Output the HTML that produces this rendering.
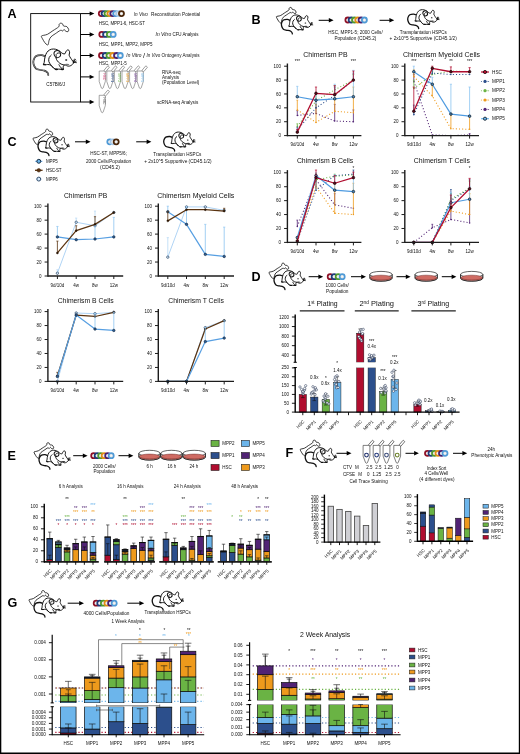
<!DOCTYPE html>
<html><head><meta charset="utf-8"><title>Figure</title>
<style>
html,body{margin:0;padding:0;background:#fff;}
body{width:520px;height:754px;overflow:hidden;}
svg{display:block;font-family:"Liberation Sans",sans-serif;}
</style></head><body>
<svg width="520" height="754" viewBox="0 0 520 754">
<rect x="0" y="0" width="520" height="754" fill="#fff"/>
<rect x="0" y="0" width="520" height="1.3" fill="#000"/>
<rect x="0" y="0" width="1.3" height="754" fill="#000"/>
<rect x="518.8" y="0" width="1.2" height="754" fill="#000"/>
<rect x="0" y="752.5" width="520" height="1.5" fill="#000"/>
<text x="7.6" y="17.9" font-size="12.6" fill="#000" font-weight="bold">A</text>
<rect x="30.7" y="13.6" width="49.8" height="88.4" fill="none" stroke="#000" stroke-width="0.9"/>
<line x1="80.5" y1="13.6" x2="90.1" y2="13.6" stroke="#000" stroke-width="1"/>
<polygon points="94.4,13.6 89.6,11.4 89.6,15.8" fill="#000"/>
<line x1="80.5" y1="34.5" x2="90.1" y2="34.5" stroke="#000" stroke-width="1"/>
<polygon points="94.4,34.5 89.6,32.3 89.6,36.7" fill="#000"/>
<line x1="80.5" y1="55.5" x2="90.1" y2="55.5" stroke="#000" stroke-width="1"/>
<polygon points="94.4,55.5 89.6,53.3 89.6,57.7" fill="#000"/>
<line x1="80.5" y1="76.9" x2="90.1" y2="76.9" stroke="#000" stroke-width="1"/>
<polygon points="94.4,76.9 89.6,74.7 89.6,79.1" fill="#000"/>
<line x1="80.5" y1="102" x2="90.1" y2="102" stroke="#000" stroke-width="1"/>
<polygon points="94.4,102 89.6,99.8 89.6,104.2" fill="#000"/>
<g transform="translate(36 18) scale(1)">
<path d="M5.4,18.1C5.6,17.52 6.68,17.6 7.7,17.3C8.72,17 9.97,17.07 11.5,16.3C13.03,15.53 15.03,13.95 16.9,12.7C18.77,11.45 21.67,9.83 22.7,8.8C23.73,7.77 22.8,7.1 23.1,6.5C23.4,5.9 23.93,5.32 24.5,5.2C25.07,5.08 26.03,5.38 26.5,5.8C26.97,6.22 26.92,7.28 27.3,7.7C27.68,8.12 28.22,8.15 28.8,8.3C29.38,8.45 30.15,8.07 30.8,8.6C31.45,9.13 32.52,10.65 32.7,11.5C32.88,12.35 32.42,13.43 31.9,13.7C31.38,13.97 30.23,13.47 29.6,13.1C28.97,12.73 28.62,11.5 28.1,11.5C27.58,11.5 27.08,12.97 26.5,13.1C25.92,13.23 25.82,11.85 24.6,12.3C23.38,12.75 20.8,14.72 19.2,15.8C17.6,16.88 16.02,17.72 15,18.8C13.98,19.88 13.55,21.07 13.1,22.3C12.65,23.53 12.62,25.43 12.3,26.2C11.98,26.97 11.78,27.17 11.2,26.9C10.62,26.63 9.58,25.62 8.8,24.6C8.02,23.58 7.07,21.88 6.5,20.8C5.93,19.72 5.2,18.68 5.4,18.1Z" fill="#fff" stroke="#111" stroke-width="0.8" stroke-linejoin="round"/>
</g>
<g transform="translate(30 44) scale(1)">
<path d="M15,12.3C14.42,12.1 12.97,11.15 11.5,11.1C10.03,11.05 7.52,11.2 6.2,12C4.88,12.8 4.03,14.53 3.6,15.9C3.17,17.27 3.2,18.75 3.6,20.2C4,21.65 4.83,23.63 6,24.6C7.17,25.57 9.2,25.67 10.6,26C12,26.33 13.23,26.13 14.4,26.6C15.57,27.07 16.95,28.07 17.6,28.8C18.25,29.53 18.18,30.63 18.3,31" fill="none" stroke="#111" stroke-width="1.7" stroke-linecap="round"/>
<path d="M15,12.3C14.42,12.1 12.97,11.15 11.5,11.1C10.03,11.05 7.52,11.2 6.2,12C4.88,12.8 4.03,14.53 3.6,15.9C3.17,17.27 3.2,18.75 3.6,20.2C4,21.65 4.83,23.63 6,24.6C7.17,25.57 9.2,25.67 10.6,26C12,26.33 13.23,26.13 14.4,26.6C15.57,27.07 16.95,28.07 17.6,28.8C18.25,29.53 18.18,30.63 18.3,31" fill="none" stroke="#fff" stroke-width="0.5" stroke-linecap="round"/>
<path d="M13.5,20.1C13.3,19.72 14.02,19.33 14.2,18.5C14.38,17.67 14.33,16.43 14.6,15.1C14.87,13.77 15.22,11.85 15.8,10.5C16.38,9.15 17.15,7.88 18.1,7C19.05,6.12 20.28,5.5 21.5,5.2C22.72,4.9 24.18,4.97 25.4,5.2C26.62,5.43 27.83,6.05 28.8,6.6C29.77,7.15 30.48,7.98 31.2,8.5C31.92,9.02 32.47,9.5 33.1,9.7C33.73,9.9 34.55,10.02 35,9.7C35.45,9.38 35.42,8.42 35.8,7.8C36.18,7.18 36.75,6.22 37.3,6C37.85,5.78 38.72,6.02 39.1,6.5C39.48,6.98 39.6,8.12 39.6,8.9C39.6,9.68 38.9,10.3 39.1,11.2C39.3,12.1 40.2,13.33 40.8,14.3C41.4,15.27 42.2,16.3 42.7,17C43.2,17.7 43.8,17.98 43.8,18.5C43.8,19.02 43.2,19.58 42.7,20.1C42.2,20.62 41.5,21.25 40.8,21.6C40.1,21.95 39.22,22.2 38.5,22.2C37.78,22.2 37.15,21.83 36.5,21.6C35.85,21.37 35.05,20.8 34.6,20.8C34.15,20.8 34.05,21.2 33.8,21.6C33.55,22 33.15,22.68 33.1,23.2C33.05,23.72 33.77,24.37 33.5,24.7C33.23,25.03 32.33,25.13 31.5,25.2C30.67,25.27 29.33,25.1 28.5,25.1C27.67,25.1 27.28,25.33 26.5,25.2C25.72,25.07 24.75,24.97 23.8,24.3C22.85,23.63 21.82,21.83 20.8,21.2C19.78,20.57 18.6,20.57 17.7,20.5C16.8,20.43 16.1,20.87 15.4,20.8C14.7,20.73 13.7,20.48 13.5,20.1Z" fill="#fff" stroke="#111" stroke-width="1" stroke-linejoin="round"/>
<path d="M21.5,10.8C21.12,11.25 19.65,12.4 19.2,13.5C18.75,14.6 18.53,16.18 18.8,17.4C19.07,18.62 19.97,19.65 20.8,20.8C21.63,21.95 23.3,23.72 23.8,24.3" fill="none" stroke="#111" stroke-width="1"/>
<path d="M28.8,20.4C29.03,20.8 29.68,22.1 30.2,22.8C30.72,23.5 31.62,24.3 31.9,24.6" fill="none" stroke="#111" stroke-width="1"/>
<path d="M25.8,12.8C25.92,13.25 26.05,14.6 26.5,15.5C26.95,16.4 27.72,17.43 28.5,18.2C29.28,18.97 30.18,19.62 31.2,20.1C32.22,20.58 34.03,20.93 34.6,21.1" fill="none" stroke="#111" stroke-width="1"/>
<ellipse cx="27.3" cy="10.1" rx="3.2" ry="3.5" transform="rotate(-20 27.3 10.1)" fill="#fff" stroke="#111" stroke-width="1"/>
<path d="M26.5,12.6C26.45,12.23 25.93,11.02 26.2,10.4C26.47,9.78 27.53,9.02 28.1,8.9C28.67,8.78 29.35,9.57 29.6,9.7" fill="none" stroke="#111" stroke-width="0.9"/>
<ellipse cx="36.2" cy="16" rx="1.1" ry="0.72" fill="#000"/>
<ellipse cx="36.9" cy="20.6" rx="2.4" ry="0.85" fill="#777"/>
<line x1="43.3" y1="17.9" x2="45.8" y2="15.1" stroke="#111" stroke-width="0.85"/>
<line x1="43.5" y1="18" x2="46.5" y2="17" stroke="#111" stroke-width="0.85"/>
<line x1="43.5" y1="18.3" x2="46.8" y2="18.7" stroke="#111" stroke-width="0.85"/>
<line x1="43.2" y1="17.8" x2="44.6" y2="14.7" stroke="#111" stroke-width="0.85"/>
<ellipse cx="43.5" cy="18.2" rx="0.8" ry="0.7" fill="#000"/>
<ellipse cx="26.4" cy="25.3" rx="1.8" ry="0.85" fill="#111"/>
<ellipse cx="32.3" cy="25.3" rx="1.8" ry="0.85" fill="#111"/>
<ellipse cx="14.4" cy="20.5" rx="1.6" ry="0.85" fill="#111"/>
</g>
<text x="46.3" y="85.88" font-size="4.66" fill="#111">C57Bl6/J</text>
<circle cx="101.3" cy="13.6" r="2.5" fill="#fff" stroke="#8e1026" stroke-width="1.8"/>
<circle cx="101.3" cy="13.6" r="1.15" fill="none" stroke="#c4c4c4" stroke-width="0.4"/>
<circle cx="104.18" cy="13.6" r="2.5" fill="#fff" stroke="#1f3c7c" stroke-width="1.8"/>
<circle cx="104.18" cy="13.6" r="1.15" fill="none" stroke="#c4c4c4" stroke-width="0.4"/>
<circle cx="107.06" cy="13.6" r="2.5" fill="#fff" stroke="#4f9a2e" stroke-width="1.8"/>
<circle cx="107.06" cy="13.6" r="1.15" fill="none" stroke="#c4c4c4" stroke-width="0.4"/>
<circle cx="109.94" cy="13.6" r="2.5" fill="#fff" stroke="#e28e16" stroke-width="1.8"/>
<circle cx="109.94" cy="13.6" r="1.15" fill="none" stroke="#c4c4c4" stroke-width="0.4"/>
<circle cx="112.82" cy="13.6" r="2.5" fill="#fff" stroke="#4a1f6e" stroke-width="1.8"/>
<circle cx="112.82" cy="13.6" r="1.15" fill="none" stroke="#c4c4c4" stroke-width="0.4"/>
<circle cx="115.7" cy="13.6" r="2.5" fill="#fff" stroke="#4f9ad6" stroke-width="1.8"/>
<circle cx="115.7" cy="13.6" r="1.15" fill="none" stroke="#c4c4c4" stroke-width="0.4"/>
<circle cx="118.58" cy="13.6" r="2.5" fill="#fff" stroke="#a9c9e8" stroke-width="1.8"/>
<circle cx="118.58" cy="13.6" r="1.15" fill="none" stroke="#c4c4c4" stroke-width="0.4"/>
<circle cx="121.46" cy="13.6" r="2.5" fill="#fff" stroke="#4a2609" stroke-width="1.8"/>
<circle cx="121.46" cy="13.6" r="1.15" fill="none" stroke="#c4c4c4" stroke-width="0.4"/>
<circle cx="101.8" cy="34.4" r="2.5" fill="#fff" stroke="#8e1026" stroke-width="1.8"/>
<circle cx="101.8" cy="34.4" r="1.15" fill="none" stroke="#c4c4c4" stroke-width="0.4"/>
<circle cx="105.6" cy="34.4" r="2.5" fill="#fff" stroke="#1f3c7c" stroke-width="1.8"/>
<circle cx="105.6" cy="34.4" r="1.15" fill="none" stroke="#c4c4c4" stroke-width="0.4"/>
<circle cx="109.4" cy="34.4" r="2.5" fill="#fff" stroke="#4f9a2e" stroke-width="1.8"/>
<circle cx="109.4" cy="34.4" r="1.15" fill="none" stroke="#c4c4c4" stroke-width="0.4"/>
<circle cx="113.2" cy="34.4" r="2.5" fill="#fff" stroke="#4f9ad6" stroke-width="1.8"/>
<circle cx="113.2" cy="34.4" r="1.15" fill="none" stroke="#c4c4c4" stroke-width="0.4"/>
<circle cx="101.5" cy="55.5" r="2.5" fill="#fff" stroke="#8e1026" stroke-width="1.8"/>
<circle cx="101.5" cy="55.5" r="1.15" fill="none" stroke="#c4c4c4" stroke-width="0.4"/>
<circle cx="105.26" cy="55.5" r="2.5" fill="#fff" stroke="#1f3c7c" stroke-width="1.8"/>
<circle cx="105.26" cy="55.5" r="1.15" fill="none" stroke="#c4c4c4" stroke-width="0.4"/>
<circle cx="109.02" cy="55.5" r="2.5" fill="#fff" stroke="#4f9a2e" stroke-width="1.8"/>
<circle cx="109.02" cy="55.5" r="1.15" fill="none" stroke="#c4c4c4" stroke-width="0.4"/>
<circle cx="112.78" cy="55.5" r="2.5" fill="#fff" stroke="#e28e16" stroke-width="1.8"/>
<circle cx="112.78" cy="55.5" r="1.15" fill="none" stroke="#c4c4c4" stroke-width="0.4"/>
<circle cx="116.54" cy="55.5" r="2.5" fill="#fff" stroke="#4a1f6e" stroke-width="1.8"/>
<circle cx="116.54" cy="55.5" r="1.15" fill="none" stroke="#c4c4c4" stroke-width="0.4"/>
<circle cx="120.3" cy="55.5" r="2.5" fill="#fff" stroke="#4f9ad6" stroke-width="1.8"/>
<circle cx="120.3" cy="55.5" r="1.15" fill="none" stroke="#c4c4c4" stroke-width="0.4"/>
<text x="98.8" y="24.52" font-size="4.5" fill="#111" textLength="46.2" lengthAdjust="spacing">HSC, MPP1-6, HSC-ST</text>
<text x="98.8" y="45.52" font-size="4.5" fill="#111" textLength="53.7" lengthAdjust="spacing">HSC, MPP1, MPP2, MPP5</text>
<text x="98.8" y="64.72" font-size="4.5" fill="#111" textLength="28" lengthAdjust="spacing">HSC, MPP1-5</text>
<text x="133.8" y="15.88" font-size="4.67" fill="#111" font-style="italic">In Vivo</text>
<text x="151" y="15.89" font-size="4.69" fill="#111">Reconstitution Potential</text>
<text x="155.5" y="36.19" font-size="4.98" fill="#111" font-style="italic">In Vitro</text>
<text x="172.6" y="36.02" font-size="4.5" fill="#111" textLength="25.8" lengthAdjust="spacing">CFU Analysis</text>
<text x="126.3" y="57.34" font-size="4.83" fill="#111" font-style="italic">In Vitro</text>
<text x="143" y="58.19" font-size="7.2" fill="#111">/</text>
<text x="146.6" y="57.22" font-size="4.5" fill="#111" font-style="italic" textLength="13.6" lengthAdjust="spacing">In Vivo</text>
<text x="161.6" y="57.25" font-size="4.58" fill="#111">Ontogeny Analysis</text>
<text x="162" y="73.64" font-size="4.56" fill="#111">RNA-seq</text>
<text x="162" y="79.04" font-size="4.57" fill="#111">Analysis</text>
<text x="162" y="84.47" font-size="4.63" fill="#111">(Population Level)</text>
<text x="157" y="103.95" font-size="4.59" fill="#111">scRNA-seq Analysis</text>
<path d="M99.2,71 L99.2,81.56 L101.4,88.07 Q102.25,89.13 103.1,88.07 L105.3,81.56 L105.3,71 Z" fill="#fff" stroke="#6a6a6a" stroke-width="0.6" stroke-linejoin="round"/>
<g transform="translate(104.7 71.2) rotate(-50)"><rect x="0" y="-1.1" width="6.2" height="2.2" rx="0.5" fill="#fff" stroke="#6a6a6a" stroke-width="0.6"/></g>
<text x="103.25" y="73.2" font-size="3.3" fill="#d6336c" transform="rotate(90 103.25 73.2)">HSC</text>
<path d="M106.8,71 L106.8,81.56 L109,88.07 Q109.85,89.13 110.7,88.07 L112.9,81.56 L112.9,71 Z" fill="#fff" stroke="#6a6a6a" stroke-width="0.6" stroke-linejoin="round"/>
<g transform="translate(112.3 71.2) rotate(-50)"><rect x="0" y="-1.1" width="6.2" height="2.2" rx="0.5" fill="#fff" stroke="#6a6a6a" stroke-width="0.6"/></g>
<text x="110.85" y="73.2" font-size="3.3" fill="#2c4f8c" transform="rotate(90 110.85 73.2)">MPP1</text>
<path d="M114.4,71 L114.4,81.56 L116.6,88.07 Q117.45,89.13 118.3,88.07 L120.5,81.56 L120.5,71 Z" fill="#fff" stroke="#6a6a6a" stroke-width="0.6" stroke-linejoin="round"/>
<g transform="translate(119.9 71.2) rotate(-50)"><rect x="0" y="-1.1" width="6.2" height="2.2" rx="0.5" fill="#fff" stroke="#6a6a6a" stroke-width="0.6"/></g>
<text x="118.45" y="73.2" font-size="3.3" fill="#6ab344" transform="rotate(90 118.45 73.2)">MPP2</text>
<path d="M122,71 L122,81.56 L124.2,88.07 Q125.05,89.13 125.9,88.07 L128.1,81.56 L128.1,71 Z" fill="#fff" stroke="#6a6a6a" stroke-width="0.6" stroke-linejoin="round"/>
<g transform="translate(127.5 71.2) rotate(-50)"><rect x="0" y="-1.1" width="6.2" height="2.2" rx="0.5" fill="#fff" stroke="#6a6a6a" stroke-width="0.6"/></g>
<text x="126.05" y="73.2" font-size="3.3" fill="#ee9a1c" transform="rotate(90 126.05 73.2)">MPP3</text>
<path d="M129.6,71 L129.6,81.56 L131.8,88.07 Q132.65,89.13 133.5,88.07 L135.7,81.56 L135.7,71 Z" fill="#fff" stroke="#6a6a6a" stroke-width="0.6" stroke-linejoin="round"/>
<g transform="translate(135.1 71.2) rotate(-50)"><rect x="0" y="-1.1" width="6.2" height="2.2" rx="0.5" fill="#fff" stroke="#6a6a6a" stroke-width="0.6"/></g>
<text x="133.65" y="73.2" font-size="3.3" fill="#7a3fa0" transform="rotate(90 133.65 73.2)">MPP4</text>
<path d="M137.2,71 L137.2,81.56 L139.4,88.07 Q140.25,89.13 141.1,88.07 L143.3,81.56 L143.3,71 Z" fill="#fff" stroke="#6a6a6a" stroke-width="0.6" stroke-linejoin="round"/>
<g transform="translate(142.7 71.2) rotate(-50)"><rect x="0" y="-1.1" width="6.2" height="2.2" rx="0.5" fill="#fff" stroke="#6a6a6a" stroke-width="0.6"/></g>
<text x="141.25" y="73.2" font-size="3.3" fill="#6cb5eb" transform="rotate(90 141.25 73.2)">MPP5</text>
<path d="M99.2,95.3 L99.2,105.74 L101.4,112.18 Q102.25,113.22 103.1,112.18 L105.3,105.74 L105.3,95.3 Z" fill="#fff" stroke="#6a6a6a" stroke-width="0.6" stroke-linejoin="round"/>
<g transform="translate(104.7 95.5) rotate(-50)"><rect x="0" y="-1.1" width="6.2" height="2.2" rx="0.5" fill="#fff" stroke="#6a6a6a" stroke-width="0.6"/></g>
<text x="103.25" y="97.5" font-size="3.3" fill="#444" transform="rotate(90 103.25 97.5)">HSC</text>
<text x="251.6" y="23.9" font-size="12.6" fill="#000" font-weight="bold">B</text>
<g transform="translate(272.5 3.7) scale(0.72)">
<path d="M5.4,18.1C5.6,17.52 6.68,17.6 7.7,17.3C8.72,17 9.97,17.07 11.5,16.3C13.03,15.53 15.03,13.95 16.9,12.7C18.77,11.45 21.67,9.83 22.7,8.8C23.73,7.77 22.8,7.1 23.1,6.5C23.4,5.9 23.93,5.32 24.5,5.2C25.07,5.08 26.03,5.38 26.5,5.8C26.97,6.22 26.92,7.28 27.3,7.7C27.68,8.12 28.22,8.15 28.8,8.3C29.38,8.45 30.15,8.07 30.8,8.6C31.45,9.13 32.52,10.65 32.7,11.5C32.88,12.35 32.42,13.43 31.9,13.7C31.38,13.97 30.23,13.47 29.6,13.1C28.97,12.73 28.62,11.5 28.1,11.5C27.58,11.5 27.08,12.97 26.5,13.1C25.92,13.23 25.82,11.85 24.6,12.3C23.38,12.75 20.8,14.72 19.2,15.8C17.6,16.88 16.02,17.72 15,18.8C13.98,19.88 13.55,21.07 13.1,22.3C12.65,23.53 12.62,25.43 12.3,26.2C11.98,26.97 11.78,27.17 11.2,26.9C10.62,26.63 9.58,25.62 8.8,24.6C8.02,23.58 7.07,21.88 6.5,20.8C5.93,19.72 5.2,18.68 5.4,18.1Z" fill="#fff" stroke="#111" stroke-width="1.18" stroke-linejoin="round"/>
</g>
<g transform="translate(279 11.3) scale(0.73)">
<path d="M15,12.3C14.42,12.1 12.97,11.15 11.5,11.1C10.03,11.05 7.52,11.2 6.2,12C4.88,12.8 4.03,14.53 3.6,15.9C3.17,17.27 3.2,18.75 3.6,20.2C4,21.65 4.83,23.63 6,24.6C7.17,25.57 9.2,25.67 10.6,26C12,26.33 13.23,26.13 14.4,26.6C15.57,27.07 16.95,28.07 17.6,28.8C18.25,29.53 18.18,30.63 18.3,31" fill="none" stroke="#111" stroke-width="1.78" stroke-linecap="round"/>
<path d="M13.5,20.1C13.3,19.72 14.02,19.33 14.2,18.5C14.38,17.67 14.33,16.43 14.6,15.1C14.87,13.77 15.22,11.85 15.8,10.5C16.38,9.15 17.15,7.88 18.1,7C19.05,6.12 20.28,5.5 21.5,5.2C22.72,4.9 24.18,4.97 25.4,5.2C26.62,5.43 27.83,6.05 28.8,6.6C29.77,7.15 30.48,7.98 31.2,8.5C31.92,9.02 32.47,9.5 33.1,9.7C33.73,9.9 34.55,10.02 35,9.7C35.45,9.38 35.42,8.42 35.8,7.8C36.18,7.18 36.75,6.22 37.3,6C37.85,5.78 38.72,6.02 39.1,6.5C39.48,6.98 39.6,8.12 39.6,8.9C39.6,9.68 38.9,10.3 39.1,11.2C39.3,12.1 40.2,13.33 40.8,14.3C41.4,15.27 42.2,16.3 42.7,17C43.2,17.7 43.8,17.98 43.8,18.5C43.8,19.02 43.2,19.58 42.7,20.1C42.2,20.62 41.5,21.25 40.8,21.6C40.1,21.95 39.22,22.2 38.5,22.2C37.78,22.2 37.15,21.83 36.5,21.6C35.85,21.37 35.05,20.8 34.6,20.8C34.15,20.8 34.05,21.2 33.8,21.6C33.55,22 33.15,22.68 33.1,23.2C33.05,23.72 33.77,24.37 33.5,24.7C33.23,25.03 32.33,25.13 31.5,25.2C30.67,25.27 29.33,25.1 28.5,25.1C27.67,25.1 27.28,25.33 26.5,25.2C25.72,25.07 24.75,24.97 23.8,24.3C22.85,23.63 21.82,21.83 20.8,21.2C19.78,20.57 18.6,20.57 17.7,20.5C16.8,20.43 16.1,20.87 15.4,20.8C14.7,20.73 13.7,20.48 13.5,20.1Z" fill="#fff" stroke="#111" stroke-width="1.3" stroke-linejoin="round"/>
<path d="M21.5,10.8C21.12,11.25 19.65,12.4 19.2,13.5C18.75,14.6 18.53,16.18 18.8,17.4C19.07,18.62 19.97,19.65 20.8,20.8C21.63,21.95 23.3,23.72 23.8,24.3" fill="none" stroke="#111" stroke-width="1.3"/>
<path d="M28.8,20.4C29.03,20.8 29.68,22.1 30.2,22.8C30.72,23.5 31.62,24.3 31.9,24.6" fill="none" stroke="#111" stroke-width="1.3"/>
<path d="M25.8,12.8C25.92,13.25 26.05,14.6 26.5,15.5C26.95,16.4 27.72,17.43 28.5,18.2C29.28,18.97 30.18,19.62 31.2,20.1C32.22,20.58 34.03,20.93 34.6,21.1" fill="none" stroke="#111" stroke-width="1.3"/>
<ellipse cx="27.3" cy="10.1" rx="3.2" ry="3.5" transform="rotate(-20 27.3 10.1)" fill="#fff" stroke="#111" stroke-width="1.3"/>
<path d="M26.5,12.6C26.45,12.23 25.93,11.02 26.2,10.4C26.47,9.78 27.53,9.02 28.1,8.9C28.67,8.78 29.35,9.57 29.6,9.7" fill="none" stroke="#111" stroke-width="1.17"/>
<ellipse cx="36.2" cy="16" rx="1.1" ry="0.72" fill="#000"/>
<ellipse cx="36.9" cy="20.6" rx="2.4" ry="0.85" fill="#333"/>
<line x1="43.3" y1="17.9" x2="45.8" y2="15.1" stroke="#111" stroke-width="1.11"/>
<line x1="43.5" y1="18" x2="46.5" y2="17" stroke="#111" stroke-width="1.11"/>
<line x1="43.5" y1="18.3" x2="46.8" y2="18.7" stroke="#111" stroke-width="1.11"/>
<line x1="43.2" y1="17.8" x2="44.6" y2="14.7" stroke="#111" stroke-width="1.11"/>
<ellipse cx="43.5" cy="18.2" rx="0.8" ry="0.7" fill="#000"/>
<ellipse cx="26.4" cy="25.3" rx="1.8" ry="0.85" fill="#111"/>
<ellipse cx="32.3" cy="25.3" rx="1.8" ry="0.85" fill="#111"/>
<ellipse cx="14.4" cy="20.5" rx="1.6" ry="0.85" fill="#111"/>
</g>
<line x1="318.7" y1="20.3" x2="329.3" y2="20.3" stroke="#000" stroke-width="1"/>
<polygon points="333.6,20.3 328.8,18.1 328.8,22.5" fill="#000"/>
<circle cx="347.9" cy="20" r="2.5" fill="#fff" stroke="#8e1026" stroke-width="1.8"/>
<circle cx="347.9" cy="20" r="1.15" fill="none" stroke="#c4c4c4" stroke-width="0.4"/>
<circle cx="351.2" cy="20" r="2.5" fill="#fff" stroke="#1f3c7c" stroke-width="1.8"/>
<circle cx="351.2" cy="20" r="1.15" fill="none" stroke="#c4c4c4" stroke-width="0.4"/>
<circle cx="354.5" cy="20" r="2.5" fill="#fff" stroke="#4f9a2e" stroke-width="1.8"/>
<circle cx="354.5" cy="20" r="1.15" fill="none" stroke="#c4c4c4" stroke-width="0.4"/>
<circle cx="357.8" cy="20" r="2.5" fill="#fff" stroke="#e28e16" stroke-width="1.8"/>
<circle cx="357.8" cy="20" r="1.15" fill="none" stroke="#c4c4c4" stroke-width="0.4"/>
<circle cx="361.1" cy="20" r="2.5" fill="#fff" stroke="#4a1f6e" stroke-width="1.8"/>
<circle cx="361.1" cy="20" r="1.15" fill="none" stroke="#c4c4c4" stroke-width="0.4"/>
<circle cx="364.4" cy="20" r="2.5" fill="#fff" stroke="#4f9ad6" stroke-width="1.8"/>
<circle cx="364.4" cy="20" r="1.15" fill="none" stroke="#c4c4c4" stroke-width="0.4"/>
<line x1="379.6" y1="20.3" x2="389.9" y2="20.3" stroke="#000" stroke-width="1"/>
<polygon points="394.2,20.3 389.4,18.1 389.4,22.5" fill="#000"/>
<g transform="translate(405.3 6) scale(0.73)">
<path d="M15,12.3C14.42,12.1 12.97,11.15 11.5,11.1C10.03,11.05 7.52,11.2 6.2,12C4.88,12.8 4.03,14.53 3.6,15.9C3.17,17.27 3.2,18.75 3.6,20.2C4,21.65 4.83,23.63 6,24.6C7.17,25.57 9.2,25.67 10.6,26C12,26.33 13.23,26.13 14.4,26.6C15.57,27.07 16.95,28.07 17.6,28.8C18.25,29.53 18.18,30.63 18.3,31" fill="none" stroke="#111" stroke-width="1.78" stroke-linecap="round"/>
<path d="M13.5,20.1C13.3,19.72 14.02,19.33 14.2,18.5C14.38,17.67 14.33,16.43 14.6,15.1C14.87,13.77 15.22,11.85 15.8,10.5C16.38,9.15 17.15,7.88 18.1,7C19.05,6.12 20.28,5.5 21.5,5.2C22.72,4.9 24.18,4.97 25.4,5.2C26.62,5.43 27.83,6.05 28.8,6.6C29.77,7.15 30.48,7.98 31.2,8.5C31.92,9.02 32.47,9.5 33.1,9.7C33.73,9.9 34.55,10.02 35,9.7C35.45,9.38 35.42,8.42 35.8,7.8C36.18,7.18 36.75,6.22 37.3,6C37.85,5.78 38.72,6.02 39.1,6.5C39.48,6.98 39.6,8.12 39.6,8.9C39.6,9.68 38.9,10.3 39.1,11.2C39.3,12.1 40.2,13.33 40.8,14.3C41.4,15.27 42.2,16.3 42.7,17C43.2,17.7 43.8,17.98 43.8,18.5C43.8,19.02 43.2,19.58 42.7,20.1C42.2,20.62 41.5,21.25 40.8,21.6C40.1,21.95 39.22,22.2 38.5,22.2C37.78,22.2 37.15,21.83 36.5,21.6C35.85,21.37 35.05,20.8 34.6,20.8C34.15,20.8 34.05,21.2 33.8,21.6C33.55,22 33.15,22.68 33.1,23.2C33.05,23.72 33.77,24.37 33.5,24.7C33.23,25.03 32.33,25.13 31.5,25.2C30.67,25.27 29.33,25.1 28.5,25.1C27.67,25.1 27.28,25.33 26.5,25.2C25.72,25.07 24.75,24.97 23.8,24.3C22.85,23.63 21.82,21.83 20.8,21.2C19.78,20.57 18.6,20.57 17.7,20.5C16.8,20.43 16.1,20.87 15.4,20.8C14.7,20.73 13.7,20.48 13.5,20.1Z" fill="#fff" stroke="#111" stroke-width="1.3" stroke-linejoin="round"/>
<path d="M21.5,10.8C21.12,11.25 19.65,12.4 19.2,13.5C18.75,14.6 18.53,16.18 18.8,17.4C19.07,18.62 19.97,19.65 20.8,20.8C21.63,21.95 23.3,23.72 23.8,24.3" fill="none" stroke="#111" stroke-width="1.3"/>
<path d="M28.8,20.4C29.03,20.8 29.68,22.1 30.2,22.8C30.72,23.5 31.62,24.3 31.9,24.6" fill="none" stroke="#111" stroke-width="1.3"/>
<path d="M25.8,12.8C25.92,13.25 26.05,14.6 26.5,15.5C26.95,16.4 27.72,17.43 28.5,18.2C29.28,18.97 30.18,19.62 31.2,20.1C32.22,20.58 34.03,20.93 34.6,21.1" fill="none" stroke="#111" stroke-width="1.3"/>
<ellipse cx="27.3" cy="10.1" rx="3.2" ry="3.5" transform="rotate(-20 27.3 10.1)" fill="#fff" stroke="#111" stroke-width="1.3"/>
<path d="M26.5,12.6C26.45,12.23 25.93,11.02 26.2,10.4C26.47,9.78 27.53,9.02 28.1,8.9C28.67,8.78 29.35,9.57 29.6,9.7" fill="none" stroke="#111" stroke-width="1.17"/>
<ellipse cx="36.2" cy="16" rx="1.1" ry="0.72" fill="#000"/>
<ellipse cx="36.9" cy="20.6" rx="2.4" ry="0.85" fill="#333"/>
<line x1="43.3" y1="17.9" x2="45.8" y2="15.1" stroke="#111" stroke-width="1.11"/>
<line x1="43.5" y1="18" x2="46.5" y2="17" stroke="#111" stroke-width="1.11"/>
<line x1="43.5" y1="18.3" x2="46.8" y2="18.7" stroke="#111" stroke-width="1.11"/>
<line x1="43.2" y1="17.8" x2="44.6" y2="14.7" stroke="#111" stroke-width="1.11"/>
<ellipse cx="43.5" cy="18.2" rx="0.8" ry="0.7" fill="#000"/>
<ellipse cx="26.4" cy="25.3" rx="1.8" ry="0.85" fill="#111"/>
<ellipse cx="32.3" cy="25.3" rx="1.8" ry="0.85" fill="#111"/>
<ellipse cx="14.4" cy="20.5" rx="1.6" ry="0.85" fill="#111"/>
</g>
<text x="328.3" y="34.16" font-size="4.6" fill="#111">HSC, MPP1-5; 2000 Cells/</text>
<text x="334.4" y="39.77" font-size="4.64" fill="#111">Population (CD45.2)</text>
<text x="399.8" y="34.13" font-size="4.53" fill="#111">Transplantation HSPCs</text>
<text x="389.6" y="39.8" font-size="4.72" fill="#111">+ 2x10^5 Supportive (CD45.1/2)</text>
<line x1="297.3" y1="115.47" x2="297.3" y2="110.62" stroke="#512374" stroke-width="0.8"/>
<line x1="296.4" y1="110.62" x2="298.2" y2="110.62" stroke="#512374" stroke-width="0.7"/>
<line x1="316" y1="113.39" x2="316" y2="107.84" stroke="#512374" stroke-width="0.8"/>
<line x1="315.1" y1="107.84" x2="316.9" y2="107.84" stroke="#512374" stroke-width="0.7"/>
<line x1="334.7" y1="121.03" x2="334.7" y2="104.37" stroke="#512374" stroke-width="0.8"/>
<line x1="333.8" y1="104.37" x2="335.6" y2="104.37" stroke="#512374" stroke-width="0.7"/>
<line x1="353.4" y1="121.72" x2="353.4" y2="109.92" stroke="#512374" stroke-width="0.8"/>
<line x1="352.5" y1="109.92" x2="354.3" y2="109.92" stroke="#512374" stroke-width="0.7"/>
<polyline points="297.3,115.47 316,113.39 334.7,121.03 353.4,121.72" fill="none" stroke="#512374" stroke-width="1.05" stroke-linejoin="round" stroke-dasharray="1.05 2.1"/>
<circle cx="297.3" cy="115.47" r="0.75" fill="#512374"/>
<circle cx="316" cy="113.39" r="0.75" fill="#512374"/>
<circle cx="334.7" cy="121.03" r="0.75" fill="#512374"/>
<circle cx="353.4" cy="121.72" r="0.75" fill="#512374"/>
<line x1="297.3" y1="109.92" x2="297.3" y2="100.21" stroke="#ee9a1c" stroke-width="0.8"/>
<line x1="296.4" y1="100.21" x2="298.2" y2="100.21" stroke="#ee9a1c" stroke-width="0.7"/>
<line x1="316" y1="122.41" x2="316" y2="104.37" stroke="#ee9a1c" stroke-width="0.8"/>
<line x1="315.1" y1="104.37" x2="316.9" y2="104.37" stroke="#ee9a1c" stroke-width="0.7"/>
<line x1="334.7" y1="111.31" x2="334.7" y2="92.57" stroke="#ee9a1c" stroke-width="0.8"/>
<line x1="333.8" y1="92.57" x2="335.6" y2="92.57" stroke="#ee9a1c" stroke-width="0.7"/>
<line x1="353.4" y1="112.7" x2="353.4" y2="87.02" stroke="#ee9a1c" stroke-width="0.8"/>
<line x1="352.5" y1="87.02" x2="354.3" y2="87.02" stroke="#ee9a1c" stroke-width="0.7"/>
<polyline points="297.3,109.92 316,122.41 334.7,111.31 353.4,112.7" fill="none" stroke="#ee9a1c" stroke-width="1.05" stroke-linejoin="round" stroke-dasharray="1.05 2.1"/>
<circle cx="297.3" cy="109.92" r="0.75" fill="#ee9a1c"/>
<circle cx="316" cy="122.41" r="0.75" fill="#ee9a1c"/>
<circle cx="334.7" cy="111.31" r="0.75" fill="#ee9a1c"/>
<circle cx="353.4" cy="112.7" r="0.75" fill="#ee9a1c"/>
<line x1="297.3" y1="126.58" x2="297.3" y2="123.8" stroke="#6ab344" stroke-width="0.8"/>
<line x1="296.4" y1="123.8" x2="298.2" y2="123.8" stroke="#6ab344" stroke-width="0.7"/>
<line x1="316" y1="100.9" x2="316" y2="92.57" stroke="#6ab344" stroke-width="0.8"/>
<line x1="315.1" y1="92.57" x2="316.9" y2="92.57" stroke="#6ab344" stroke-width="0.7"/>
<line x1="334.7" y1="89.8" x2="334.7" y2="85.63" stroke="#6ab344" stroke-width="0.8"/>
<line x1="333.8" y1="85.63" x2="335.6" y2="85.63" stroke="#6ab344" stroke-width="0.7"/>
<line x1="353.4" y1="80.08" x2="353.4" y2="74.53" stroke="#6ab344" stroke-width="0.8"/>
<line x1="352.5" y1="74.53" x2="354.3" y2="74.53" stroke="#6ab344" stroke-width="0.7"/>
<polyline points="297.3,126.58 316,100.9 334.7,89.8 353.4,80.08" fill="none" stroke="#6ab344" stroke-width="1.05" stroke-linejoin="round" stroke-dasharray="1.05 2.1"/>
<circle cx="297.3" cy="126.58" r="0.75" fill="#6ab344"/>
<circle cx="316" cy="100.9" r="0.75" fill="#6ab344"/>
<circle cx="334.7" cy="89.8" r="0.75" fill="#6ab344"/>
<circle cx="353.4" cy="80.08" r="0.75" fill="#6ab344"/>
<line x1="297.3" y1="130.05" x2="297.3" y2="127.27" stroke="#2c4f8c" stroke-width="0.8"/>
<line x1="296.4" y1="127.27" x2="298.2" y2="127.27" stroke="#2c4f8c" stroke-width="0.7"/>
<line x1="316" y1="107.84" x2="316" y2="99.51" stroke="#2c4f8c" stroke-width="0.8"/>
<line x1="315.1" y1="99.51" x2="316.9" y2="99.51" stroke="#2c4f8c" stroke-width="0.7"/>
<line x1="334.7" y1="95.35" x2="334.7" y2="87.02" stroke="#2c4f8c" stroke-width="0.8"/>
<line x1="333.8" y1="87.02" x2="335.6" y2="87.02" stroke="#2c4f8c" stroke-width="0.7"/>
<line x1="353.4" y1="80.08" x2="353.4" y2="73.14" stroke="#2c4f8c" stroke-width="0.8"/>
<line x1="352.5" y1="73.14" x2="354.3" y2="73.14" stroke="#2c4f8c" stroke-width="0.7"/>
<polyline points="297.3,130.05 316,107.84 334.7,95.35 353.4,80.08" fill="none" stroke="#2c4f8c" stroke-width="1.05" stroke-linejoin="round" stroke-dasharray="1.05 2.1"/>
<circle cx="297.3" cy="130.05" r="0.75" fill="#2c4f8c"/>
<circle cx="316" cy="107.84" r="0.75" fill="#2c4f8c"/>
<circle cx="334.7" cy="95.35" r="0.75" fill="#2c4f8c"/>
<circle cx="353.4" cy="80.08" r="0.75" fill="#2c4f8c"/>
<line x1="297.3" y1="96.74" x2="297.3" y2="86.33" stroke="#8cc4f0" stroke-width="0.8"/>
<line x1="296.2" y1="86.33" x2="298.4" y2="86.33" stroke="#8cc4f0" stroke-width="0.7"/>
<line x1="316" y1="100.21" x2="316" y2="93.96" stroke="#8cc4f0" stroke-width="0.8"/>
<line x1="314.9" y1="93.96" x2="317.1" y2="93.96" stroke="#8cc4f0" stroke-width="0.7"/>
<line x1="334.7" y1="98.82" x2="334.7" y2="84.24" stroke="#8cc4f0" stroke-width="0.8"/>
<line x1="333.6" y1="84.24" x2="335.8" y2="84.24" stroke="#8cc4f0" stroke-width="0.7"/>
<line x1="353.4" y1="96.74" x2="353.4" y2="70.36" stroke="#8cc4f0" stroke-width="0.8"/>
<line x1="352.3" y1="70.36" x2="354.5" y2="70.36" stroke="#8cc4f0" stroke-width="0.7"/>
<polyline points="297.3,96.74 316,100.21 334.7,98.82 353.4,96.74" fill="none" stroke="#4f9be0" stroke-width="1.2" stroke-linejoin="round"/>
<circle cx="297.3" cy="96.74" r="1.3" fill="#4d86b8" stroke="#10202e" stroke-width="0.75"/>
<circle cx="316" cy="100.21" r="1.3" fill="#4d86b8" stroke="#10202e" stroke-width="0.75"/>
<circle cx="334.7" cy="98.82" r="1.3" fill="#4d86b8" stroke="#10202e" stroke-width="0.75"/>
<circle cx="353.4" cy="96.74" r="1.3" fill="#4d86b8" stroke="#10202e" stroke-width="0.75"/>
<line x1="297.3" y1="132.13" x2="297.3" y2="129.35" stroke="#b00d2f" stroke-width="0.8"/>
<line x1="296.2" y1="129.35" x2="298.4" y2="129.35" stroke="#b00d2f" stroke-width="0.7"/>
<line x1="316" y1="93.27" x2="316" y2="87.02" stroke="#b00d2f" stroke-width="0.8"/>
<line x1="314.9" y1="87.02" x2="317.1" y2="87.02" stroke="#b00d2f" stroke-width="0.7"/>
<line x1="334.7" y1="94.65" x2="334.7" y2="85.63" stroke="#b00d2f" stroke-width="0.8"/>
<line x1="333.6" y1="85.63" x2="335.8" y2="85.63" stroke="#b00d2f" stroke-width="0.7"/>
<line x1="353.4" y1="80.08" x2="353.4" y2="71.06" stroke="#b00d2f" stroke-width="0.8"/>
<line x1="352.3" y1="71.06" x2="354.5" y2="71.06" stroke="#b00d2f" stroke-width="0.7"/>
<polyline points="297.3,132.13 316,93.27 334.7,94.65 353.4,80.08" fill="none" stroke="#b00d2f" stroke-width="1.28" stroke-linejoin="round"/>
<circle cx="297.3" cy="132.13" r="1.3" fill="#5a0c1a" stroke="#1a0508" stroke-width="0.7"/>
<circle cx="316" cy="93.27" r="1.3" fill="#5a0c1a" stroke="#1a0508" stroke-width="0.7"/>
<circle cx="334.7" cy="94.65" r="1.3" fill="#5a0c1a" stroke="#1a0508" stroke-width="0.7"/>
<circle cx="353.4" cy="80.08" r="1.3" fill="#5a0c1a" stroke="#1a0508" stroke-width="0.7"/>
<line x1="287.4" y1="63.5" x2="287.4" y2="136.3" stroke="#1c1c1c" stroke-width="1.4"/>
<line x1="287.4" y1="135.6" x2="361.4" y2="135.6" stroke="#1c1c1c" stroke-width="1.4"/>
<line x1="284.1" y1="135.6" x2="287.4" y2="135.6" stroke="#1c1c1c" stroke-width="1"/>
<text x="281.1" y="137.2" font-size="4.5" fill="#111" text-anchor="end">0</text>
<line x1="284.1" y1="121.72" x2="287.4" y2="121.72" stroke="#1c1c1c" stroke-width="1"/>
<text x="281.1" y="123.32" font-size="4.5" fill="#111" text-anchor="end">20</text>
<line x1="284.1" y1="107.84" x2="287.4" y2="107.84" stroke="#1c1c1c" stroke-width="1"/>
<text x="281.1" y="109.44" font-size="4.5" fill="#111" text-anchor="end">40</text>
<line x1="284.1" y1="93.96" x2="287.4" y2="93.96" stroke="#1c1c1c" stroke-width="1"/>
<text x="281.1" y="95.56" font-size="4.5" fill="#111" text-anchor="end">60</text>
<line x1="284.1" y1="80.08" x2="287.4" y2="80.08" stroke="#1c1c1c" stroke-width="1"/>
<text x="281.1" y="81.68" font-size="4.5" fill="#111" text-anchor="end">80</text>
<line x1="284.1" y1="66.2" x2="287.4" y2="66.2" stroke="#1c1c1c" stroke-width="1"/>
<text x="281.1" y="67.8" font-size="4.5" fill="#111" text-anchor="end">100</text>
<line x1="297.3" y1="135.6" x2="297.3" y2="138.6" stroke="#1c1c1c" stroke-width="1"/>
<text x="297.3" y="146.2" font-size="4.5" fill="#111" text-anchor="middle">9d/10d</text>
<line x1="316" y1="135.6" x2="316" y2="138.6" stroke="#1c1c1c" stroke-width="1"/>
<text x="316" y="146.2" font-size="4.5" fill="#111" text-anchor="middle">4w</text>
<line x1="334.7" y1="135.6" x2="334.7" y2="138.6" stroke="#1c1c1c" stroke-width="1"/>
<text x="334.7" y="146.2" font-size="4.5" fill="#111" text-anchor="middle">8w</text>
<line x1="353.4" y1="135.6" x2="353.4" y2="138.6" stroke="#1c1c1c" stroke-width="1"/>
<text x="353.4" y="146.2" font-size="4.5" fill="#111" text-anchor="middle">12w</text>
<text x="303.3" y="56.6" font-size="6.95" fill="#111">Chimerism PB</text>
<text x="297.3" y="63.3" font-size="4.5" fill="#111" text-anchor="middle">***</text>
<text x="353.4" y="63.3" font-size="4.5" fill="#111" text-anchor="middle">***</text>
<line x1="413.8" y1="81.47" x2="413.8" y2="74.53" stroke="#512374" stroke-width="0.8"/>
<line x1="412.9" y1="74.53" x2="414.7" y2="74.53" stroke="#512374" stroke-width="0.7"/>
<line x1="469.6" y1="134.91" x2="469.6" y2="133.52" stroke="#512374" stroke-width="0.8"/>
<line x1="468.7" y1="133.52" x2="470.5" y2="133.52" stroke="#512374" stroke-width="0.7"/>
<polyline points="413.8,81.47 432.3,134.91 450.9,135.6 469.6,134.91" fill="none" stroke="#512374" stroke-width="1.05" stroke-linejoin="round" stroke-dasharray="1.05 2.1"/>
<circle cx="413.8" cy="81.47" r="0.75" fill="#512374"/>
<circle cx="432.3" cy="134.91" r="0.75" fill="#512374"/>
<circle cx="450.9" cy="135.6" r="0.75" fill="#512374"/>
<circle cx="469.6" cy="134.91" r="0.75" fill="#512374"/>
<line x1="413.8" y1="76.61" x2="413.8" y2="69.67" stroke="#ee9a1c" stroke-width="0.8"/>
<line x1="412.9" y1="69.67" x2="414.7" y2="69.67" stroke="#ee9a1c" stroke-width="0.7"/>
<line x1="432.3" y1="96.04" x2="432.3" y2="85.63" stroke="#ee9a1c" stroke-width="0.8"/>
<line x1="431.4" y1="85.63" x2="433.2" y2="85.63" stroke="#ee9a1c" stroke-width="0.7"/>
<line x1="450.9" y1="128.66" x2="450.9" y2="114.78" stroke="#ee9a1c" stroke-width="0.8"/>
<line x1="450" y1="114.78" x2="451.8" y2="114.78" stroke="#ee9a1c" stroke-width="0.7"/>
<line x1="469.6" y1="129.35" x2="469.6" y2="116.17" stroke="#ee9a1c" stroke-width="0.8"/>
<line x1="468.7" y1="116.17" x2="470.5" y2="116.17" stroke="#ee9a1c" stroke-width="0.7"/>
<polyline points="413.8,76.61 432.3,96.04 450.9,128.66 469.6,129.35" fill="none" stroke="#ee9a1c" stroke-width="1.05" stroke-linejoin="round" stroke-dasharray="1.05 2.1"/>
<circle cx="413.8" cy="76.61" r="0.75" fill="#ee9a1c"/>
<circle cx="432.3" cy="96.04" r="0.75" fill="#ee9a1c"/>
<circle cx="450.9" cy="128.66" r="0.75" fill="#ee9a1c"/>
<circle cx="469.6" cy="129.35" r="0.75" fill="#ee9a1c"/>
<line x1="413.8" y1="88.41" x2="413.8" y2="80.08" stroke="#6ab344" stroke-width="0.8"/>
<line x1="412.9" y1="80.08" x2="414.7" y2="80.08" stroke="#6ab344" stroke-width="0.7"/>
<line x1="432.3" y1="74.53" x2="432.3" y2="71.06" stroke="#6ab344" stroke-width="0.8"/>
<line x1="431.4" y1="71.06" x2="433.2" y2="71.06" stroke="#6ab344" stroke-width="0.7"/>
<polyline points="413.8,88.41 432.3,74.53 450.9,71.06 469.6,71.75" fill="none" stroke="#6ab344" stroke-width="1.05" stroke-linejoin="round" stroke-dasharray="1.05 2.1"/>
<circle cx="413.8" cy="88.41" r="0.75" fill="#6ab344"/>
<circle cx="432.3" cy="74.53" r="0.75" fill="#6ab344"/>
<circle cx="450.9" cy="71.06" r="0.75" fill="#6ab344"/>
<circle cx="469.6" cy="71.75" r="0.75" fill="#6ab344"/>
<line x1="413.8" y1="114.78" x2="413.8" y2="105.06" stroke="#2c4f8c" stroke-width="0.8"/>
<line x1="412.9" y1="105.06" x2="414.7" y2="105.06" stroke="#2c4f8c" stroke-width="0.7"/>
<line x1="432.3" y1="73.14" x2="432.3" y2="69.67" stroke="#2c4f8c" stroke-width="0.8"/>
<line x1="431.4" y1="69.67" x2="433.2" y2="69.67" stroke="#2c4f8c" stroke-width="0.7"/>
<polyline points="413.8,114.78 432.3,73.14 450.9,74.53 469.6,74.53" fill="none" stroke="#2c4f8c" stroke-width="1.05" stroke-linejoin="round" stroke-dasharray="1.05 2.1"/>
<circle cx="413.8" cy="114.78" r="0.75" fill="#2c4f8c"/>
<circle cx="432.3" cy="73.14" r="0.75" fill="#2c4f8c"/>
<circle cx="450.9" cy="74.53" r="0.75" fill="#2c4f8c"/>
<circle cx="469.6" cy="74.53" r="0.75" fill="#2c4f8c"/>
<line x1="413.8" y1="71.75" x2="413.8" y2="66.2" stroke="#8cc4f0" stroke-width="0.8"/>
<line x1="412.7" y1="66.2" x2="414.9" y2="66.2" stroke="#8cc4f0" stroke-width="0.7"/>
<line x1="432.3" y1="84.24" x2="432.3" y2="77.3" stroke="#8cc4f0" stroke-width="0.8"/>
<line x1="431.2" y1="77.3" x2="433.4" y2="77.3" stroke="#8cc4f0" stroke-width="0.7"/>
<line x1="450.9" y1="114.09" x2="450.9" y2="84.24" stroke="#8cc4f0" stroke-width="0.8"/>
<line x1="449.8" y1="84.24" x2="452" y2="84.24" stroke="#8cc4f0" stroke-width="0.7"/>
<line x1="469.6" y1="116.17" x2="469.6" y2="87.02" stroke="#8cc4f0" stroke-width="0.8"/>
<line x1="468.5" y1="87.02" x2="470.7" y2="87.02" stroke="#8cc4f0" stroke-width="0.7"/>
<polyline points="413.8,71.75 432.3,84.24 450.9,114.09 469.6,116.17" fill="none" stroke="#4f9be0" stroke-width="1.2" stroke-linejoin="round"/>
<circle cx="413.8" cy="71.75" r="1.3" fill="#4d86b8" stroke="#10202e" stroke-width="0.75"/>
<circle cx="432.3" cy="84.24" r="1.3" fill="#4d86b8" stroke="#10202e" stroke-width="0.75"/>
<circle cx="450.9" cy="114.09" r="1.3" fill="#4d86b8" stroke="#10202e" stroke-width="0.75"/>
<circle cx="469.6" cy="116.17" r="1.3" fill="#4d86b8" stroke="#10202e" stroke-width="0.75"/>
<line x1="413.8" y1="111.31" x2="413.8" y2="87.02" stroke="#b00d2f" stroke-width="0.8"/>
<line x1="412.7" y1="87.02" x2="414.9" y2="87.02" stroke="#b00d2f" stroke-width="0.7"/>
<line x1="432.3" y1="68.28" x2="432.3" y2="66.2" stroke="#b00d2f" stroke-width="0.8"/>
<line x1="431.2" y1="66.2" x2="433.4" y2="66.2" stroke="#b00d2f" stroke-width="0.7"/>
<line x1="450.9" y1="71.75" x2="450.9" y2="66.89" stroke="#b00d2f" stroke-width="0.8"/>
<line x1="449.8" y1="66.89" x2="452" y2="66.89" stroke="#b00d2f" stroke-width="0.7"/>
<line x1="469.6" y1="71.75" x2="469.6" y2="67.59" stroke="#b00d2f" stroke-width="0.8"/>
<line x1="468.5" y1="67.59" x2="470.7" y2="67.59" stroke="#b00d2f" stroke-width="0.7"/>
<polyline points="413.8,111.31 432.3,68.28 450.9,71.75 469.6,71.75" fill="none" stroke="#b00d2f" stroke-width="1.28" stroke-linejoin="round"/>
<circle cx="413.8" cy="111.31" r="1.3" fill="#5a0c1a" stroke="#1a0508" stroke-width="0.7"/>
<circle cx="432.3" cy="68.28" r="1.3" fill="#5a0c1a" stroke="#1a0508" stroke-width="0.7"/>
<circle cx="450.9" cy="71.75" r="1.3" fill="#5a0c1a" stroke="#1a0508" stroke-width="0.7"/>
<circle cx="469.6" cy="71.75" r="1.3" fill="#5a0c1a" stroke="#1a0508" stroke-width="0.7"/>
<line x1="404.8" y1="63.5" x2="404.8" y2="136.3" stroke="#1c1c1c" stroke-width="1.4"/>
<line x1="404.8" y1="135.6" x2="479" y2="135.6" stroke="#1c1c1c" stroke-width="1.4"/>
<line x1="401.5" y1="135.6" x2="404.8" y2="135.6" stroke="#1c1c1c" stroke-width="1"/>
<text x="398.5" y="137.2" font-size="4.5" fill="#111" text-anchor="end">0</text>
<line x1="401.5" y1="121.72" x2="404.8" y2="121.72" stroke="#1c1c1c" stroke-width="1"/>
<text x="398.5" y="123.32" font-size="4.5" fill="#111" text-anchor="end">20</text>
<line x1="401.5" y1="107.84" x2="404.8" y2="107.84" stroke="#1c1c1c" stroke-width="1"/>
<text x="398.5" y="109.44" font-size="4.5" fill="#111" text-anchor="end">40</text>
<line x1="401.5" y1="93.96" x2="404.8" y2="93.96" stroke="#1c1c1c" stroke-width="1"/>
<text x="398.5" y="95.56" font-size="4.5" fill="#111" text-anchor="end">60</text>
<line x1="401.5" y1="80.08" x2="404.8" y2="80.08" stroke="#1c1c1c" stroke-width="1"/>
<text x="398.5" y="81.68" font-size="4.5" fill="#111" text-anchor="end">80</text>
<line x1="401.5" y1="66.2" x2="404.8" y2="66.2" stroke="#1c1c1c" stroke-width="1"/>
<text x="398.5" y="67.8" font-size="4.5" fill="#111" text-anchor="end">100</text>
<line x1="413.8" y1="135.6" x2="413.8" y2="138.6" stroke="#1c1c1c" stroke-width="1"/>
<text x="413.8" y="146.2" font-size="4.5" fill="#111" text-anchor="middle">9d/10d</text>
<line x1="432.3" y1="135.6" x2="432.3" y2="138.6" stroke="#1c1c1c" stroke-width="1"/>
<text x="432.3" y="146.2" font-size="4.5" fill="#111" text-anchor="middle">4w</text>
<line x1="450.9" y1="135.6" x2="450.9" y2="138.6" stroke="#1c1c1c" stroke-width="1"/>
<text x="450.9" y="146.2" font-size="4.5" fill="#111" text-anchor="middle">8w</text>
<line x1="469.6" y1="135.6" x2="469.6" y2="138.6" stroke="#1c1c1c" stroke-width="1"/>
<text x="469.6" y="146.2" font-size="4.5" fill="#111" text-anchor="middle">12w</text>
<text x="402.9" y="56.63" font-size="7.03" fill="#111">Chimerism Myeloid Cells</text>
<text x="413.8" y="63.3" font-size="4.5" fill="#111" text-anchor="middle">***</text>
<text x="432.3" y="63.3" font-size="4.5" fill="#111" text-anchor="middle">*</text>
<text x="450.9" y="63.3" font-size="4.5" fill="#111" text-anchor="middle">**</text>
<text x="469.6" y="63.3" font-size="4.5" fill="#111" text-anchor="middle">***</text>
<line x1="481.1" y1="72" x2="488.9" y2="72" stroke="#b00d2f" stroke-width="1.3"/>
<circle cx="485" cy="72" r="1.6" fill="#c20f31" stroke="#140406" stroke-width="0.8"/>
<text x="492.1" y="73.69" font-size="4.7" fill="#111">HSC</text>
<circle cx="481.4" cy="81.4" r="0.5" fill="#2c4f8c"/>
<circle cx="488.6" cy="81.4" r="0.5" fill="#2c4f8c"/>
<line x1="486.5" y1="81.4" x2="487.6" y2="81.4" stroke="#2c4f8c" stroke-width="0.7"/>
<circle cx="485" cy="81.4" r="1.6" fill="#2c4f8c"/>
<text x="492.1" y="83.09" font-size="4.7" fill="#111">MPP1</text>
<circle cx="481.4" cy="90.7" r="0.5" fill="#6ab344"/>
<circle cx="488.6" cy="90.7" r="0.5" fill="#6ab344"/>
<line x1="486.5" y1="90.7" x2="487.6" y2="90.7" stroke="#6ab344" stroke-width="0.7"/>
<circle cx="485" cy="90.7" r="1.6" fill="#6ab344"/>
<text x="492.1" y="92.39" font-size="4.7" fill="#111">MPP2</text>
<circle cx="481.4" cy="100" r="0.5" fill="#ee9a1c"/>
<circle cx="488.6" cy="100" r="0.5" fill="#ee9a1c"/>
<line x1="486.5" y1="100" x2="487.6" y2="100" stroke="#ee9a1c" stroke-width="0.7"/>
<circle cx="485" cy="100" r="1.6" fill="#ee9a1c"/>
<text x="492.1" y="101.69" font-size="4.7" fill="#111">MPP3</text>
<circle cx="481.4" cy="109.4" r="0.5" fill="#512374"/>
<circle cx="488.6" cy="109.4" r="0.5" fill="#512374"/>
<line x1="486.5" y1="109.4" x2="487.6" y2="109.4" stroke="#512374" stroke-width="0.7"/>
<circle cx="485" cy="109.4" r="1.6" fill="#512374"/>
<text x="492.1" y="111.09" font-size="4.7" fill="#111">MPP4</text>
<line x1="481.1" y1="118.7" x2="488.9" y2="118.7" stroke="#6cb5eb" stroke-width="1.2"/>
<circle cx="485" cy="118.7" r="1.6" fill="#6cb5eb" stroke="#0c1620" stroke-width="0.8"/>
<text x="492.1" y="120.39" font-size="4.7" fill="#111">MPP5</text>
<line x1="297.3" y1="226.39" x2="297.3" y2="220.13" stroke="#512374" stroke-width="0.8"/>
<line x1="296.4" y1="220.13" x2="298.2" y2="220.13" stroke="#512374" stroke-width="0.7"/>
<line x1="316" y1="179.76" x2="316" y2="174.19" stroke="#512374" stroke-width="0.8"/>
<line x1="315.1" y1="174.19" x2="316.9" y2="174.19" stroke="#512374" stroke-width="0.7"/>
<line x1="334.7" y1="204.82" x2="334.7" y2="193.68" stroke="#512374" stroke-width="0.8"/>
<line x1="333.8" y1="193.68" x2="335.6" y2="193.68" stroke="#512374" stroke-width="0.7"/>
<polyline points="297.3,226.39 316,179.76 334.7,204.82 353.4,208.3" fill="none" stroke="#512374" stroke-width="1.05" stroke-linejoin="round" stroke-dasharray="1.05 2.1"/>
<circle cx="297.3" cy="226.39" r="0.75" fill="#512374"/>
<circle cx="316" cy="179.76" r="0.75" fill="#512374"/>
<circle cx="334.7" cy="204.82" r="0.75" fill="#512374"/>
<circle cx="353.4" cy="208.3" r="0.75" fill="#512374"/>
<line x1="316" y1="186.72" x2="316" y2="179.76" stroke="#ee9a1c" stroke-width="0.8"/>
<line x1="315.1" y1="179.76" x2="316.9" y2="179.76" stroke="#ee9a1c" stroke-width="0.7"/>
<line x1="334.7" y1="213.17" x2="334.7" y2="183.24" stroke="#ee9a1c" stroke-width="0.8"/>
<line x1="333.8" y1="183.24" x2="335.6" y2="183.24" stroke="#ee9a1c" stroke-width="0.7"/>
<line x1="353.4" y1="214.56" x2="353.4" y2="183.24" stroke="#ee9a1c" stroke-width="0.8"/>
<line x1="352.5" y1="183.24" x2="354.3" y2="183.24" stroke="#ee9a1c" stroke-width="0.7"/>
<polyline points="297.3,238.92 316,186.72 334.7,213.17 353.4,214.56" fill="none" stroke="#ee9a1c" stroke-width="1.05" stroke-linejoin="round" stroke-dasharray="1.05 2.1"/>
<circle cx="297.3" cy="238.92" r="0.75" fill="#ee9a1c"/>
<circle cx="316" cy="186.72" r="0.75" fill="#ee9a1c"/>
<circle cx="334.7" cy="213.17" r="0.75" fill="#ee9a1c"/>
<circle cx="353.4" cy="214.56" r="0.75" fill="#ee9a1c"/>
<line x1="316" y1="179.76" x2="316" y2="173.5" stroke="#6ab344" stroke-width="0.8"/>
<line x1="315.1" y1="173.5" x2="316.9" y2="173.5" stroke="#6ab344" stroke-width="0.7"/>
<line x1="334.7" y1="176.28" x2="334.7" y2="174.19" stroke="#6ab344" stroke-width="0.8"/>
<line x1="333.8" y1="174.19" x2="335.6" y2="174.19" stroke="#6ab344" stroke-width="0.7"/>
<polyline points="297.3,238.92 316,179.76 334.7,176.28 353.4,174.89" fill="none" stroke="#6ab344" stroke-width="1.05" stroke-linejoin="round" stroke-dasharray="1.05 2.1"/>
<circle cx="297.3" cy="238.92" r="0.75" fill="#6ab344"/>
<circle cx="316" cy="179.76" r="0.75" fill="#6ab344"/>
<circle cx="334.7" cy="176.28" r="0.75" fill="#6ab344"/>
<circle cx="353.4" cy="174.89" r="0.75" fill="#6ab344"/>
<line x1="316" y1="190.2" x2="316" y2="181.15" stroke="#2c4f8c" stroke-width="0.8"/>
<line x1="315.1" y1="181.15" x2="316.9" y2="181.15" stroke="#2c4f8c" stroke-width="0.7"/>
<line x1="353.4" y1="174.19" x2="353.4" y2="170.02" stroke="#2c4f8c" stroke-width="0.8"/>
<line x1="352.5" y1="170.02" x2="354.3" y2="170.02" stroke="#2c4f8c" stroke-width="0.7"/>
<polyline points="297.3,241.01 316,190.2 334.7,175.58 353.4,174.19" fill="none" stroke="#2c4f8c" stroke-width="1.05" stroke-linejoin="round" stroke-dasharray="1.05 2.1"/>
<circle cx="297.3" cy="241.01" r="0.75" fill="#2c4f8c"/>
<circle cx="316" cy="190.2" r="0.75" fill="#2c4f8c"/>
<circle cx="334.7" cy="175.58" r="0.75" fill="#2c4f8c"/>
<circle cx="353.4" cy="174.19" r="0.75" fill="#2c4f8c"/>
<line x1="316" y1="175.58" x2="316" y2="172.8" stroke="#8cc4f0" stroke-width="0.8"/>
<line x1="314.9" y1="172.8" x2="317.1" y2="172.8" stroke="#8cc4f0" stroke-width="0.7"/>
<line x1="334.7" y1="190.2" x2="334.7" y2="174.89" stroke="#8cc4f0" stroke-width="0.8"/>
<line x1="333.6" y1="174.89" x2="335.8" y2="174.89" stroke="#8cc4f0" stroke-width="0.7"/>
<line x1="353.4" y1="191.59" x2="353.4" y2="176.28" stroke="#8cc4f0" stroke-width="0.8"/>
<line x1="352.3" y1="176.28" x2="354.5" y2="176.28" stroke="#8cc4f0" stroke-width="0.7"/>
<polyline points="297.3,237.53 316,175.58 334.7,190.2 353.4,191.59" fill="none" stroke="#4f9be0" stroke-width="1.2" stroke-linejoin="round"/>
<circle cx="297.3" cy="237.53" r="1.3" fill="#4d86b8" stroke="#10202e" stroke-width="0.75"/>
<circle cx="316" cy="175.58" r="1.3" fill="#4d86b8" stroke="#10202e" stroke-width="0.75"/>
<circle cx="334.7" cy="190.2" r="1.3" fill="#4d86b8" stroke="#10202e" stroke-width="0.75"/>
<circle cx="353.4" cy="191.59" r="1.3" fill="#4d86b8" stroke="#10202e" stroke-width="0.75"/>
<line x1="316" y1="177.67" x2="316" y2="170.02" stroke="#b00d2f" stroke-width="0.8"/>
<line x1="314.9" y1="170.02" x2="317.1" y2="170.02" stroke="#b00d2f" stroke-width="0.7"/>
<line x1="334.7" y1="183.24" x2="334.7" y2="175.58" stroke="#b00d2f" stroke-width="0.8"/>
<line x1="333.6" y1="175.58" x2="335.8" y2="175.58" stroke="#b00d2f" stroke-width="0.7"/>
<line x1="353.4" y1="177.67" x2="353.4" y2="172.1" stroke="#b00d2f" stroke-width="0.8"/>
<line x1="352.3" y1="172.1" x2="354.5" y2="172.1" stroke="#b00d2f" stroke-width="0.7"/>
<polyline points="297.3,241.01 316,177.67 334.7,183.24 353.4,177.67" fill="none" stroke="#b00d2f" stroke-width="1.28" stroke-linejoin="round"/>
<circle cx="297.3" cy="241.01" r="1.3" fill="#5a0c1a" stroke="#1a0508" stroke-width="0.7"/>
<circle cx="316" cy="177.67" r="1.3" fill="#5a0c1a" stroke="#1a0508" stroke-width="0.7"/>
<circle cx="334.7" cy="183.24" r="1.3" fill="#5a0c1a" stroke="#1a0508" stroke-width="0.7"/>
<circle cx="353.4" cy="177.67" r="1.3" fill="#5a0c1a" stroke="#1a0508" stroke-width="0.7"/>
<line x1="287.4" y1="170.1" x2="287.4" y2="243.1" stroke="#1c1c1c" stroke-width="1.4"/>
<line x1="287.4" y1="242.4" x2="361.4" y2="242.4" stroke="#1c1c1c" stroke-width="1.4"/>
<line x1="284.1" y1="242.4" x2="287.4" y2="242.4" stroke="#1c1c1c" stroke-width="1"/>
<text x="281.1" y="244" font-size="4.5" fill="#111" text-anchor="end">0</text>
<line x1="284.1" y1="228.48" x2="287.4" y2="228.48" stroke="#1c1c1c" stroke-width="1"/>
<text x="281.1" y="230.08" font-size="4.5" fill="#111" text-anchor="end">20</text>
<line x1="284.1" y1="214.56" x2="287.4" y2="214.56" stroke="#1c1c1c" stroke-width="1"/>
<text x="281.1" y="216.16" font-size="4.5" fill="#111" text-anchor="end">40</text>
<line x1="284.1" y1="200.64" x2="287.4" y2="200.64" stroke="#1c1c1c" stroke-width="1"/>
<text x="281.1" y="202.24" font-size="4.5" fill="#111" text-anchor="end">60</text>
<line x1="284.1" y1="186.72" x2="287.4" y2="186.72" stroke="#1c1c1c" stroke-width="1"/>
<text x="281.1" y="188.32" font-size="4.5" fill="#111" text-anchor="end">80</text>
<line x1="284.1" y1="172.8" x2="287.4" y2="172.8" stroke="#1c1c1c" stroke-width="1"/>
<text x="281.1" y="174.4" font-size="4.5" fill="#111" text-anchor="end">100</text>
<line x1="297.3" y1="242.4" x2="297.3" y2="245.4" stroke="#1c1c1c" stroke-width="1"/>
<text x="297.3" y="253" font-size="4.5" fill="#111" text-anchor="middle">9d/10d</text>
<line x1="316" y1="242.4" x2="316" y2="245.4" stroke="#1c1c1c" stroke-width="1"/>
<text x="316" y="253" font-size="4.5" fill="#111" text-anchor="middle">4w</text>
<line x1="334.7" y1="242.4" x2="334.7" y2="245.4" stroke="#1c1c1c" stroke-width="1"/>
<text x="334.7" y="253" font-size="4.5" fill="#111" text-anchor="middle">8w</text>
<line x1="353.4" y1="242.4" x2="353.4" y2="245.4" stroke="#1c1c1c" stroke-width="1"/>
<text x="353.4" y="253" font-size="4.5" fill="#111" text-anchor="middle">12w</text>
<text x="296.9" y="163.17" font-size="6.87" fill="#111">Chimerism B Cells</text>
<text x="353.4" y="169.8" font-size="4.5" fill="#111" text-anchor="middle">*</text>
<line x1="432.3" y1="227.78" x2="432.3" y2="224.3" stroke="#512374" stroke-width="0.8"/>
<line x1="431.4" y1="224.3" x2="433.2" y2="224.3" stroke="#512374" stroke-width="0.7"/>
<line x1="450.9" y1="219.43" x2="450.9" y2="200.64" stroke="#512374" stroke-width="0.8"/>
<line x1="450" y1="200.64" x2="451.8" y2="200.64" stroke="#512374" stroke-width="0.7"/>
<line x1="469.6" y1="222.91" x2="469.6" y2="199.25" stroke="#512374" stroke-width="0.8"/>
<line x1="468.7" y1="199.25" x2="470.5" y2="199.25" stroke="#512374" stroke-width="0.7"/>
<polyline points="413.8,242.4 432.3,227.78 450.9,219.43 469.6,222.91" fill="none" stroke="#512374" stroke-width="1.05" stroke-linejoin="round" stroke-dasharray="1.05 2.1"/>
<circle cx="413.8" cy="242.4" r="0.75" fill="#512374"/>
<circle cx="432.3" cy="227.78" r="0.75" fill="#512374"/>
<circle cx="450.9" cy="219.43" r="0.75" fill="#512374"/>
<circle cx="469.6" cy="222.91" r="0.75" fill="#512374"/>
<line x1="450.9" y1="211.08" x2="450.9" y2="197.86" stroke="#ee9a1c" stroke-width="0.8"/>
<line x1="450" y1="197.86" x2="451.8" y2="197.86" stroke="#ee9a1c" stroke-width="0.7"/>
<line x1="469.6" y1="214.56" x2="469.6" y2="193.68" stroke="#ee9a1c" stroke-width="0.8"/>
<line x1="468.7" y1="193.68" x2="470.5" y2="193.68" stroke="#ee9a1c" stroke-width="0.7"/>
<polyline points="413.8,242.4 432.3,242.4 450.9,211.08 469.6,214.56" fill="none" stroke="#ee9a1c" stroke-width="1.05" stroke-linejoin="round" stroke-dasharray="1.05 2.1"/>
<circle cx="413.8" cy="242.4" r="0.75" fill="#ee9a1c"/>
<circle cx="432.3" cy="242.4" r="0.75" fill="#ee9a1c"/>
<circle cx="450.9" cy="211.08" r="0.75" fill="#ee9a1c"/>
<circle cx="469.6" cy="214.56" r="0.75" fill="#ee9a1c"/>
<line x1="450.9" y1="199.25" x2="450.9" y2="193.68" stroke="#6ab344" stroke-width="0.8"/>
<line x1="450" y1="193.68" x2="451.8" y2="193.68" stroke="#6ab344" stroke-width="0.7"/>
<line x1="469.6" y1="188.11" x2="469.6" y2="181.15" stroke="#6ab344" stroke-width="0.8"/>
<line x1="468.7" y1="181.15" x2="470.5" y2="181.15" stroke="#6ab344" stroke-width="0.7"/>
<polyline points="413.8,242.4 432.3,242.4 450.9,199.25 469.6,188.11" fill="none" stroke="#6ab344" stroke-width="1.05" stroke-linejoin="round" stroke-dasharray="1.05 2.1"/>
<circle cx="413.8" cy="242.4" r="0.75" fill="#6ab344"/>
<circle cx="432.3" cy="242.4" r="0.75" fill="#6ab344"/>
<circle cx="450.9" cy="199.25" r="0.75" fill="#6ab344"/>
<circle cx="469.6" cy="188.11" r="0.75" fill="#6ab344"/>
<line x1="450.9" y1="200.64" x2="450.9" y2="189.5" stroke="#2c4f8c" stroke-width="0.8"/>
<line x1="450" y1="189.5" x2="451.8" y2="189.5" stroke="#2c4f8c" stroke-width="0.7"/>
<line x1="469.6" y1="188.81" x2="469.6" y2="179.76" stroke="#2c4f8c" stroke-width="0.8"/>
<line x1="468.7" y1="179.76" x2="470.5" y2="179.76" stroke="#2c4f8c" stroke-width="0.7"/>
<polyline points="413.8,242.4 432.3,242.4 450.9,200.64 469.6,188.81" fill="none" stroke="#2c4f8c" stroke-width="1.05" stroke-linejoin="round" stroke-dasharray="1.05 2.1"/>
<circle cx="413.8" cy="242.4" r="0.75" fill="#2c4f8c"/>
<circle cx="432.3" cy="242.4" r="0.75" fill="#2c4f8c"/>
<circle cx="450.9" cy="200.64" r="0.75" fill="#2c4f8c"/>
<circle cx="469.6" cy="188.81" r="0.75" fill="#2c4f8c"/>
<line x1="450.9" y1="202.73" x2="450.9" y2="192.29" stroke="#8cc4f0" stroke-width="0.8"/>
<line x1="449.8" y1="192.29" x2="452" y2="192.29" stroke="#8cc4f0" stroke-width="0.7"/>
<line x1="469.6" y1="199.25" x2="469.6" y2="186.72" stroke="#8cc4f0" stroke-width="0.8"/>
<line x1="468.5" y1="186.72" x2="470.7" y2="186.72" stroke="#8cc4f0" stroke-width="0.7"/>
<polyline points="413.8,242.4 432.3,242.4 450.9,202.73 469.6,199.25" fill="none" stroke="#4f9be0" stroke-width="1.2" stroke-linejoin="round"/>
<circle cx="413.8" cy="242.4" r="1.3" fill="#4d86b8" stroke="#10202e" stroke-width="0.75"/>
<circle cx="432.3" cy="242.4" r="1.3" fill="#4d86b8" stroke="#10202e" stroke-width="0.75"/>
<circle cx="450.9" cy="202.73" r="1.3" fill="#4d86b8" stroke="#10202e" stroke-width="0.75"/>
<circle cx="469.6" cy="199.25" r="1.3" fill="#4d86b8" stroke="#10202e" stroke-width="0.75"/>
<line x1="450.9" y1="207.6" x2="450.9" y2="195.07" stroke="#b00d2f" stroke-width="0.8"/>
<line x1="449.8" y1="195.07" x2="452" y2="195.07" stroke="#b00d2f" stroke-width="0.7"/>
<line x1="469.6" y1="188.81" x2="469.6" y2="178.37" stroke="#b00d2f" stroke-width="0.8"/>
<line x1="468.5" y1="178.37" x2="470.7" y2="178.37" stroke="#b00d2f" stroke-width="0.7"/>
<polyline points="413.8,242.4 432.3,242.4 450.9,207.6 469.6,188.81" fill="none" stroke="#b00d2f" stroke-width="1.28" stroke-linejoin="round"/>
<circle cx="413.8" cy="242.4" r="1.3" fill="#5a0c1a" stroke="#1a0508" stroke-width="0.7"/>
<circle cx="432.3" cy="242.4" r="1.3" fill="#5a0c1a" stroke="#1a0508" stroke-width="0.7"/>
<circle cx="450.9" cy="207.6" r="1.3" fill="#5a0c1a" stroke="#1a0508" stroke-width="0.7"/>
<circle cx="469.6" cy="188.81" r="1.3" fill="#5a0c1a" stroke="#1a0508" stroke-width="0.7"/>
<line x1="404.8" y1="170.1" x2="404.8" y2="243.1" stroke="#1c1c1c" stroke-width="1.4"/>
<line x1="404.8" y1="242.4" x2="479" y2="242.4" stroke="#1c1c1c" stroke-width="1.4"/>
<line x1="401.5" y1="242.4" x2="404.8" y2="242.4" stroke="#1c1c1c" stroke-width="1"/>
<text x="398.5" y="244" font-size="4.5" fill="#111" text-anchor="end">0</text>
<line x1="401.5" y1="228.48" x2="404.8" y2="228.48" stroke="#1c1c1c" stroke-width="1"/>
<text x="398.5" y="230.08" font-size="4.5" fill="#111" text-anchor="end">20</text>
<line x1="401.5" y1="214.56" x2="404.8" y2="214.56" stroke="#1c1c1c" stroke-width="1"/>
<text x="398.5" y="216.16" font-size="4.5" fill="#111" text-anchor="end">40</text>
<line x1="401.5" y1="200.64" x2="404.8" y2="200.64" stroke="#1c1c1c" stroke-width="1"/>
<text x="398.5" y="202.24" font-size="4.5" fill="#111" text-anchor="end">60</text>
<line x1="401.5" y1="186.72" x2="404.8" y2="186.72" stroke="#1c1c1c" stroke-width="1"/>
<text x="398.5" y="188.32" font-size="4.5" fill="#111" text-anchor="end">80</text>
<line x1="401.5" y1="172.8" x2="404.8" y2="172.8" stroke="#1c1c1c" stroke-width="1"/>
<text x="398.5" y="174.4" font-size="4.5" fill="#111" text-anchor="end">100</text>
<line x1="413.8" y1="242.4" x2="413.8" y2="245.4" stroke="#1c1c1c" stroke-width="1"/>
<text x="413.8" y="253" font-size="4.5" fill="#111" text-anchor="middle">9d/10d</text>
<line x1="432.3" y1="242.4" x2="432.3" y2="245.4" stroke="#1c1c1c" stroke-width="1"/>
<text x="432.3" y="253" font-size="4.5" fill="#111" text-anchor="middle">4w</text>
<line x1="450.9" y1="242.4" x2="450.9" y2="245.4" stroke="#1c1c1c" stroke-width="1"/>
<text x="450.9" y="253" font-size="4.5" fill="#111" text-anchor="middle">8w</text>
<line x1="469.6" y1="242.4" x2="469.6" y2="245.4" stroke="#1c1c1c" stroke-width="1"/>
<text x="469.6" y="253" font-size="4.5" fill="#111" text-anchor="middle">12w</text>
<text x="413.8" y="163.18" font-size="6.9" fill="#111">Chimerism T Cells</text>
<text x="469.6" y="169.8" font-size="4.5" fill="#111" text-anchor="middle">*</text>
<text x="7.6" y="146.2" font-size="12.6" fill="#000" font-weight="bold">C</text>
<g transform="translate(29.1 125.4) scale(0.72)">
<path d="M5.4,18.1C5.6,17.52 6.68,17.6 7.7,17.3C8.72,17 9.97,17.07 11.5,16.3C13.03,15.53 15.03,13.95 16.9,12.7C18.77,11.45 21.67,9.83 22.7,8.8C23.73,7.77 22.8,7.1 23.1,6.5C23.4,5.9 23.93,5.32 24.5,5.2C25.07,5.08 26.03,5.38 26.5,5.8C26.97,6.22 26.92,7.28 27.3,7.7C27.68,8.12 28.22,8.15 28.8,8.3C29.38,8.45 30.15,8.07 30.8,8.6C31.45,9.13 32.52,10.65 32.7,11.5C32.88,12.35 32.42,13.43 31.9,13.7C31.38,13.97 30.23,13.47 29.6,13.1C28.97,12.73 28.62,11.5 28.1,11.5C27.58,11.5 27.08,12.97 26.5,13.1C25.92,13.23 25.82,11.85 24.6,12.3C23.38,12.75 20.8,14.72 19.2,15.8C17.6,16.88 16.02,17.72 15,18.8C13.98,19.88 13.55,21.07 13.1,22.3C12.65,23.53 12.62,25.43 12.3,26.2C11.98,26.97 11.78,27.17 11.2,26.9C10.62,26.63 9.58,25.62 8.8,24.6C8.02,23.58 7.07,21.88 6.5,20.8C5.93,19.72 5.2,18.68 5.4,18.1Z" fill="#fff" stroke="#111" stroke-width="1.18" stroke-linejoin="round"/>
</g>
<g transform="translate(35.6 133) scale(0.73)">
<path d="M15,12.3C14.42,12.1 12.97,11.15 11.5,11.1C10.03,11.05 7.52,11.2 6.2,12C4.88,12.8 4.03,14.53 3.6,15.9C3.17,17.27 3.2,18.75 3.6,20.2C4,21.65 4.83,23.63 6,24.6C7.17,25.57 9.2,25.67 10.6,26C12,26.33 13.23,26.13 14.4,26.6C15.57,27.07 16.95,28.07 17.6,28.8C18.25,29.53 18.18,30.63 18.3,31" fill="none" stroke="#111" stroke-width="1.78" stroke-linecap="round"/>
<path d="M13.5,20.1C13.3,19.72 14.02,19.33 14.2,18.5C14.38,17.67 14.33,16.43 14.6,15.1C14.87,13.77 15.22,11.85 15.8,10.5C16.38,9.15 17.15,7.88 18.1,7C19.05,6.12 20.28,5.5 21.5,5.2C22.72,4.9 24.18,4.97 25.4,5.2C26.62,5.43 27.83,6.05 28.8,6.6C29.77,7.15 30.48,7.98 31.2,8.5C31.92,9.02 32.47,9.5 33.1,9.7C33.73,9.9 34.55,10.02 35,9.7C35.45,9.38 35.42,8.42 35.8,7.8C36.18,7.18 36.75,6.22 37.3,6C37.85,5.78 38.72,6.02 39.1,6.5C39.48,6.98 39.6,8.12 39.6,8.9C39.6,9.68 38.9,10.3 39.1,11.2C39.3,12.1 40.2,13.33 40.8,14.3C41.4,15.27 42.2,16.3 42.7,17C43.2,17.7 43.8,17.98 43.8,18.5C43.8,19.02 43.2,19.58 42.7,20.1C42.2,20.62 41.5,21.25 40.8,21.6C40.1,21.95 39.22,22.2 38.5,22.2C37.78,22.2 37.15,21.83 36.5,21.6C35.85,21.37 35.05,20.8 34.6,20.8C34.15,20.8 34.05,21.2 33.8,21.6C33.55,22 33.15,22.68 33.1,23.2C33.05,23.72 33.77,24.37 33.5,24.7C33.23,25.03 32.33,25.13 31.5,25.2C30.67,25.27 29.33,25.1 28.5,25.1C27.67,25.1 27.28,25.33 26.5,25.2C25.72,25.07 24.75,24.97 23.8,24.3C22.85,23.63 21.82,21.83 20.8,21.2C19.78,20.57 18.6,20.57 17.7,20.5C16.8,20.43 16.1,20.87 15.4,20.8C14.7,20.73 13.7,20.48 13.5,20.1Z" fill="#fff" stroke="#111" stroke-width="1.3" stroke-linejoin="round"/>
<path d="M21.5,10.8C21.12,11.25 19.65,12.4 19.2,13.5C18.75,14.6 18.53,16.18 18.8,17.4C19.07,18.62 19.97,19.65 20.8,20.8C21.63,21.95 23.3,23.72 23.8,24.3" fill="none" stroke="#111" stroke-width="1.3"/>
<path d="M28.8,20.4C29.03,20.8 29.68,22.1 30.2,22.8C30.72,23.5 31.62,24.3 31.9,24.6" fill="none" stroke="#111" stroke-width="1.3"/>
<path d="M25.8,12.8C25.92,13.25 26.05,14.6 26.5,15.5C26.95,16.4 27.72,17.43 28.5,18.2C29.28,18.97 30.18,19.62 31.2,20.1C32.22,20.58 34.03,20.93 34.6,21.1" fill="none" stroke="#111" stroke-width="1.3"/>
<ellipse cx="27.3" cy="10.1" rx="3.2" ry="3.5" transform="rotate(-20 27.3 10.1)" fill="#fff" stroke="#111" stroke-width="1.3"/>
<path d="M26.5,12.6C26.45,12.23 25.93,11.02 26.2,10.4C26.47,9.78 27.53,9.02 28.1,8.9C28.67,8.78 29.35,9.57 29.6,9.7" fill="none" stroke="#111" stroke-width="1.17"/>
<ellipse cx="36.2" cy="16" rx="1.1" ry="0.72" fill="#000"/>
<ellipse cx="36.9" cy="20.6" rx="2.4" ry="0.85" fill="#333"/>
<line x1="43.3" y1="17.9" x2="45.8" y2="15.1" stroke="#111" stroke-width="1.11"/>
<line x1="43.5" y1="18" x2="46.5" y2="17" stroke="#111" stroke-width="1.11"/>
<line x1="43.5" y1="18.3" x2="46.8" y2="18.7" stroke="#111" stroke-width="1.11"/>
<line x1="43.2" y1="17.8" x2="44.6" y2="14.7" stroke="#111" stroke-width="1.11"/>
<ellipse cx="43.5" cy="18.2" rx="0.8" ry="0.7" fill="#000"/>
<ellipse cx="26.4" cy="25.3" rx="1.8" ry="0.85" fill="#111"/>
<ellipse cx="32.3" cy="25.3" rx="1.8" ry="0.85" fill="#111"/>
<ellipse cx="14.4" cy="20.5" rx="1.6" ry="0.85" fill="#111"/>
</g>
<line x1="75" y1="141.8" x2="86.3" y2="141.8" stroke="#000" stroke-width="1"/>
<polygon points="90.6,141.8 85.8,139.6 85.8,144" fill="#000"/>
<circle cx="109.8" cy="141.8" r="2.5" fill="#fff" stroke="#4f9ad6" stroke-width="1.8"/>
<circle cx="109.8" cy="141.8" r="1.15" fill="none" stroke="#c4c4c4" stroke-width="0.4"/>
<circle cx="113" cy="141.8" r="2.5" fill="#fff" stroke="#a9c9e8" stroke-width="1.8"/>
<circle cx="113" cy="141.8" r="1.15" fill="none" stroke="#c4c4c4" stroke-width="0.4"/>
<circle cx="116.2" cy="141.8" r="2.5" fill="#fff" stroke="#4a2609" stroke-width="1.8"/>
<circle cx="116.2" cy="141.8" r="1.15" fill="none" stroke="#c4c4c4" stroke-width="0.4"/>
<line x1="136.2" y1="141.8" x2="147.1" y2="141.8" stroke="#000" stroke-width="1"/>
<polygon points="151.4,141.8 146.6,139.6 146.6,144" fill="#000"/>
<g transform="translate(161.3 128.4) scale(0.73)">
<path d="M15,12.3C14.42,12.1 12.97,11.15 11.5,11.1C10.03,11.05 7.52,11.2 6.2,12C4.88,12.8 4.03,14.53 3.6,15.9C3.17,17.27 3.2,18.75 3.6,20.2C4,21.65 4.83,23.63 6,24.6C7.17,25.57 9.2,25.67 10.6,26C12,26.33 13.23,26.13 14.4,26.6C15.57,27.07 16.95,28.07 17.6,28.8C18.25,29.53 18.18,30.63 18.3,31" fill="none" stroke="#111" stroke-width="1.78" stroke-linecap="round"/>
<path d="M13.5,20.1C13.3,19.72 14.02,19.33 14.2,18.5C14.38,17.67 14.33,16.43 14.6,15.1C14.87,13.77 15.22,11.85 15.8,10.5C16.38,9.15 17.15,7.88 18.1,7C19.05,6.12 20.28,5.5 21.5,5.2C22.72,4.9 24.18,4.97 25.4,5.2C26.62,5.43 27.83,6.05 28.8,6.6C29.77,7.15 30.48,7.98 31.2,8.5C31.92,9.02 32.47,9.5 33.1,9.7C33.73,9.9 34.55,10.02 35,9.7C35.45,9.38 35.42,8.42 35.8,7.8C36.18,7.18 36.75,6.22 37.3,6C37.85,5.78 38.72,6.02 39.1,6.5C39.48,6.98 39.6,8.12 39.6,8.9C39.6,9.68 38.9,10.3 39.1,11.2C39.3,12.1 40.2,13.33 40.8,14.3C41.4,15.27 42.2,16.3 42.7,17C43.2,17.7 43.8,17.98 43.8,18.5C43.8,19.02 43.2,19.58 42.7,20.1C42.2,20.62 41.5,21.25 40.8,21.6C40.1,21.95 39.22,22.2 38.5,22.2C37.78,22.2 37.15,21.83 36.5,21.6C35.85,21.37 35.05,20.8 34.6,20.8C34.15,20.8 34.05,21.2 33.8,21.6C33.55,22 33.15,22.68 33.1,23.2C33.05,23.72 33.77,24.37 33.5,24.7C33.23,25.03 32.33,25.13 31.5,25.2C30.67,25.27 29.33,25.1 28.5,25.1C27.67,25.1 27.28,25.33 26.5,25.2C25.72,25.07 24.75,24.97 23.8,24.3C22.85,23.63 21.82,21.83 20.8,21.2C19.78,20.57 18.6,20.57 17.7,20.5C16.8,20.43 16.1,20.87 15.4,20.8C14.7,20.73 13.7,20.48 13.5,20.1Z" fill="#fff" stroke="#111" stroke-width="1.3" stroke-linejoin="round"/>
<path d="M21.5,10.8C21.12,11.25 19.65,12.4 19.2,13.5C18.75,14.6 18.53,16.18 18.8,17.4C19.07,18.62 19.97,19.65 20.8,20.8C21.63,21.95 23.3,23.72 23.8,24.3" fill="none" stroke="#111" stroke-width="1.3"/>
<path d="M28.8,20.4C29.03,20.8 29.68,22.1 30.2,22.8C30.72,23.5 31.62,24.3 31.9,24.6" fill="none" stroke="#111" stroke-width="1.3"/>
<path d="M25.8,12.8C25.92,13.25 26.05,14.6 26.5,15.5C26.95,16.4 27.72,17.43 28.5,18.2C29.28,18.97 30.18,19.62 31.2,20.1C32.22,20.58 34.03,20.93 34.6,21.1" fill="none" stroke="#111" stroke-width="1.3"/>
<ellipse cx="27.3" cy="10.1" rx="3.2" ry="3.5" transform="rotate(-20 27.3 10.1)" fill="#fff" stroke="#111" stroke-width="1.3"/>
<path d="M26.5,12.6C26.45,12.23 25.93,11.02 26.2,10.4C26.47,9.78 27.53,9.02 28.1,8.9C28.67,8.78 29.35,9.57 29.6,9.7" fill="none" stroke="#111" stroke-width="1.17"/>
<ellipse cx="36.2" cy="16" rx="1.1" ry="0.72" fill="#000"/>
<ellipse cx="36.9" cy="20.6" rx="2.4" ry="0.85" fill="#333"/>
<line x1="43.3" y1="17.9" x2="45.8" y2="15.1" stroke="#111" stroke-width="1.11"/>
<line x1="43.5" y1="18" x2="46.5" y2="17" stroke="#111" stroke-width="1.11"/>
<line x1="43.5" y1="18.3" x2="46.8" y2="18.7" stroke="#111" stroke-width="1.11"/>
<line x1="43.2" y1="17.8" x2="44.6" y2="14.7" stroke="#111" stroke-width="1.11"/>
<ellipse cx="43.5" cy="18.2" rx="0.8" ry="0.7" fill="#000"/>
<ellipse cx="26.4" cy="25.3" rx="1.8" ry="0.85" fill="#111"/>
<ellipse cx="32.3" cy="25.3" rx="1.8" ry="0.85" fill="#111"/>
<ellipse cx="14.4" cy="20.5" rx="1.6" ry="0.85" fill="#111"/>
</g>
<text x="90.2" y="155.46" font-size="4.6" fill="#111">HSC-ST, MPP5/6;</text>
<text x="86" y="162.57" font-size="4.65" fill="#111">2000 Cells/Population</text>
<text x="100" y="168.97" font-size="4.93" fill="#111">(CD45.2)</text>
<text x="153.3" y="155.96" font-size="4.61" fill="#111">Transplantation HSPCs</text>
<text x="144.3" y="162.91" font-size="4.74" fill="#111">+ 2x10^5 Supportive (CD45.1/2)</text>
<line x1="35.3" y1="161.3" x2="42.3" y2="161.3" stroke="#4a94dc" stroke-width="1"/>
<circle cx="38.8" cy="161.3" r="1.95" fill="#6cb5eb" stroke="#10263c" stroke-width="0.95"/>
<text x="46.1" y="162.92" font-size="4.5" fill="#111" textLength="11.6" lengthAdjust="spacing">MPP5</text>
<line x1="35" y1="170.3" x2="42.6" y2="170.3" stroke="#5a3310" stroke-width="1.3"/>
<circle cx="38.8" cy="170.3" r="1.8" fill="#5a3310" stroke="#3a1f08" stroke-width="0.5"/>
<text x="46.1" y="171.92" font-size="4.5" fill="#111" textLength="15.4" lengthAdjust="spacing">HSC-ST</text>
<line x1="36.2" y1="179.1" x2="41.4" y2="179.1" stroke="#a6cff2" stroke-width="0.9"/>
<circle cx="38.8" cy="179.1" r="1.95" fill="#d6eafb" stroke="#1d3a5c" stroke-width="0.9"/>
<text x="46.1" y="180.72" font-size="4.5" fill="#111" textLength="11.6" lengthAdjust="spacing">MPP6</text>
<line x1="57.4" y1="273.21" x2="57.4" y2="269.72" stroke="#b7d9f5" stroke-width="0.8"/>
<line x1="56.3" y1="269.72" x2="58.5" y2="269.72" stroke="#b7d9f5" stroke-width="0.7"/>
<line x1="76.2" y1="222.25" x2="76.2" y2="218.07" stroke="#b7d9f5" stroke-width="0.8"/>
<line x1="75.1" y1="218.07" x2="77.3" y2="218.07" stroke="#b7d9f5" stroke-width="0.7"/>
<line x1="95" y1="225.74" x2="95" y2="211.09" stroke="#b7d9f5" stroke-width="0.8"/>
<line x1="93.9" y1="211.09" x2="96.1" y2="211.09" stroke="#b7d9f5" stroke-width="0.7"/>
<polyline points="57.4,273.21 76.2,222.25 95,225.74 113.8,212.48" fill="none" stroke="#b0d4f5" stroke-width="1" stroke-linejoin="round"/>
<circle cx="57.4" cy="273.21" r="1.2" fill="#dcecf9" stroke="#1d3a5c" stroke-width="0.65"/>
<circle cx="76.2" cy="222.25" r="1.2" fill="#dcecf9" stroke="#1d3a5c" stroke-width="0.65"/>
<circle cx="95" cy="225.74" r="1.2" fill="#dcecf9" stroke="#1d3a5c" stroke-width="0.65"/>
<circle cx="113.8" cy="212.48" r="1.2" fill="#dcecf9" stroke="#1d3a5c" stroke-width="0.65"/>
<line x1="57.4" y1="236.91" x2="57.4" y2="226.44" stroke="#8cc4f0" stroke-width="0.8"/>
<line x1="56.3" y1="226.44" x2="58.5" y2="226.44" stroke="#8cc4f0" stroke-width="0.7"/>
<line x1="95" y1="239.01" x2="95" y2="225.74" stroke="#8cc4f0" stroke-width="0.8"/>
<line x1="93.9" y1="225.74" x2="96.1" y2="225.74" stroke="#8cc4f0" stroke-width="0.7"/>
<line x1="113.8" y1="236.91" x2="113.8" y2="217.37" stroke="#8cc4f0" stroke-width="0.8"/>
<line x1="112.7" y1="217.37" x2="114.9" y2="217.37" stroke="#8cc4f0" stroke-width="0.7"/>
<polyline points="57.4,236.91 76.2,239.7 95,239.01 113.8,236.91" fill="none" stroke="#579fe2" stroke-width="1.2" stroke-linejoin="round"/>
<circle cx="57.4" cy="236.91" r="1.25" fill="#2f5d94" stroke="#12283f" stroke-width="0.6"/>
<circle cx="76.2" cy="239.7" r="1.25" fill="#2f5d94" stroke="#12283f" stroke-width="0.6"/>
<circle cx="95" cy="239.01" r="1.25" fill="#2f5d94" stroke="#12283f" stroke-width="0.6"/>
<circle cx="113.8" cy="236.91" r="1.25" fill="#2f5d94" stroke="#12283f" stroke-width="0.6"/>
<line x1="57.4" y1="252.97" x2="57.4" y2="241.1" stroke="#5a3310" stroke-width="0.8"/>
<line x1="56.3" y1="241.1" x2="58.5" y2="241.1" stroke="#5a3310" stroke-width="0.7"/>
<line x1="76.2" y1="230.63" x2="76.2" y2="225.74" stroke="#5a3310" stroke-width="0.8"/>
<line x1="75.1" y1="225.74" x2="77.3" y2="225.74" stroke="#5a3310" stroke-width="0.7"/>
<line x1="95" y1="224.35" x2="95" y2="216.67" stroke="#5a3310" stroke-width="0.8"/>
<line x1="93.9" y1="216.67" x2="96.1" y2="216.67" stroke="#5a3310" stroke-width="0.7"/>
<polyline points="57.4,252.97 76.2,230.63 95,224.35 113.8,212.48" fill="none" stroke="#5a3310" stroke-width="1.25" stroke-linejoin="round"/>
<circle cx="57.4" cy="252.97" r="1" fill="#2a1606" stroke="#2a1606" stroke-width="0.4"/>
<circle cx="76.2" cy="230.63" r="1" fill="#2a1606" stroke="#2a1606" stroke-width="0.4"/>
<circle cx="95" cy="224.35" r="1" fill="#2a1606" stroke="#2a1606" stroke-width="0.4"/>
<circle cx="113.8" cy="212.48" r="1" fill="#2a1606" stroke="#2a1606" stroke-width="0.4"/>
<line x1="47.9" y1="203.5" x2="47.9" y2="276.7" stroke="#1c1c1c" stroke-width="1.4"/>
<line x1="47.9" y1="276" x2="123.2" y2="276" stroke="#1c1c1c" stroke-width="1.4"/>
<line x1="44.6" y1="276" x2="47.9" y2="276" stroke="#1c1c1c" stroke-width="1"/>
<text x="41.6" y="277.6" font-size="4.5" fill="#111" text-anchor="end">0</text>
<line x1="44.6" y1="262.04" x2="47.9" y2="262.04" stroke="#1c1c1c" stroke-width="1"/>
<text x="41.6" y="263.64" font-size="4.5" fill="#111" text-anchor="end">20</text>
<line x1="44.6" y1="248.08" x2="47.9" y2="248.08" stroke="#1c1c1c" stroke-width="1"/>
<text x="41.6" y="249.68" font-size="4.5" fill="#111" text-anchor="end">40</text>
<line x1="44.6" y1="234.12" x2="47.9" y2="234.12" stroke="#1c1c1c" stroke-width="1"/>
<text x="41.6" y="235.72" font-size="4.5" fill="#111" text-anchor="end">60</text>
<line x1="44.6" y1="220.16" x2="47.9" y2="220.16" stroke="#1c1c1c" stroke-width="1"/>
<text x="41.6" y="221.76" font-size="4.5" fill="#111" text-anchor="end">80</text>
<line x1="44.6" y1="206.2" x2="47.9" y2="206.2" stroke="#1c1c1c" stroke-width="1"/>
<text x="41.6" y="207.8" font-size="4.5" fill="#111" text-anchor="end">100</text>
<line x1="57.4" y1="276" x2="57.4" y2="279" stroke="#1c1c1c" stroke-width="1"/>
<text x="57.4" y="286.6" font-size="4.5" fill="#111" text-anchor="middle">9d/10d</text>
<line x1="76.2" y1="276" x2="76.2" y2="279" stroke="#1c1c1c" stroke-width="1"/>
<text x="76.2" y="286.6" font-size="4.5" fill="#111" text-anchor="middle">4w</text>
<line x1="95" y1="276" x2="95" y2="279" stroke="#1c1c1c" stroke-width="1"/>
<text x="95" y="286.6" font-size="4.5" fill="#111" text-anchor="middle">8w</text>
<line x1="113.8" y1="276" x2="113.8" y2="279" stroke="#1c1c1c" stroke-width="1"/>
<text x="113.8" y="286.6" font-size="4.5" fill="#111" text-anchor="middle">12w</text>
<text x="64" y="197.73" font-size="6.76" fill="#111">Chimerism PB</text>
<line x1="167.8" y1="257.15" x2="167.8" y2="237.61" stroke="#b7d9f5" stroke-width="0.8"/>
<line x1="166.7" y1="237.61" x2="168.9" y2="237.61" stroke="#b7d9f5" stroke-width="0.7"/>
<polyline points="167.8,257.15 186.5,206.9 205.3,206.9 224.2,210.39" fill="none" stroke="#b0d4f5" stroke-width="1" stroke-linejoin="round"/>
<circle cx="167.8" cy="257.15" r="1.2" fill="#dcecf9" stroke="#1d3a5c" stroke-width="0.65"/>
<circle cx="186.5" cy="206.9" r="1.2" fill="#dcecf9" stroke="#1d3a5c" stroke-width="0.65"/>
<circle cx="205.3" cy="206.9" r="1.2" fill="#dcecf9" stroke="#1d3a5c" stroke-width="0.65"/>
<circle cx="224.2" cy="210.39" r="1.2" fill="#dcecf9" stroke="#1d3a5c" stroke-width="0.65"/>
<line x1="167.8" y1="211.78" x2="167.8" y2="206.2" stroke="#8cc4f0" stroke-width="0.8"/>
<line x1="166.7" y1="206.2" x2="168.9" y2="206.2" stroke="#8cc4f0" stroke-width="0.7"/>
<line x1="186.5" y1="224.35" x2="186.5" y2="206.9" stroke="#8cc4f0" stroke-width="0.8"/>
<line x1="185.4" y1="206.9" x2="187.6" y2="206.9" stroke="#8cc4f0" stroke-width="0.7"/>
<line x1="205.3" y1="254.36" x2="205.3" y2="224.35" stroke="#8cc4f0" stroke-width="0.8"/>
<line x1="204.2" y1="224.35" x2="206.4" y2="224.35" stroke="#8cc4f0" stroke-width="0.7"/>
<line x1="224.2" y1="256.46" x2="224.2" y2="227.14" stroke="#8cc4f0" stroke-width="0.8"/>
<line x1="223.1" y1="227.14" x2="225.3" y2="227.14" stroke="#8cc4f0" stroke-width="0.7"/>
<polyline points="167.8,211.78 186.5,224.35 205.3,254.36 224.2,256.46" fill="none" stroke="#579fe2" stroke-width="1.2" stroke-linejoin="round"/>
<circle cx="167.8" cy="211.78" r="1.25" fill="#2f5d94" stroke="#12283f" stroke-width="0.6"/>
<circle cx="186.5" cy="224.35" r="1.25" fill="#2f5d94" stroke="#12283f" stroke-width="0.6"/>
<circle cx="205.3" cy="254.36" r="1.25" fill="#2f5d94" stroke="#12283f" stroke-width="0.6"/>
<circle cx="224.2" cy="256.46" r="1.25" fill="#2f5d94" stroke="#12283f" stroke-width="0.6"/>
<line x1="167.8" y1="220.86" x2="167.8" y2="211.78" stroke="#5a3310" stroke-width="0.8"/>
<line x1="166.7" y1="211.78" x2="168.9" y2="211.78" stroke="#5a3310" stroke-width="0.7"/>
<line x1="224.2" y1="211.09" x2="224.2" y2="208.29" stroke="#5a3310" stroke-width="0.8"/>
<line x1="223.1" y1="208.29" x2="225.3" y2="208.29" stroke="#5a3310" stroke-width="0.7"/>
<polyline points="167.8,220.86 186.5,209.69 205.3,209.69 224.2,211.09" fill="none" stroke="#5a3310" stroke-width="1.25" stroke-linejoin="round"/>
<circle cx="167.8" cy="220.86" r="1" fill="#2a1606" stroke="#2a1606" stroke-width="0.4"/>
<circle cx="186.5" cy="209.69" r="1" fill="#2a1606" stroke="#2a1606" stroke-width="0.4"/>
<circle cx="205.3" cy="209.69" r="1" fill="#2a1606" stroke="#2a1606" stroke-width="0.4"/>
<circle cx="224.2" cy="211.09" r="1" fill="#2a1606" stroke="#2a1606" stroke-width="0.4"/>
<line x1="158.3" y1="203.5" x2="158.3" y2="276.7" stroke="#1c1c1c" stroke-width="1.4"/>
<line x1="158.3" y1="276" x2="234" y2="276" stroke="#1c1c1c" stroke-width="1.4"/>
<line x1="155" y1="276" x2="158.3" y2="276" stroke="#1c1c1c" stroke-width="1"/>
<text x="152" y="277.6" font-size="4.5" fill="#111" text-anchor="end">0</text>
<line x1="155" y1="262.04" x2="158.3" y2="262.04" stroke="#1c1c1c" stroke-width="1"/>
<text x="152" y="263.64" font-size="4.5" fill="#111" text-anchor="end">20</text>
<line x1="155" y1="248.08" x2="158.3" y2="248.08" stroke="#1c1c1c" stroke-width="1"/>
<text x="152" y="249.68" font-size="4.5" fill="#111" text-anchor="end">40</text>
<line x1="155" y1="234.12" x2="158.3" y2="234.12" stroke="#1c1c1c" stroke-width="1"/>
<text x="152" y="235.72" font-size="4.5" fill="#111" text-anchor="end">60</text>
<line x1="155" y1="220.16" x2="158.3" y2="220.16" stroke="#1c1c1c" stroke-width="1"/>
<text x="152" y="221.76" font-size="4.5" fill="#111" text-anchor="end">80</text>
<line x1="155" y1="206.2" x2="158.3" y2="206.2" stroke="#1c1c1c" stroke-width="1"/>
<text x="152" y="207.8" font-size="4.5" fill="#111" text-anchor="end">100</text>
<line x1="167.8" y1="276" x2="167.8" y2="279" stroke="#1c1c1c" stroke-width="1"/>
<text x="167.8" y="286.6" font-size="4.5" fill="#111" text-anchor="middle">9d/10d</text>
<line x1="186.5" y1="276" x2="186.5" y2="279" stroke="#1c1c1c" stroke-width="1"/>
<text x="186.5" y="286.6" font-size="4.5" fill="#111" text-anchor="middle">4w</text>
<line x1="205.3" y1="276" x2="205.3" y2="279" stroke="#1c1c1c" stroke-width="1"/>
<text x="205.3" y="286.6" font-size="4.5" fill="#111" text-anchor="middle">8w</text>
<line x1="224.2" y1="276" x2="224.2" y2="279" stroke="#1c1c1c" stroke-width="1"/>
<text x="224.2" y="286.6" font-size="4.5" fill="#111" text-anchor="middle">12w</text>
<text x="157.2" y="197.83" font-size="7.02" fill="#111">Chimerism Myeloid Cells</text>
<polyline points="57.4,381.4 76.2,313 95,313.69 113.8,312.3" fill="none" stroke="#b0d4f5" stroke-width="1" stroke-linejoin="round"/>
<circle cx="57.4" cy="381.4" r="1.2" fill="#dcecf9" stroke="#1d3a5c" stroke-width="0.65"/>
<circle cx="76.2" cy="313" r="1.2" fill="#dcecf9" stroke="#1d3a5c" stroke-width="0.65"/>
<circle cx="95" cy="313.69" r="1.2" fill="#dcecf9" stroke="#1d3a5c" stroke-width="0.65"/>
<circle cx="113.8" cy="312.3" r="1.2" fill="#dcecf9" stroke="#1d3a5c" stroke-width="0.65"/>
<line x1="57.4" y1="375.82" x2="57.4" y2="372.33" stroke="#5a3310" stroke-width="0.8"/>
<line x1="56.3" y1="372.33" x2="58.5" y2="372.33" stroke="#5a3310" stroke-width="0.7"/>
<polyline points="57.4,375.82 76.2,315.09 95,316.49 113.8,312.3" fill="none" stroke="#5a3310" stroke-width="1.25" stroke-linejoin="round"/>
<circle cx="57.4" cy="375.82" r="1" fill="#2a1606" stroke="#2a1606" stroke-width="0.4"/>
<circle cx="76.2" cy="315.09" r="1" fill="#2a1606" stroke="#2a1606" stroke-width="0.4"/>
<circle cx="95" cy="316.49" r="1" fill="#2a1606" stroke="#2a1606" stroke-width="0.4"/>
<circle cx="113.8" cy="312.3" r="1" fill="#2a1606" stroke="#2a1606" stroke-width="0.4"/>
<line x1="95" y1="329.05" x2="95" y2="313.69" stroke="#8cc4f0" stroke-width="0.8"/>
<line x1="93.9" y1="313.69" x2="96.1" y2="313.69" stroke="#8cc4f0" stroke-width="0.7"/>
<line x1="113.8" y1="330.45" x2="113.8" y2="312.3" stroke="#8cc4f0" stroke-width="0.8"/>
<line x1="112.7" y1="312.3" x2="114.9" y2="312.3" stroke="#8cc4f0" stroke-width="0.7"/>
<polyline points="57.4,376.51 76.2,315.09 95,329.05 113.8,330.45" fill="none" stroke="#579fe2" stroke-width="1.2" stroke-linejoin="round"/>
<circle cx="57.4" cy="376.51" r="1.25" fill="#2f5d94" stroke="#12283f" stroke-width="0.6"/>
<circle cx="76.2" cy="315.09" r="1.25" fill="#2f5d94" stroke="#12283f" stroke-width="0.6"/>
<circle cx="95" cy="329.05" r="1.25" fill="#2f5d94" stroke="#12283f" stroke-width="0.6"/>
<circle cx="113.8" cy="330.45" r="1.25" fill="#2f5d94" stroke="#12283f" stroke-width="0.6"/>
<line x1="47.9" y1="308.9" x2="47.9" y2="382.1" stroke="#1c1c1c" stroke-width="1.4"/>
<line x1="47.9" y1="381.4" x2="123.2" y2="381.4" stroke="#1c1c1c" stroke-width="1.4"/>
<line x1="44.6" y1="381.4" x2="47.9" y2="381.4" stroke="#1c1c1c" stroke-width="1"/>
<text x="41.6" y="383" font-size="4.5" fill="#111" text-anchor="end">0</text>
<line x1="44.6" y1="367.44" x2="47.9" y2="367.44" stroke="#1c1c1c" stroke-width="1"/>
<text x="41.6" y="369.04" font-size="4.5" fill="#111" text-anchor="end">20</text>
<line x1="44.6" y1="353.48" x2="47.9" y2="353.48" stroke="#1c1c1c" stroke-width="1"/>
<text x="41.6" y="355.08" font-size="4.5" fill="#111" text-anchor="end">40</text>
<line x1="44.6" y1="339.52" x2="47.9" y2="339.52" stroke="#1c1c1c" stroke-width="1"/>
<text x="41.6" y="341.12" font-size="4.5" fill="#111" text-anchor="end">60</text>
<line x1="44.6" y1="325.56" x2="47.9" y2="325.56" stroke="#1c1c1c" stroke-width="1"/>
<text x="41.6" y="327.16" font-size="4.5" fill="#111" text-anchor="end">80</text>
<line x1="44.6" y1="311.6" x2="47.9" y2="311.6" stroke="#1c1c1c" stroke-width="1"/>
<text x="41.6" y="313.2" font-size="4.5" fill="#111" text-anchor="end">100</text>
<line x1="57.4" y1="381.4" x2="57.4" y2="384.4" stroke="#1c1c1c" stroke-width="1"/>
<text x="57.4" y="392" font-size="4.5" fill="#111" text-anchor="middle">9d/10d</text>
<line x1="76.2" y1="381.4" x2="76.2" y2="384.4" stroke="#1c1c1c" stroke-width="1"/>
<text x="76.2" y="392" font-size="4.5" fill="#111" text-anchor="middle">4w</text>
<line x1="95" y1="381.4" x2="95" y2="384.4" stroke="#1c1c1c" stroke-width="1"/>
<text x="95" y="392" font-size="4.5" fill="#111" text-anchor="middle">8w</text>
<line x1="113.8" y1="381.4" x2="113.8" y2="384.4" stroke="#1c1c1c" stroke-width="1"/>
<text x="113.8" y="392" font-size="4.5" fill="#111" text-anchor="middle">12w</text>
<text x="57.7" y="303.15" font-size="6.81" fill="#111">Chimerism B Cells</text>
<polyline points="167.8,381.4 186.5,381.4 205.3,327.65 224.2,320.67" fill="none" stroke="#b0d4f5" stroke-width="1" stroke-linejoin="round"/>
<circle cx="167.8" cy="381.4" r="1.2" fill="#dcecf9" stroke="#1d3a5c" stroke-width="0.65"/>
<circle cx="186.5" cy="381.4" r="1.2" fill="#dcecf9" stroke="#1d3a5c" stroke-width="0.65"/>
<circle cx="205.3" cy="327.65" r="1.2" fill="#dcecf9" stroke="#1d3a5c" stroke-width="0.65"/>
<circle cx="224.2" cy="320.67" r="1.2" fill="#dcecf9" stroke="#1d3a5c" stroke-width="0.65"/>
<polyline points="167.8,381.4 186.5,381.4 205.3,329.05 224.2,320.67" fill="none" stroke="#5a3310" stroke-width="1.25" stroke-linejoin="round"/>
<circle cx="167.8" cy="381.4" r="1" fill="#2a1606" stroke="#2a1606" stroke-width="0.4"/>
<circle cx="186.5" cy="381.4" r="1" fill="#2a1606" stroke="#2a1606" stroke-width="0.4"/>
<circle cx="205.3" cy="329.05" r="1" fill="#2a1606" stroke="#2a1606" stroke-width="0.4"/>
<circle cx="224.2" cy="320.67" r="1" fill="#2a1606" stroke="#2a1606" stroke-width="0.4"/>
<line x1="205.3" y1="341.61" x2="205.3" y2="327.65" stroke="#8cc4f0" stroke-width="0.8"/>
<line x1="204.2" y1="327.65" x2="206.4" y2="327.65" stroke="#8cc4f0" stroke-width="0.7"/>
<line x1="224.2" y1="338.12" x2="224.2" y2="320.67" stroke="#8cc4f0" stroke-width="0.8"/>
<line x1="223.1" y1="320.67" x2="225.3" y2="320.67" stroke="#8cc4f0" stroke-width="0.7"/>
<polyline points="167.8,381.4 186.5,381.4 205.3,341.61 224.2,338.12" fill="none" stroke="#579fe2" stroke-width="1.2" stroke-linejoin="round"/>
<circle cx="167.8" cy="381.4" r="1.25" fill="#2f5d94" stroke="#12283f" stroke-width="0.6"/>
<circle cx="186.5" cy="381.4" r="1.25" fill="#2f5d94" stroke="#12283f" stroke-width="0.6"/>
<circle cx="205.3" cy="341.61" r="1.25" fill="#2f5d94" stroke="#12283f" stroke-width="0.6"/>
<circle cx="224.2" cy="338.12" r="1.25" fill="#2f5d94" stroke="#12283f" stroke-width="0.6"/>
<line x1="158.3" y1="308.9" x2="158.3" y2="382.1" stroke="#1c1c1c" stroke-width="1.4"/>
<line x1="158.3" y1="381.4" x2="234" y2="381.4" stroke="#1c1c1c" stroke-width="1.4"/>
<line x1="155" y1="381.4" x2="158.3" y2="381.4" stroke="#1c1c1c" stroke-width="1"/>
<text x="152" y="383" font-size="4.5" fill="#111" text-anchor="end">0</text>
<line x1="155" y1="367.44" x2="158.3" y2="367.44" stroke="#1c1c1c" stroke-width="1"/>
<text x="152" y="369.04" font-size="4.5" fill="#111" text-anchor="end">20</text>
<line x1="155" y1="353.48" x2="158.3" y2="353.48" stroke="#1c1c1c" stroke-width="1"/>
<text x="152" y="355.08" font-size="4.5" fill="#111" text-anchor="end">40</text>
<line x1="155" y1="339.52" x2="158.3" y2="339.52" stroke="#1c1c1c" stroke-width="1"/>
<text x="152" y="341.12" font-size="4.5" fill="#111" text-anchor="end">60</text>
<line x1="155" y1="325.56" x2="158.3" y2="325.56" stroke="#1c1c1c" stroke-width="1"/>
<text x="152" y="327.16" font-size="4.5" fill="#111" text-anchor="end">80</text>
<line x1="155" y1="311.6" x2="158.3" y2="311.6" stroke="#1c1c1c" stroke-width="1"/>
<text x="152" y="313.2" font-size="4.5" fill="#111" text-anchor="end">100</text>
<line x1="167.8" y1="381.4" x2="167.8" y2="384.4" stroke="#1c1c1c" stroke-width="1"/>
<text x="167.8" y="392" font-size="4.5" fill="#111" text-anchor="middle">9d/10d</text>
<line x1="186.5" y1="381.4" x2="186.5" y2="384.4" stroke="#1c1c1c" stroke-width="1"/>
<text x="186.5" y="392" font-size="4.5" fill="#111" text-anchor="middle">4w</text>
<line x1="205.3" y1="381.4" x2="205.3" y2="384.4" stroke="#1c1c1c" stroke-width="1"/>
<text x="205.3" y="392" font-size="4.5" fill="#111" text-anchor="middle">8w</text>
<line x1="224.2" y1="381.4" x2="224.2" y2="384.4" stroke="#1c1c1c" stroke-width="1"/>
<text x="224.2" y="392" font-size="4.5" fill="#111" text-anchor="middle">12w</text>
<text x="168.2" y="303.17" font-size="6.85" fill="#111">Chimerism T Cells</text>
<text x="251.6" y="281" font-size="12.6" fill="#000" font-weight="bold">D</text>
<g transform="translate(265.1 259.4) scale(0.72)">
<path d="M5.4,18.1C5.6,17.52 6.68,17.6 7.7,17.3C8.72,17 9.97,17.07 11.5,16.3C13.03,15.53 15.03,13.95 16.9,12.7C18.77,11.45 21.67,9.83 22.7,8.8C23.73,7.77 22.8,7.1 23.1,6.5C23.4,5.9 23.93,5.32 24.5,5.2C25.07,5.08 26.03,5.38 26.5,5.8C26.97,6.22 26.92,7.28 27.3,7.7C27.68,8.12 28.22,8.15 28.8,8.3C29.38,8.45 30.15,8.07 30.8,8.6C31.45,9.13 32.52,10.65 32.7,11.5C32.88,12.35 32.42,13.43 31.9,13.7C31.38,13.97 30.23,13.47 29.6,13.1C28.97,12.73 28.62,11.5 28.1,11.5C27.58,11.5 27.08,12.97 26.5,13.1C25.92,13.23 25.82,11.85 24.6,12.3C23.38,12.75 20.8,14.72 19.2,15.8C17.6,16.88 16.02,17.72 15,18.8C13.98,19.88 13.55,21.07 13.1,22.3C12.65,23.53 12.62,25.43 12.3,26.2C11.98,26.97 11.78,27.17 11.2,26.9C10.62,26.63 9.58,25.62 8.8,24.6C8.02,23.58 7.07,21.88 6.5,20.8C5.93,19.72 5.2,18.68 5.4,18.1Z" fill="#fff" stroke="#111" stroke-width="1.18" stroke-linejoin="round"/>
</g>
<g transform="translate(271.6 267) scale(0.73)">
<path d="M15,12.3C14.42,12.1 12.97,11.15 11.5,11.1C10.03,11.05 7.52,11.2 6.2,12C4.88,12.8 4.03,14.53 3.6,15.9C3.17,17.27 3.2,18.75 3.6,20.2C4,21.65 4.83,23.63 6,24.6C7.17,25.57 9.2,25.67 10.6,26C12,26.33 13.23,26.13 14.4,26.6C15.57,27.07 16.95,28.07 17.6,28.8C18.25,29.53 18.18,30.63 18.3,31" fill="none" stroke="#111" stroke-width="1.78" stroke-linecap="round"/>
<path d="M13.5,20.1C13.3,19.72 14.02,19.33 14.2,18.5C14.38,17.67 14.33,16.43 14.6,15.1C14.87,13.77 15.22,11.85 15.8,10.5C16.38,9.15 17.15,7.88 18.1,7C19.05,6.12 20.28,5.5 21.5,5.2C22.72,4.9 24.18,4.97 25.4,5.2C26.62,5.43 27.83,6.05 28.8,6.6C29.77,7.15 30.48,7.98 31.2,8.5C31.92,9.02 32.47,9.5 33.1,9.7C33.73,9.9 34.55,10.02 35,9.7C35.45,9.38 35.42,8.42 35.8,7.8C36.18,7.18 36.75,6.22 37.3,6C37.85,5.78 38.72,6.02 39.1,6.5C39.48,6.98 39.6,8.12 39.6,8.9C39.6,9.68 38.9,10.3 39.1,11.2C39.3,12.1 40.2,13.33 40.8,14.3C41.4,15.27 42.2,16.3 42.7,17C43.2,17.7 43.8,17.98 43.8,18.5C43.8,19.02 43.2,19.58 42.7,20.1C42.2,20.62 41.5,21.25 40.8,21.6C40.1,21.95 39.22,22.2 38.5,22.2C37.78,22.2 37.15,21.83 36.5,21.6C35.85,21.37 35.05,20.8 34.6,20.8C34.15,20.8 34.05,21.2 33.8,21.6C33.55,22 33.15,22.68 33.1,23.2C33.05,23.72 33.77,24.37 33.5,24.7C33.23,25.03 32.33,25.13 31.5,25.2C30.67,25.27 29.33,25.1 28.5,25.1C27.67,25.1 27.28,25.33 26.5,25.2C25.72,25.07 24.75,24.97 23.8,24.3C22.85,23.63 21.82,21.83 20.8,21.2C19.78,20.57 18.6,20.57 17.7,20.5C16.8,20.43 16.1,20.87 15.4,20.8C14.7,20.73 13.7,20.48 13.5,20.1Z" fill="#fff" stroke="#111" stroke-width="1.3" stroke-linejoin="round"/>
<path d="M21.5,10.8C21.12,11.25 19.65,12.4 19.2,13.5C18.75,14.6 18.53,16.18 18.8,17.4C19.07,18.62 19.97,19.65 20.8,20.8C21.63,21.95 23.3,23.72 23.8,24.3" fill="none" stroke="#111" stroke-width="1.3"/>
<path d="M28.8,20.4C29.03,20.8 29.68,22.1 30.2,22.8C30.72,23.5 31.62,24.3 31.9,24.6" fill="none" stroke="#111" stroke-width="1.3"/>
<path d="M25.8,12.8C25.92,13.25 26.05,14.6 26.5,15.5C26.95,16.4 27.72,17.43 28.5,18.2C29.28,18.97 30.18,19.62 31.2,20.1C32.22,20.58 34.03,20.93 34.6,21.1" fill="none" stroke="#111" stroke-width="1.3"/>
<ellipse cx="27.3" cy="10.1" rx="3.2" ry="3.5" transform="rotate(-20 27.3 10.1)" fill="#fff" stroke="#111" stroke-width="1.3"/>
<path d="M26.5,12.6C26.45,12.23 25.93,11.02 26.2,10.4C26.47,9.78 27.53,9.02 28.1,8.9C28.67,8.78 29.35,9.57 29.6,9.7" fill="none" stroke="#111" stroke-width="1.17"/>
<ellipse cx="36.2" cy="16" rx="1.1" ry="0.72" fill="#000"/>
<ellipse cx="36.9" cy="20.6" rx="2.4" ry="0.85" fill="#333"/>
<line x1="43.3" y1="17.9" x2="45.8" y2="15.1" stroke="#111" stroke-width="1.11"/>
<line x1="43.5" y1="18" x2="46.5" y2="17" stroke="#111" stroke-width="1.11"/>
<line x1="43.5" y1="18.3" x2="46.8" y2="18.7" stroke="#111" stroke-width="1.11"/>
<line x1="43.2" y1="17.8" x2="44.6" y2="14.7" stroke="#111" stroke-width="1.11"/>
<ellipse cx="43.5" cy="18.2" rx="0.8" ry="0.7" fill="#000"/>
<ellipse cx="26.4" cy="25.3" rx="1.8" ry="0.85" fill="#111"/>
<ellipse cx="32.3" cy="25.3" rx="1.8" ry="0.85" fill="#111"/>
<ellipse cx="14.4" cy="20.5" rx="1.6" ry="0.85" fill="#111"/>
</g>
<line x1="308.7" y1="276.7" x2="318.9" y2="276.7" stroke="#000" stroke-width="1"/>
<polygon points="323.2,276.7 318.4,274.5 318.4,278.9" fill="#000"/>
<circle cx="330.2" cy="276.7" r="2.5" fill="#fff" stroke="#8e1026" stroke-width="1.8"/>
<circle cx="330.2" cy="276.7" r="1.15" fill="none" stroke="#c4c4c4" stroke-width="0.4"/>
<circle cx="334.2" cy="276.7" r="2.5" fill="#fff" stroke="#1f3c7c" stroke-width="1.8"/>
<circle cx="334.2" cy="276.7" r="1.15" fill="none" stroke="#c4c4c4" stroke-width="0.4"/>
<circle cx="338.2" cy="276.7" r="2.5" fill="#fff" stroke="#4f9a2e" stroke-width="1.8"/>
<circle cx="338.2" cy="276.7" r="1.15" fill="none" stroke="#c4c4c4" stroke-width="0.4"/>
<circle cx="342.2" cy="276.7" r="2.5" fill="#fff" stroke="#4f9ad6" stroke-width="1.8"/>
<circle cx="342.2" cy="276.7" r="1.15" fill="none" stroke="#c4c4c4" stroke-width="0.4"/>
<line x1="351" y1="276.7" x2="361.7" y2="276.7" stroke="#000" stroke-width="1"/>
<polygon points="366,276.7 361.2,274.5 361.2,278.9" fill="#000"/>
<path d="M369.9,274.4 L369.9,278.2 A11.1,3 0 0 0 392.1,278.2 L392.1,274.4" fill="#fff" stroke="#111" stroke-width="0.65"/>
<ellipse cx="381" cy="274.4" rx="11.1" ry="3" fill="#fff" stroke="#111" stroke-width="0.65"/>
<path d="M370.35,277.3 L370.35,278.2 A10.65,2.6 0 0 0 391.65,278.2 L391.65,277.3 Z" fill="#cf6b63"/>
<ellipse cx="381" cy="277.6" rx="10.65" ry="2.4" fill="#cf6b63" stroke="#6e2a28" stroke-width="0.5"/>
<path d="M369.9,274.4 L369.9,278.2 A11.1,3 0 0 0 392.1,278.2 L392.1,274.4" fill="none" stroke="#111" stroke-width="0.65"/>
<line x1="396.5" y1="276.7" x2="406.3" y2="276.7" stroke="#000" stroke-width="1"/>
<polygon points="410.6,276.7 405.8,274.5 405.8,278.9" fill="#000"/>
<path d="M415.1,274.4 L415.1,278.2 A11.1,3 0 0 0 437.3,278.2 L437.3,274.4" fill="#fff" stroke="#111" stroke-width="0.65"/>
<ellipse cx="426.2" cy="274.4" rx="11.1" ry="3" fill="#fff" stroke="#111" stroke-width="0.65"/>
<path d="M415.55,277.3 L415.55,278.2 A10.65,2.6 0 0 0 436.85,278.2 L436.85,277.3 Z" fill="#cf6b63"/>
<ellipse cx="426.2" cy="277.6" rx="10.65" ry="2.4" fill="#cf6b63" stroke="#6e2a28" stroke-width="0.5"/>
<path d="M415.1,274.4 L415.1,278.2 A11.1,3 0 0 0 437.3,278.2 L437.3,274.4" fill="none" stroke="#111" stroke-width="0.65"/>
<line x1="441.8" y1="276.7" x2="452.1" y2="276.7" stroke="#000" stroke-width="1"/>
<polygon points="456.4,276.7 451.6,274.5 451.6,278.9" fill="#000"/>
<path d="M460.6,274.4 L460.6,278.2 A11.1,3 0 0 0 482.8,278.2 L482.8,274.4" fill="#fff" stroke="#111" stroke-width="0.65"/>
<ellipse cx="471.7" cy="274.4" rx="11.1" ry="3" fill="#fff" stroke="#111" stroke-width="0.65"/>
<path d="M461.05,277.3 L461.05,278.2 A10.65,2.6 0 0 0 482.35,278.2 L482.35,277.3 Z" fill="#cf6b63"/>
<ellipse cx="471.7" cy="277.6" rx="10.65" ry="2.4" fill="#cf6b63" stroke="#6e2a28" stroke-width="0.5"/>
<path d="M460.6,274.4 L460.6,278.2 A11.1,3 0 0 0 482.8,278.2 L482.8,274.4" fill="none" stroke="#111" stroke-width="0.65"/>
<text x="325.6" y="287.28" font-size="4.68" fill="#111">1000 Cells/</text>
<text x="326" y="292.82" font-size="4.78" fill="#111">Population</text>
<text x="307.3" y="306.1" font-size="7" fill="#111" textLength="30.3" lengthAdjust="spacingAndGlyphs">1<tspan font-size="4.5" dy="-2.4">st</tspan><tspan dy="2.4"> Plating</tspan></text>
<line x1="299.8" y1="310.8" x2="344.5" y2="310.8" stroke="#222" stroke-width="1.3"/>
<text x="359.4" y="306.1" font-size="7" fill="#111" textLength="34.6" lengthAdjust="spacingAndGlyphs">2<tspan font-size="4.5" dy="-2.4">nd</tspan><tspan dy="2.4"> Plating</tspan></text>
<line x1="354.8" y1="310.8" x2="398.7" y2="310.8" stroke="#222" stroke-width="1.3"/>
<text x="417.5" y="306.1" font-size="7" fill="#111" textLength="31.7" lengthAdjust="spacingAndGlyphs">3<tspan font-size="4.5" dy="-2.4">rd</tspan><tspan dy="2.4"> Plating</tspan></text>
<line x1="411.4" y1="310.8" x2="455.8" y2="310.8" stroke="#222" stroke-width="1.3"/>
<rect x="299.15" y="394.42" width="7.3" height="17.68" fill="#b00d2f" stroke="#111" stroke-width="0.45"/>
<rect x="310.65" y="397.07" width="7.3" height="15.03" fill="#2c4f8c" stroke="#111" stroke-width="0.45"/>
<rect x="322.15" y="399.37" width="7.3" height="12.73" fill="#6ab344" stroke="#111" stroke-width="0.45"/>
<rect x="333.65" y="382.4" width="7.3" height="29.7" fill="#6cb5eb" stroke="#111" stroke-width="0.45"/>
<rect x="356.55" y="367.3" width="7.3" height="44.8" fill="#b00d2f" stroke="#111" stroke-width="0.45"/>
<rect x="356.55" y="333.24" width="7.3" height="29.06" fill="#b00d2f" stroke="#111" stroke-width="0.45"/>
<rect x="368.05" y="367.3" width="7.3" height="44.8" fill="#2c4f8c" stroke="#111" stroke-width="0.45"/>
<rect x="368.05" y="357.59" width="7.3" height="4.71" fill="#2c4f8c" stroke="#111" stroke-width="0.45"/>
<rect x="379.55" y="391.59" width="7.3" height="20.51" fill="#6ab344" stroke="#111" stroke-width="0.45"/>
<rect x="391.05" y="379.39" width="7.3" height="32.71" fill="#6cb5eb" stroke="#111" stroke-width="0.45"/>
<rect x="413.85" y="404.14" width="7.3" height="7.96" fill="#b00d2f" stroke="#111" stroke-width="0.45"/>
<rect x="425.35" y="410.69" width="7.3" height="1.41" fill="#2c4f8c" stroke="#111" stroke-width="0.45"/>
<rect x="436.85" y="411.75" width="7.3" height="0.35" fill="#6ab344" stroke="#111" stroke-width="0.45"/>
<rect x="448.35" y="410.33" width="7.3" height="1.77" fill="#6cb5eb" stroke="#111" stroke-width="0.45"/>
<rect x="297" y="362.4" width="165" height="5.2" fill="#fff"/>
<line x1="302.8" y1="394.42" x2="302.8" y2="391.24" stroke="#111" stroke-width="0.55"/>
<line x1="301" y1="391.24" x2="304.6" y2="391.24" stroke="#111" stroke-width="0.55"/>
<line x1="302.8" y1="394.42" x2="302.8" y2="397.6" stroke="#111" stroke-width="0.55"/>
<line x1="301" y1="397.6" x2="304.6" y2="397.6" stroke="#111" stroke-width="0.55"/>
<line x1="314.3" y1="397.07" x2="314.3" y2="393.54" stroke="#111" stroke-width="0.55"/>
<line x1="312.5" y1="393.54" x2="316.1" y2="393.54" stroke="#111" stroke-width="0.55"/>
<line x1="314.3" y1="397.07" x2="314.3" y2="400.61" stroke="#111" stroke-width="0.55"/>
<line x1="312.5" y1="400.61" x2="316.1" y2="400.61" stroke="#111" stroke-width="0.55"/>
<line x1="325.8" y1="399.37" x2="325.8" y2="393.71" stroke="#111" stroke-width="0.55"/>
<line x1="324" y1="393.71" x2="327.6" y2="393.71" stroke="#111" stroke-width="0.55"/>
<line x1="325.8" y1="399.37" x2="325.8" y2="405.03" stroke="#111" stroke-width="0.55"/>
<line x1="324" y1="405.03" x2="327.6" y2="405.03" stroke="#111" stroke-width="0.55"/>
<line x1="337.3" y1="382.4" x2="337.3" y2="376.74" stroke="#111" stroke-width="0.55"/>
<line x1="335.5" y1="376.74" x2="339.1" y2="376.74" stroke="#111" stroke-width="0.55"/>
<line x1="337.3" y1="382.4" x2="337.3" y2="388.06" stroke="#111" stroke-width="0.55"/>
<line x1="335.5" y1="388.06" x2="339.1" y2="388.06" stroke="#111" stroke-width="0.55"/>
<line x1="360.2" y1="333.24" x2="360.2" y2="328.94" stroke="#111" stroke-width="0.55"/>
<line x1="358.4" y1="328.94" x2="362" y2="328.94" stroke="#111" stroke-width="0.55"/>
<line x1="360.2" y1="333.24" x2="360.2" y2="337.53" stroke="#111" stroke-width="0.55"/>
<line x1="358.4" y1="337.53" x2="362" y2="337.53" stroke="#111" stroke-width="0.55"/>
<line x1="371.7" y1="357.59" x2="371.7" y2="356.15" stroke="#111" stroke-width="0.55"/>
<line x1="369.9" y1="356.15" x2="373.5" y2="356.15" stroke="#111" stroke-width="0.55"/>
<line x1="371.7" y1="357.59" x2="371.7" y2="359.02" stroke="#111" stroke-width="0.55"/>
<line x1="369.9" y1="359.02" x2="373.5" y2="359.02" stroke="#111" stroke-width="0.55"/>
<line x1="383.2" y1="391.59" x2="383.2" y2="388.06" stroke="#111" stroke-width="0.55"/>
<line x1="381.4" y1="388.06" x2="385" y2="388.06" stroke="#111" stroke-width="0.55"/>
<line x1="383.2" y1="391.59" x2="383.2" y2="395.13" stroke="#111" stroke-width="0.55"/>
<line x1="381.4" y1="395.13" x2="385" y2="395.13" stroke="#111" stroke-width="0.55"/>
<line x1="394.7" y1="379.39" x2="394.7" y2="370.55" stroke="#111" stroke-width="0.55"/>
<line x1="392.9" y1="370.55" x2="396.5" y2="370.55" stroke="#111" stroke-width="0.55"/>
<line x1="394.7" y1="379.39" x2="394.7" y2="388.23" stroke="#111" stroke-width="0.55"/>
<line x1="392.9" y1="388.23" x2="396.5" y2="388.23" stroke="#111" stroke-width="0.55"/>
<line x1="417.5" y1="404.14" x2="417.5" y2="402.02" stroke="#111" stroke-width="0.55"/>
<line x1="415.7" y1="402.02" x2="419.3" y2="402.02" stroke="#111" stroke-width="0.55"/>
<line x1="417.5" y1="404.14" x2="417.5" y2="406.27" stroke="#111" stroke-width="0.55"/>
<line x1="415.7" y1="406.27" x2="419.3" y2="406.27" stroke="#111" stroke-width="0.55"/>
<line x1="429" y1="410.69" x2="429" y2="409.8" stroke="#111" stroke-width="0.55"/>
<line x1="427.2" y1="409.8" x2="430.8" y2="409.8" stroke="#111" stroke-width="0.55"/>
<line x1="429" y1="410.69" x2="429" y2="411.57" stroke="#111" stroke-width="0.55"/>
<line x1="427.2" y1="411.57" x2="430.8" y2="411.57" stroke="#111" stroke-width="0.55"/>
<line x1="440.5" y1="411.75" x2="440.5" y2="411.39" stroke="#111" stroke-width="0.55"/>
<line x1="438.7" y1="411.39" x2="442.3" y2="411.39" stroke="#111" stroke-width="0.55"/>
<line x1="440.5" y1="411.75" x2="440.5" y2="412.1" stroke="#111" stroke-width="0.55"/>
<line x1="438.7" y1="412.1" x2="442.3" y2="412.1" stroke="#111" stroke-width="0.55"/>
<line x1="452" y1="410.33" x2="452" y2="409.27" stroke="#111" stroke-width="0.55"/>
<line x1="450.2" y1="409.27" x2="453.8" y2="409.27" stroke="#111" stroke-width="0.55"/>
<line x1="452" y1="410.33" x2="452" y2="411.39" stroke="#111" stroke-width="0.55"/>
<line x1="450.2" y1="411.39" x2="453.8" y2="411.39" stroke="#111" stroke-width="0.55"/>
<circle cx="303.17" cy="394.02" r="1.15" fill="#fff" stroke="#1b2b4a" stroke-width="0.5"/>
<circle cx="302.59" cy="392.62" r="1.15" fill="#fff" stroke="#1b2b4a" stroke-width="0.5"/>
<circle cx="303.34" cy="392.01" r="1.15" fill="#fff" stroke="#1b2b4a" stroke-width="0.5"/>
<circle cx="302.87" cy="391.31" r="1.15" fill="#fff" stroke="#1b2b4a" stroke-width="0.5"/>
<circle cx="304.62" cy="389.93" r="1.15" fill="#fff" stroke="#1b2b4a" stroke-width="0.5"/>
<circle cx="301.58" cy="389.43" r="1.15" fill="#fff" stroke="#1b2b4a" stroke-width="0.5"/>
<circle cx="304.72" cy="388.45" r="1.15" fill="#fff" stroke="#1b2b4a" stroke-width="0.5"/>
<circle cx="299.96" cy="386.93" r="1.15" fill="#fff" stroke="#1b2b4a" stroke-width="0.5"/>
<circle cx="305.68" cy="385.69" r="1.15" fill="#fff" stroke="#1b2b4a" stroke-width="0.5"/>
<circle cx="315.02" cy="394.7" r="1.15" fill="#fff" stroke="#1b2b4a" stroke-width="0.5"/>
<circle cx="311.29" cy="394.14" r="1.15" fill="#fff" stroke="#1b2b4a" stroke-width="0.5"/>
<circle cx="311.57" cy="392.78" r="1.15" fill="#fff" stroke="#1b2b4a" stroke-width="0.5"/>
<circle cx="312.7" cy="392.06" r="1.15" fill="#fff" stroke="#1b2b4a" stroke-width="0.5"/>
<circle cx="314.08" cy="391.19" r="1.15" fill="#fff" stroke="#1b2b4a" stroke-width="0.5"/>
<circle cx="316.42" cy="389.79" r="1.15" fill="#fff" stroke="#1b2b4a" stroke-width="0.5"/>
<circle cx="315.17" cy="388.7" r="1.15" fill="#fff" stroke="#1b2b4a" stroke-width="0.5"/>
<circle cx="315.31" cy="387.69" r="1.15" fill="#fff" stroke="#1b2b4a" stroke-width="0.5"/>
<circle cx="312.92" cy="386.71" r="1.15" fill="#fff" stroke="#1b2b4a" stroke-width="0.5"/>
<circle cx="328.87" cy="403.88" r="1.15" fill="#fff" stroke="#1b2b4a" stroke-width="0.5"/>
<circle cx="327.09" cy="402.79" r="1.15" fill="#fff" stroke="#1b2b4a" stroke-width="0.5"/>
<circle cx="324.12" cy="402.11" r="1.15" fill="#fff" stroke="#1b2b4a" stroke-width="0.5"/>
<circle cx="323.14" cy="400.87" r="1.15" fill="#fff" stroke="#1b2b4a" stroke-width="0.5"/>
<circle cx="325.18" cy="399.04" r="1.15" fill="#fff" stroke="#1b2b4a" stroke-width="0.5"/>
<circle cx="325.1" cy="397.67" r="1.15" fill="#fff" stroke="#1b2b4a" stroke-width="0.5"/>
<circle cx="327.95" cy="396.27" r="1.15" fill="#fff" stroke="#1b2b4a" stroke-width="0.5"/>
<circle cx="324" cy="396.09" r="1.15" fill="#fff" stroke="#1b2b4a" stroke-width="0.5"/>
<circle cx="325.61" cy="393.77" r="1.15" fill="#fff" stroke="#1b2b4a" stroke-width="0.5"/>
<circle cx="336.66" cy="387.73" r="1.15" fill="#fff" stroke="#1b2b4a" stroke-width="0.5"/>
<circle cx="338.1" cy="387.44" r="1.15" fill="#fff" stroke="#1b2b4a" stroke-width="0.5"/>
<circle cx="335.87" cy="384.87" r="1.15" fill="#fff" stroke="#1b2b4a" stroke-width="0.5"/>
<circle cx="336.26" cy="384.28" r="1.15" fill="#fff" stroke="#1b2b4a" stroke-width="0.5"/>
<circle cx="338.9" cy="381.47" r="1.15" fill="#fff" stroke="#1b2b4a" stroke-width="0.5"/>
<circle cx="335.73" cy="381.09" r="1.15" fill="#fff" stroke="#1b2b4a" stroke-width="0.5"/>
<circle cx="334.57" cy="379.54" r="1.15" fill="#fff" stroke="#1b2b4a" stroke-width="0.5"/>
<circle cx="335.3" cy="376.99" r="1.15" fill="#fff" stroke="#1b2b4a" stroke-width="0.5"/>
<circle cx="336.97" cy="375.75" r="1.15" fill="#fff" stroke="#1b2b4a" stroke-width="0.5"/>
<circle cx="361.64" cy="341.1" r="1.15" fill="#fff" stroke="#1b2b4a" stroke-width="0.5"/>
<circle cx="361.09" cy="339.69" r="1.15" fill="#fff" stroke="#1b2b4a" stroke-width="0.5"/>
<circle cx="359.71" cy="338.23" r="1.15" fill="#fff" stroke="#1b2b4a" stroke-width="0.5"/>
<circle cx="358.77" cy="336.61" r="1.15" fill="#fff" stroke="#1b2b4a" stroke-width="0.5"/>
<circle cx="362.08" cy="334.11" r="1.15" fill="#fff" stroke="#1b2b4a" stroke-width="0.5"/>
<circle cx="362.59" cy="333.52" r="1.15" fill="#fff" stroke="#1b2b4a" stroke-width="0.5"/>
<circle cx="359.54" cy="332.16" r="1.15" fill="#fff" stroke="#1b2b4a" stroke-width="0.5"/>
<circle cx="361.08" cy="329.81" r="1.15" fill="#fff" stroke="#1b2b4a" stroke-width="0.5"/>
<circle cx="363.23" cy="329.33" r="1.15" fill="#fff" stroke="#1b2b4a" stroke-width="0.5"/>
<circle cx="370.2" cy="359.85" r="1.15" fill="#fff" stroke="#1b2b4a" stroke-width="0.5"/>
<circle cx="370.64" cy="358.9" r="1.15" fill="#fff" stroke="#1b2b4a" stroke-width="0.5"/>
<circle cx="369.06" cy="358.53" r="1.15" fill="#fff" stroke="#1b2b4a" stroke-width="0.5"/>
<circle cx="372.21" cy="358.01" r="1.15" fill="#fff" stroke="#1b2b4a" stroke-width="0.5"/>
<circle cx="372.33" cy="357.29" r="1.15" fill="#fff" stroke="#1b2b4a" stroke-width="0.5"/>
<circle cx="371.41" cy="356.58" r="1.15" fill="#fff" stroke="#1b2b4a" stroke-width="0.5"/>
<circle cx="371.6" cy="355.61" r="1.15" fill="#fff" stroke="#1b2b4a" stroke-width="0.5"/>
<circle cx="373.97" cy="355.19" r="1.15" fill="#fff" stroke="#1b2b4a" stroke-width="0.5"/>
<circle cx="369.56" cy="354.78" r="1.15" fill="#fff" stroke="#1b2b4a" stroke-width="0.5"/>
<circle cx="385.17" cy="393.05" r="1.15" fill="#fff" stroke="#1b2b4a" stroke-width="0.5"/>
<circle cx="381.28" cy="392.64" r="1.15" fill="#fff" stroke="#1b2b4a" stroke-width="0.5"/>
<circle cx="385.93" cy="391.17" r="1.15" fill="#fff" stroke="#1b2b4a" stroke-width="0.5"/>
<circle cx="385.99" cy="390.64" r="1.15" fill="#fff" stroke="#1b2b4a" stroke-width="0.5"/>
<circle cx="383.84" cy="388.99" r="1.15" fill="#fff" stroke="#1b2b4a" stroke-width="0.5"/>
<circle cx="380.74" cy="388.39" r="1.15" fill="#fff" stroke="#1b2b4a" stroke-width="0.5"/>
<circle cx="386.07" cy="387.72" r="1.15" fill="#fff" stroke="#1b2b4a" stroke-width="0.5"/>
<circle cx="384.47" cy="386.52" r="1.15" fill="#fff" stroke="#1b2b4a" stroke-width="0.5"/>
<circle cx="385.21" cy="385.48" r="1.15" fill="#fff" stroke="#1b2b4a" stroke-width="0.5"/>
<circle cx="393.42" cy="391.18" r="1.15" fill="#fff" stroke="#1b2b4a" stroke-width="0.5"/>
<circle cx="396.07" cy="389.47" r="1.15" fill="#fff" stroke="#1b2b4a" stroke-width="0.5"/>
<circle cx="393.02" cy="386.98" r="1.15" fill="#fff" stroke="#1b2b4a" stroke-width="0.5"/>
<circle cx="396.88" cy="383.02" r="1.15" fill="#fff" stroke="#1b2b4a" stroke-width="0.5"/>
<circle cx="393.34" cy="380.13" r="1.15" fill="#fff" stroke="#1b2b4a" stroke-width="0.5"/>
<circle cx="392.86" cy="376.63" r="1.15" fill="#fff" stroke="#1b2b4a" stroke-width="0.5"/>
<circle cx="393.27" cy="376.11" r="1.15" fill="#fff" stroke="#1b2b4a" stroke-width="0.5"/>
<circle cx="391.97" cy="372.3" r="1.15" fill="#fff" stroke="#1b2b4a" stroke-width="0.5"/>
<circle cx="393.89" cy="370.21" r="1.15" fill="#fff" stroke="#1b2b4a" stroke-width="0.5"/>
<circle cx="415.22" cy="405.06" r="1.15" fill="#fff" stroke="#1b2b4a" stroke-width="0.5"/>
<circle cx="419.92" cy="404.55" r="1.15" fill="#fff" stroke="#1b2b4a" stroke-width="0.5"/>
<circle cx="418.47" cy="403.57" r="1.15" fill="#fff" stroke="#1b2b4a" stroke-width="0.5"/>
<circle cx="418.02" cy="403.1" r="1.15" fill="#fff" stroke="#1b2b4a" stroke-width="0.5"/>
<circle cx="414.62" cy="402.79" r="1.15" fill="#fff" stroke="#1b2b4a" stroke-width="0.5"/>
<circle cx="420.04" cy="402.23" r="1.15" fill="#fff" stroke="#1b2b4a" stroke-width="0.5"/>
<circle cx="420.37" cy="401.21" r="1.15" fill="#fff" stroke="#1b2b4a" stroke-width="0.5"/>
<circle cx="418.34" cy="400.97" r="1.15" fill="#fff" stroke="#1b2b4a" stroke-width="0.5"/>
<circle cx="418.93" cy="400.08" r="1.15" fill="#fff" stroke="#1b2b4a" stroke-width="0.5"/>
<circle cx="432.1" cy="411.42" r="1.15" fill="#fff" stroke="#1b2b4a" stroke-width="0.5"/>
<circle cx="429.29" cy="411" r="1.15" fill="#fff" stroke="#1b2b4a" stroke-width="0.5"/>
<circle cx="431.48" cy="410.16" r="1.15" fill="#fff" stroke="#1b2b4a" stroke-width="0.5"/>
<circle cx="430.26" cy="409.63" r="1.15" fill="#fff" stroke="#1b2b4a" stroke-width="0.5"/>
<circle cx="431.57" cy="409.07" r="1.15" fill="#fff" stroke="#1b2b4a" stroke-width="0.5"/>
<circle cx="441.65" cy="411.87" r="1.15" fill="#fff" stroke="#1b2b4a" stroke-width="0.5"/>
<circle cx="442.8" cy="411.6" r="1.15" fill="#fff" stroke="#1b2b4a" stroke-width="0.5"/>
<circle cx="442.3" cy="411.5" r="1.15" fill="#fff" stroke="#1b2b4a" stroke-width="0.5"/>
<circle cx="440.95" cy="411.26" r="1.15" fill="#fff" stroke="#1b2b4a" stroke-width="0.5"/>
<circle cx="439.77" cy="411.12" r="1.15" fill="#fff" stroke="#1b2b4a" stroke-width="0.5"/>
<circle cx="452.67" cy="411.1" r="1.15" fill="#fff" stroke="#1b2b4a" stroke-width="0.5"/>
<circle cx="452.86" cy="410.79" r="1.15" fill="#fff" stroke="#1b2b4a" stroke-width="0.5"/>
<circle cx="454.35" cy="409.76" r="1.15" fill="#fff" stroke="#1b2b4a" stroke-width="0.5"/>
<circle cx="451.31" cy="409.32" r="1.15" fill="#fff" stroke="#1b2b4a" stroke-width="0.5"/>
<circle cx="452.5" cy="408.76" r="1.15" fill="#fff" stroke="#1b2b4a" stroke-width="0.5"/>
<line x1="295.2" y1="314.6" x2="295.2" y2="362.3" stroke="#000" stroke-width="1.4"/>
<line x1="295.2" y1="367.5" x2="295.2" y2="412.6" stroke="#000" stroke-width="1.4"/>
<line x1="293.6" y1="362.3" x2="296.8" y2="362.3" stroke="#000" stroke-width="1"/>
<line x1="293.6" y1="367.5" x2="296.8" y2="367.5" stroke="#000" stroke-width="1"/>
<line x1="295.2" y1="412.1" x2="459.6" y2="412.1" stroke="#000" stroke-width="1.4"/>
<line x1="291.9" y1="355.2" x2="295.2" y2="355.2" stroke="#000" stroke-width="0.9"/>
<text x="288.9" y="356.75" font-size="4.5" fill="#111" text-anchor="end">400</text>
<line x1="291.9" y1="345.65" x2="295.2" y2="345.65" stroke="#000" stroke-width="0.9"/>
<text x="288.9" y="347.2" font-size="4.5" fill="#111" text-anchor="end">600</text>
<line x1="291.9" y1="336.1" x2="295.2" y2="336.1" stroke="#000" stroke-width="0.9"/>
<text x="288.9" y="337.65" font-size="4.5" fill="#111" text-anchor="end">800</text>
<line x1="291.9" y1="326.55" x2="295.2" y2="326.55" stroke="#000" stroke-width="0.9"/>
<text x="288.9" y="328.1" font-size="4.5" fill="#111" text-anchor="end">1000</text>
<line x1="291.9" y1="317" x2="295.2" y2="317" stroke="#000" stroke-width="0.9"/>
<text x="288.9" y="318.55" font-size="4.5" fill="#111" text-anchor="end">1200</text>
<line x1="291.9" y1="412.1" x2="295.2" y2="412.1" stroke="#000" stroke-width="0.9"/>
<text x="288.9" y="413.65" font-size="4.5" fill="#111" text-anchor="end">0</text>
<line x1="291.9" y1="403.26" x2="295.2" y2="403.26" stroke="#000" stroke-width="0.9"/>
<text x="288.9" y="404.81" font-size="4.5" fill="#111" text-anchor="end">50</text>
<line x1="291.9" y1="394.42" x2="295.2" y2="394.42" stroke="#000" stroke-width="0.9"/>
<text x="288.9" y="395.97" font-size="4.5" fill="#111" text-anchor="end">100</text>
<line x1="291.9" y1="385.58" x2="295.2" y2="385.58" stroke="#000" stroke-width="0.9"/>
<text x="288.9" y="387.13" font-size="4.5" fill="#111" text-anchor="end">150</text>
<line x1="291.9" y1="376.74" x2="295.2" y2="376.74" stroke="#000" stroke-width="0.9"/>
<text x="288.9" y="378.29" font-size="4.5" fill="#111" text-anchor="end">200</text>
<line x1="291.9" y1="367.9" x2="295.2" y2="367.9" stroke="#000" stroke-width="0.9"/>
<text x="288.9" y="369.45" font-size="4.5" fill="#111" text-anchor="end">250</text>
<line x1="302.8" y1="412.1" x2="302.8" y2="415.2" stroke="#000" stroke-width="0.9"/>
<line x1="314.3" y1="412.1" x2="314.3" y2="415.2" stroke="#000" stroke-width="0.9"/>
<line x1="325.8" y1="412.1" x2="325.8" y2="415.2" stroke="#000" stroke-width="0.9"/>
<line x1="337.3" y1="412.1" x2="337.3" y2="415.2" stroke="#000" stroke-width="0.9"/>
<line x1="360.2" y1="412.1" x2="360.2" y2="415.2" stroke="#000" stroke-width="0.9"/>
<line x1="371.7" y1="412.1" x2="371.7" y2="415.2" stroke="#000" stroke-width="0.9"/>
<line x1="383.2" y1="412.1" x2="383.2" y2="415.2" stroke="#000" stroke-width="0.9"/>
<line x1="394.7" y1="412.1" x2="394.7" y2="415.2" stroke="#000" stroke-width="0.9"/>
<line x1="417.5" y1="412.1" x2="417.5" y2="415.2" stroke="#000" stroke-width="0.9"/>
<line x1="429" y1="412.1" x2="429" y2="415.2" stroke="#000" stroke-width="0.9"/>
<line x1="440.5" y1="412.1" x2="440.5" y2="415.2" stroke="#000" stroke-width="0.9"/>
<line x1="452" y1="412.1" x2="452" y2="415.2" stroke="#000" stroke-width="0.9"/>
<line x1="348.5" y1="412.1" x2="348.5" y2="415.2" stroke="#000" stroke-width="0.9"/>
<line x1="406" y1="412.1" x2="406" y2="415.2" stroke="#000" stroke-width="0.9"/>
<text x="304.9" y="421.9" font-size="4.5" fill="#111" text-anchor="end" transform="rotate(-45 304.9 421.9)">HSC</text>
<text x="316.4" y="421.9" font-size="4.5" fill="#111" text-anchor="end" transform="rotate(-45 316.4 421.9)">MPP1</text>
<text x="327.9" y="421.9" font-size="4.5" fill="#111" text-anchor="end" transform="rotate(-45 327.9 421.9)">MPP2</text>
<text x="339.4" y="421.9" font-size="4.5" fill="#111" text-anchor="end" transform="rotate(-45 339.4 421.9)">MPP5</text>
<text x="362.3" y="421.9" font-size="4.5" fill="#111" text-anchor="end" transform="rotate(-45 362.3 421.9)">HSC</text>
<text x="373.8" y="421.9" font-size="4.5" fill="#111" text-anchor="end" transform="rotate(-45 373.8 421.9)">MPP1</text>
<text x="385.3" y="421.9" font-size="4.5" fill="#111" text-anchor="end" transform="rotate(-45 385.3 421.9)">MPP2</text>
<text x="396.8" y="421.9" font-size="4.5" fill="#111" text-anchor="end" transform="rotate(-45 396.8 421.9)">MPP5</text>
<text x="419.6" y="421.9" font-size="4.5" fill="#111" text-anchor="end" transform="rotate(-45 419.6 421.9)">HSC</text>
<text x="431.1" y="421.9" font-size="4.5" fill="#111" text-anchor="end" transform="rotate(-45 431.1 421.9)">MPP1</text>
<text x="442.6" y="421.9" font-size="4.5" fill="#111" text-anchor="end" transform="rotate(-45 442.6 421.9)">MPP2</text>
<text x="454.1" y="421.9" font-size="4.5" fill="#111" text-anchor="end" transform="rotate(-45 454.1 421.9)">MPP5</text>
<text x="314.2" y="379.21" font-size="4.5" fill="#111" text-anchor="middle">0.9x</text>
<text x="325.2" y="385.11" font-size="4.5" fill="#111" text-anchor="middle">0.6x</text>
<text x="337.6" y="371.61" font-size="4.5" fill="#111" text-anchor="middle">1.4x</text>
<text x="371.7" y="348.11" font-size="4.5" fill="#111" text-anchor="middle">0.4x</text>
<text x="382.6" y="380.41" font-size="4.5" fill="#111" text-anchor="middle">0.1x</text>
<text x="394.2" y="364.31" font-size="4.5" fill="#111" text-anchor="middle">0.2x</text>
<text x="428.2" y="402.41" font-size="4.5" fill="#111" text-anchor="middle">0.2x</text>
<text x="440" y="407.31" font-size="4.5" fill="#111" text-anchor="middle">0.1x</text>
<text x="451.2" y="401.21" font-size="4.5" fill="#111" text-anchor="middle">0.3x</text>
<text x="325.8" y="379.6" font-size="4.5" fill="#111" text-anchor="middle">*</text>
<text x="337.2" y="364.6" font-size="4.5" fill="#111" text-anchor="middle">*</text>
<text x="371.7" y="343.4" font-size="4.5" fill="#111" text-anchor="middle">***</text>
<text x="383" y="373.4" font-size="4.5" fill="#111" text-anchor="middle">***</text>
<text x="394.7" y="358.8" font-size="4.5" fill="#111" text-anchor="middle">***</text>
<text x="7.4" y="459.9" font-size="12.6" fill="#000" font-weight="bold">E</text>
<g transform="translate(30.1 439) scale(0.72)">
<path d="M5.4,18.1C5.6,17.52 6.68,17.6 7.7,17.3C8.72,17 9.97,17.07 11.5,16.3C13.03,15.53 15.03,13.95 16.9,12.7C18.77,11.45 21.67,9.83 22.7,8.8C23.73,7.77 22.8,7.1 23.1,6.5C23.4,5.9 23.93,5.32 24.5,5.2C25.07,5.08 26.03,5.38 26.5,5.8C26.97,6.22 26.92,7.28 27.3,7.7C27.68,8.12 28.22,8.15 28.8,8.3C29.38,8.45 30.15,8.07 30.8,8.6C31.45,9.13 32.52,10.65 32.7,11.5C32.88,12.35 32.42,13.43 31.9,13.7C31.38,13.97 30.23,13.47 29.6,13.1C28.97,12.73 28.62,11.5 28.1,11.5C27.58,11.5 27.08,12.97 26.5,13.1C25.92,13.23 25.82,11.85 24.6,12.3C23.38,12.75 20.8,14.72 19.2,15.8C17.6,16.88 16.02,17.72 15,18.8C13.98,19.88 13.55,21.07 13.1,22.3C12.65,23.53 12.62,25.43 12.3,26.2C11.98,26.97 11.78,27.17 11.2,26.9C10.62,26.63 9.58,25.62 8.8,24.6C8.02,23.58 7.07,21.88 6.5,20.8C5.93,19.72 5.2,18.68 5.4,18.1Z" fill="#fff" stroke="#111" stroke-width="1.18" stroke-linejoin="round"/>
</g>
<g transform="translate(36.6 446.6) scale(0.73)">
<path d="M15,12.3C14.42,12.1 12.97,11.15 11.5,11.1C10.03,11.05 7.52,11.2 6.2,12C4.88,12.8 4.03,14.53 3.6,15.9C3.17,17.27 3.2,18.75 3.6,20.2C4,21.65 4.83,23.63 6,24.6C7.17,25.57 9.2,25.67 10.6,26C12,26.33 13.23,26.13 14.4,26.6C15.57,27.07 16.95,28.07 17.6,28.8C18.25,29.53 18.18,30.63 18.3,31" fill="none" stroke="#111" stroke-width="1.78" stroke-linecap="round"/>
<path d="M13.5,20.1C13.3,19.72 14.02,19.33 14.2,18.5C14.38,17.67 14.33,16.43 14.6,15.1C14.87,13.77 15.22,11.85 15.8,10.5C16.38,9.15 17.15,7.88 18.1,7C19.05,6.12 20.28,5.5 21.5,5.2C22.72,4.9 24.18,4.97 25.4,5.2C26.62,5.43 27.83,6.05 28.8,6.6C29.77,7.15 30.48,7.98 31.2,8.5C31.92,9.02 32.47,9.5 33.1,9.7C33.73,9.9 34.55,10.02 35,9.7C35.45,9.38 35.42,8.42 35.8,7.8C36.18,7.18 36.75,6.22 37.3,6C37.85,5.78 38.72,6.02 39.1,6.5C39.48,6.98 39.6,8.12 39.6,8.9C39.6,9.68 38.9,10.3 39.1,11.2C39.3,12.1 40.2,13.33 40.8,14.3C41.4,15.27 42.2,16.3 42.7,17C43.2,17.7 43.8,17.98 43.8,18.5C43.8,19.02 43.2,19.58 42.7,20.1C42.2,20.62 41.5,21.25 40.8,21.6C40.1,21.95 39.22,22.2 38.5,22.2C37.78,22.2 37.15,21.83 36.5,21.6C35.85,21.37 35.05,20.8 34.6,20.8C34.15,20.8 34.05,21.2 33.8,21.6C33.55,22 33.15,22.68 33.1,23.2C33.05,23.72 33.77,24.37 33.5,24.7C33.23,25.03 32.33,25.13 31.5,25.2C30.67,25.27 29.33,25.1 28.5,25.1C27.67,25.1 27.28,25.33 26.5,25.2C25.72,25.07 24.75,24.97 23.8,24.3C22.85,23.63 21.82,21.83 20.8,21.2C19.78,20.57 18.6,20.57 17.7,20.5C16.8,20.43 16.1,20.87 15.4,20.8C14.7,20.73 13.7,20.48 13.5,20.1Z" fill="#fff" stroke="#111" stroke-width="1.3" stroke-linejoin="round"/>
<path d="M21.5,10.8C21.12,11.25 19.65,12.4 19.2,13.5C18.75,14.6 18.53,16.18 18.8,17.4C19.07,18.62 19.97,19.65 20.8,20.8C21.63,21.95 23.3,23.72 23.8,24.3" fill="none" stroke="#111" stroke-width="1.3"/>
<path d="M28.8,20.4C29.03,20.8 29.68,22.1 30.2,22.8C30.72,23.5 31.62,24.3 31.9,24.6" fill="none" stroke="#111" stroke-width="1.3"/>
<path d="M25.8,12.8C25.92,13.25 26.05,14.6 26.5,15.5C26.95,16.4 27.72,17.43 28.5,18.2C29.28,18.97 30.18,19.62 31.2,20.1C32.22,20.58 34.03,20.93 34.6,21.1" fill="none" stroke="#111" stroke-width="1.3"/>
<ellipse cx="27.3" cy="10.1" rx="3.2" ry="3.5" transform="rotate(-20 27.3 10.1)" fill="#fff" stroke="#111" stroke-width="1.3"/>
<path d="M26.5,12.6C26.45,12.23 25.93,11.02 26.2,10.4C26.47,9.78 27.53,9.02 28.1,8.9C28.67,8.78 29.35,9.57 29.6,9.7" fill="none" stroke="#111" stroke-width="1.17"/>
<ellipse cx="36.2" cy="16" rx="1.1" ry="0.72" fill="#000"/>
<ellipse cx="36.9" cy="20.6" rx="2.4" ry="0.85" fill="#333"/>
<line x1="43.3" y1="17.9" x2="45.8" y2="15.1" stroke="#111" stroke-width="1.11"/>
<line x1="43.5" y1="18" x2="46.5" y2="17" stroke="#111" stroke-width="1.11"/>
<line x1="43.5" y1="18.3" x2="46.8" y2="18.7" stroke="#111" stroke-width="1.11"/>
<line x1="43.2" y1="17.8" x2="44.6" y2="14.7" stroke="#111" stroke-width="1.11"/>
<ellipse cx="43.5" cy="18.2" rx="0.8" ry="0.7" fill="#000"/>
<ellipse cx="26.4" cy="25.3" rx="1.8" ry="0.85" fill="#111"/>
<ellipse cx="32.3" cy="25.3" rx="1.8" ry="0.85" fill="#111"/>
<ellipse cx="14.4" cy="20.5" rx="1.6" ry="0.85" fill="#111"/>
</g>
<line x1="73.2" y1="455.7" x2="83.3" y2="455.7" stroke="#000" stroke-width="1"/>
<polygon points="87.6,455.7 82.8,453.5 82.8,457.9" fill="#000"/>
<circle cx="93.7" cy="455.7" r="2.5" fill="#fff" stroke="#8e1026" stroke-width="1.8"/>
<circle cx="93.7" cy="455.7" r="1.15" fill="none" stroke="#c4c4c4" stroke-width="0.4"/>
<circle cx="97.2" cy="455.7" r="2.5" fill="#fff" stroke="#1f3c7c" stroke-width="1.8"/>
<circle cx="97.2" cy="455.7" r="1.15" fill="none" stroke="#c4c4c4" stroke-width="0.4"/>
<circle cx="100.7" cy="455.7" r="2.5" fill="#fff" stroke="#4f9a2e" stroke-width="1.8"/>
<circle cx="100.7" cy="455.7" r="1.15" fill="none" stroke="#c4c4c4" stroke-width="0.4"/>
<circle cx="104.2" cy="455.7" r="2.5" fill="#fff" stroke="#e28e16" stroke-width="1.8"/>
<circle cx="104.2" cy="455.7" r="1.15" fill="none" stroke="#c4c4c4" stroke-width="0.4"/>
<circle cx="107.7" cy="455.7" r="2.5" fill="#fff" stroke="#4a1f6e" stroke-width="1.8"/>
<circle cx="107.7" cy="455.7" r="1.15" fill="none" stroke="#c4c4c4" stroke-width="0.4"/>
<circle cx="111.2" cy="455.7" r="2.5" fill="#fff" stroke="#4f9ad6" stroke-width="1.8"/>
<circle cx="111.2" cy="455.7" r="1.15" fill="none" stroke="#c4c4c4" stroke-width="0.4"/>
<line x1="118.5" y1="455.7" x2="129.1" y2="455.7" stroke="#000" stroke-width="1"/>
<polygon points="133.4,455.7 128.6,453.5 128.6,457.9" fill="#000"/>
<path d="M138.9,453.3 L138.9,457.1 A10.6,3 0 0 0 160.1,457.1 L160.1,453.3" fill="#fff" stroke="#111" stroke-width="0.65"/>
<ellipse cx="149.5" cy="453.3" rx="10.6" ry="3" fill="#fff" stroke="#111" stroke-width="0.65"/>
<path d="M139.35,456.2 L139.35,457.1 A10.15,2.6 0 0 0 159.65,457.1 L159.65,456.2 Z" fill="#cf6b63"/>
<ellipse cx="149.5" cy="456.5" rx="10.15" ry="2.4" fill="#cf6b63" stroke="#6e2a28" stroke-width="0.5"/>
<path d="M138.9,453.3 L138.9,457.1 A10.6,3 0 0 0 160.1,457.1 L160.1,453.3" fill="none" stroke="#111" stroke-width="0.65"/>
<path d="M160.8,453.3 L160.8,457.1 A10.6,3 0 0 0 182,457.1 L182,453.3" fill="#fff" stroke="#111" stroke-width="0.65"/>
<ellipse cx="171.4" cy="453.3" rx="10.6" ry="3" fill="#fff" stroke="#111" stroke-width="0.65"/>
<path d="M161.25,456.2 L161.25,457.1 A10.15,2.6 0 0 0 181.55,457.1 L181.55,456.2 Z" fill="#cf6b63"/>
<ellipse cx="171.4" cy="456.5" rx="10.15" ry="2.4" fill="#cf6b63" stroke="#6e2a28" stroke-width="0.5"/>
<path d="M160.8,453.3 L160.8,457.1 A10.6,3 0 0 0 182,457.1 L182,453.3" fill="none" stroke="#111" stroke-width="0.65"/>
<path d="M183,453.3 L183,457.1 A11.2,3 0 0 0 205.4,457.1 L205.4,453.3" fill="#fff" stroke="#111" stroke-width="0.65"/>
<ellipse cx="194.2" cy="453.3" rx="11.2" ry="3" fill="#fff" stroke="#111" stroke-width="0.65"/>
<path d="M183.45,456.2 L183.45,457.1 A10.75,2.6 0 0 0 204.95,457.1 L204.95,456.2 Z" fill="#cf6b63"/>
<ellipse cx="194.2" cy="456.5" rx="10.75" ry="2.4" fill="#cf6b63" stroke="#6e2a28" stroke-width="0.5"/>
<path d="M183,453.3 L183,457.1 A11.2,3 0 0 0 205.4,457.1 L205.4,453.3" fill="none" stroke="#111" stroke-width="0.65"/>
<text x="92.9" y="467.65" font-size="4.58" fill="#111">2000 Cells/</text>
<text x="93.4" y="473.26" font-size="4.61" fill="#111">Population</text>
<text x="149.7" y="467.82" font-size="4.5" fill="#111" text-anchor="middle">6 h</text>
<text x="172" y="467.82" font-size="4.5" fill="#111" text-anchor="middle">16 h</text>
<text x="193.8" y="467.82" font-size="4.5" fill="#111" text-anchor="middle">24 h</text>
<rect x="211" y="440.4" width="8.1" height="6.1" fill="#6ab344" stroke="#222" stroke-width="0.6"/>
<text x="222.2" y="445.1" font-size="4.5" fill="#111">MPP2</text>
<rect x="211" y="452.5" width="8.1" height="6.1" fill="#2c4f8c" stroke="#222" stroke-width="0.6"/>
<text x="222.2" y="457.2" font-size="4.5" fill="#111">MPP1</text>
<rect x="211" y="464.4" width="8.1" height="6.1" fill="#b00d2f" stroke="#222" stroke-width="0.6"/>
<text x="222.2" y="469.1" font-size="4.5" fill="#111">HSC</text>
<rect x="241.4" y="440.4" width="8.1" height="6.1" fill="#6cb5eb" stroke="#222" stroke-width="0.6"/>
<text x="252.6" y="445.1" font-size="4.5" fill="#111">MPP5</text>
<rect x="241.4" y="452.5" width="8.1" height="6.1" fill="#512374" stroke="#222" stroke-width="0.6"/>
<text x="252.6" y="457.2" font-size="4.5" fill="#111">MPP4</text>
<rect x="241.4" y="464.4" width="8.1" height="6.1" fill="#ee9a1c" stroke="#222" stroke-width="0.6"/>
<text x="252.6" y="469.1" font-size="4.5" fill="#111">MPP3</text>
<text x="58.7" y="487.93" font-size="4.54" fill="#111">6 h Analysis</text>
<text x="117" y="487.92" font-size="4.5" fill="#111" textLength="26.4" lengthAdjust="spacing">16 h Analysis</text>
<text x="173.8" y="487.95" font-size="4.58" fill="#111">24 h Analysis</text>
<text x="231.2" y="487.94" font-size="4.55" fill="#111">48 h Analysis</text>
<rect x="46.9" y="559.6" width="5.7" height="2.2" fill="#b00d2f" stroke="#0c0c0c" stroke-width="0.7"/>
<rect x="46.9" y="538.7" width="5.7" height="20.9" fill="#2c4f8c" stroke="#0c0c0c" stroke-width="0.7"/>
<line x1="46.55" y1="538.7" x2="52.95" y2="538.7" stroke="#0c0c0c" stroke-width="1.1"/>
<line x1="49.75" y1="538.7" x2="49.75" y2="532.1" stroke="#111" stroke-width="0.6"/>
<line x1="48.05" y1="532.1" x2="51.45" y2="532.1" stroke="#111" stroke-width="0.6"/>
<line x1="49.75" y1="559.6" x2="49.75" y2="555.2" stroke="#111" stroke-width="0.6"/>
<line x1="48.05" y1="555.2" x2="51.45" y2="555.2" stroke="#111" stroke-width="0.6"/>
<rect x="55.55" y="547.5" width="5.7" height="14.3" fill="#2c4f8c" stroke="#0c0c0c" stroke-width="0.7"/>
<rect x="55.55" y="544.75" width="5.7" height="2.75" fill="#6ab344" stroke="#0c0c0c" stroke-width="0.7"/>
<rect x="55.55" y="543.92" width="5.7" height="0.83" fill="#15233f" stroke="#0c0c0c" stroke-width="0.7"/>
<rect x="55.55" y="542" width="5.7" height="1.92" fill="#6cb5eb" stroke="#0c0c0c" stroke-width="0.7"/>
<line x1="55.2" y1="542" x2="61.6" y2="542" stroke="#0c0c0c" stroke-width="1.1"/>
<line x1="58.4" y1="542" x2="58.4" y2="540.35" stroke="#111" stroke-width="0.6"/>
<line x1="56.7" y1="540.35" x2="60.1" y2="540.35" stroke="#111" stroke-width="0.6"/>
<line x1="58.4" y1="547.5" x2="58.4" y2="544.2" stroke="#111" stroke-width="0.6"/>
<line x1="56.7" y1="544.2" x2="60.1" y2="544.2" stroke="#111" stroke-width="0.6"/>
<rect x="64.2" y="551.9" width="5.7" height="9.9" fill="#6ab344" stroke="#0c0c0c" stroke-width="0.7"/>
<rect x="64.2" y="549.7" width="5.7" height="2.2" fill="#ee9a1c" stroke="#0c0c0c" stroke-width="0.7"/>
<rect x="64.2" y="548.05" width="5.7" height="1.65" fill="#15233f" stroke="#0c0c0c" stroke-width="0.7"/>
<line x1="63.85" y1="548.05" x2="70.25" y2="548.05" stroke="#0c0c0c" stroke-width="1.1"/>
<line x1="67.05" y1="548.05" x2="67.05" y2="545.3" stroke="#111" stroke-width="0.6"/>
<line x1="65.35" y1="545.3" x2="68.75" y2="545.3" stroke="#111" stroke-width="0.6"/>
<line x1="67.05" y1="551.9" x2="67.05" y2="550.25" stroke="#111" stroke-width="0.6"/>
<line x1="65.35" y1="550.25" x2="68.75" y2="550.25" stroke="#111" stroke-width="0.6"/>
<rect x="72.85" y="549.7" width="5.7" height="12.1" fill="#ee9a1c" stroke="#0c0c0c" stroke-width="0.7"/>
<rect x="72.85" y="543.65" width="5.7" height="6.05" fill="#512374" stroke="#0c0c0c" stroke-width="0.7"/>
<line x1="72.5" y1="543.65" x2="78.9" y2="543.65" stroke="#0c0c0c" stroke-width="1.1"/>
<line x1="75.7" y1="543.65" x2="75.7" y2="539.25" stroke="#111" stroke-width="0.6"/>
<line x1="74" y1="539.25" x2="77.4" y2="539.25" stroke="#111" stroke-width="0.6"/>
<line x1="75.7" y1="549.7" x2="75.7" y2="546.95" stroke="#111" stroke-width="0.6"/>
<line x1="74" y1="546.95" x2="77.4" y2="546.95" stroke="#111" stroke-width="0.6"/>
<rect x="81.5" y="550.25" width="5.7" height="11.55" fill="#ee9a1c" stroke="#0c0c0c" stroke-width="0.7"/>
<rect x="81.5" y="542" width="5.7" height="8.25" fill="#512374" stroke="#0c0c0c" stroke-width="0.7"/>
<line x1="81.15" y1="542" x2="87.55" y2="542" stroke="#0c0c0c" stroke-width="1.1"/>
<line x1="84.35" y1="542" x2="84.35" y2="537.05" stroke="#111" stroke-width="0.6"/>
<line x1="82.65" y1="537.05" x2="86.05" y2="537.05" stroke="#111" stroke-width="0.6"/>
<line x1="84.35" y1="550.25" x2="84.35" y2="546.95" stroke="#111" stroke-width="0.6"/>
<line x1="82.65" y1="546.95" x2="86.05" y2="546.95" stroke="#111" stroke-width="0.6"/>
<rect x="90.15" y="561.25" width="5.7" height="0.55" fill="#b00d2f" stroke="#0c0c0c" stroke-width="0.7"/>
<rect x="90.15" y="559.05" width="5.7" height="2.2" fill="#6ab344" stroke="#0c0c0c" stroke-width="0.7"/>
<rect x="90.15" y="555.2" width="5.7" height="3.85" fill="#ee9a1c" stroke="#0c0c0c" stroke-width="0.7"/>
<rect x="90.15" y="552.45" width="5.7" height="2.75" fill="#512374" stroke="#0c0c0c" stroke-width="0.7"/>
<rect x="90.15" y="542" width="5.7" height="10.45" fill="#6cb5eb" stroke="#0c0c0c" stroke-width="0.7"/>
<line x1="89.8" y1="542" x2="96.2" y2="542" stroke="#0c0c0c" stroke-width="1.1"/>
<line x1="93" y1="542" x2="93" y2="536.5" stroke="#111" stroke-width="0.6"/>
<line x1="91.3" y1="536.5" x2="94.7" y2="536.5" stroke="#111" stroke-width="0.6"/>
<line x1="93" y1="555.2" x2="93" y2="553" stroke="#111" stroke-width="0.6"/>
<line x1="91.3" y1="553" x2="94.7" y2="553" stroke="#111" stroke-width="0.6"/>
<line x1="93" y1="559.05" x2="93" y2="557.4" stroke="#111" stroke-width="0.6"/>
<line x1="91.3" y1="557.4" x2="94.7" y2="557.4" stroke="#111" stroke-width="0.6"/>
<line x1="43.95" y1="561.8" x2="98.8" y2="561.8" stroke="#1a1a1a" stroke-width="1.7"/>
<line x1="49.75" y1="561.8" x2="49.75" y2="564.8" stroke="#000" stroke-width="0.9"/>
<text x="51.95" y="571.1" font-size="4.5" fill="#111" text-anchor="end" transform="rotate(-45 51.95 571.1)">HSC</text>
<line x1="58.4" y1="561.8" x2="58.4" y2="564.8" stroke="#000" stroke-width="0.9"/>
<text x="60.6" y="571.1" font-size="4.5" fill="#111" text-anchor="end" transform="rotate(-45 60.6 571.1)">MPP1</text>
<line x1="67.05" y1="561.8" x2="67.05" y2="564.8" stroke="#000" stroke-width="0.9"/>
<text x="69.25" y="571.1" font-size="4.5" fill="#111" text-anchor="end" transform="rotate(-45 69.25 571.1)">MPP2</text>
<line x1="75.7" y1="561.8" x2="75.7" y2="564.8" stroke="#000" stroke-width="0.9"/>
<text x="77.9" y="571.1" font-size="4.5" fill="#111" text-anchor="end" transform="rotate(-45 77.9 571.1)">MPP3</text>
<line x1="84.35" y1="561.8" x2="84.35" y2="564.8" stroke="#000" stroke-width="0.9"/>
<text x="86.55" y="571.1" font-size="4.5" fill="#111" text-anchor="end" transform="rotate(-45 86.55 571.1)">MPP4</text>
<line x1="93" y1="561.8" x2="93" y2="564.8" stroke="#000" stroke-width="0.9"/>
<text x="95.2" y="571.1" font-size="4.5" fill="#111" text-anchor="end" transform="rotate(-45 95.2 571.1)">MPP5</text>
<rect x="104.9" y="555.2" width="5.7" height="6.6" fill="#b00d2f" stroke="#0c0c0c" stroke-width="0.7"/>
<rect x="104.9" y="537.05" width="5.7" height="18.15" fill="#2c4f8c" stroke="#0c0c0c" stroke-width="0.7"/>
<line x1="104.55" y1="537.05" x2="110.95" y2="537.05" stroke="#0c0c0c" stroke-width="1.1"/>
<line x1="107.75" y1="537.05" x2="107.75" y2="524.95" stroke="#111" stroke-width="0.6"/>
<line x1="106.05" y1="524.95" x2="109.45" y2="524.95" stroke="#111" stroke-width="0.6"/>
<line x1="107.75" y1="555.2" x2="107.75" y2="543.65" stroke="#111" stroke-width="0.6"/>
<line x1="106.05" y1="543.65" x2="109.45" y2="543.65" stroke="#111" stroke-width="0.6"/>
<rect x="113.55" y="559.6" width="5.7" height="2.2" fill="#b00d2f" stroke="#0c0c0c" stroke-width="0.7"/>
<rect x="113.55" y="544.75" width="5.7" height="14.85" fill="#2c4f8c" stroke="#0c0c0c" stroke-width="0.7"/>
<rect x="113.55" y="541.45" width="5.7" height="3.3" fill="#6ab344" stroke="#0c0c0c" stroke-width="0.7"/>
<rect x="113.55" y="539.8" width="5.7" height="1.65" fill="#15233f" stroke="#0c0c0c" stroke-width="0.7"/>
<line x1="113.2" y1="539.8" x2="119.6" y2="539.8" stroke="#0c0c0c" stroke-width="1.1"/>
<line x1="116.4" y1="539.8" x2="116.4" y2="538.7" stroke="#111" stroke-width="0.6"/>
<line x1="114.7" y1="538.7" x2="118.1" y2="538.7" stroke="#111" stroke-width="0.6"/>
<line x1="116.4" y1="559.6" x2="116.4" y2="555.2" stroke="#111" stroke-width="0.6"/>
<line x1="114.7" y1="555.2" x2="118.1" y2="555.2" stroke="#111" stroke-width="0.6"/>
<rect x="122.2" y="554.1" width="5.7" height="7.7" fill="#6ab344" stroke="#0c0c0c" stroke-width="0.7"/>
<rect x="122.2" y="551.35" width="5.7" height="2.75" fill="#ee9a1c" stroke="#0c0c0c" stroke-width="0.7"/>
<rect x="122.2" y="549.7" width="5.7" height="1.65" fill="#15233f" stroke="#0c0c0c" stroke-width="0.7"/>
<line x1="121.85" y1="549.7" x2="128.25" y2="549.7" stroke="#0c0c0c" stroke-width="1.1"/>
<line x1="125.05" y1="549.7" x2="125.05" y2="548.88" stroke="#111" stroke-width="0.6"/>
<line x1="123.35" y1="548.88" x2="126.75" y2="548.88" stroke="#111" stroke-width="0.6"/>
<line x1="125.05" y1="554.1" x2="125.05" y2="552.45" stroke="#111" stroke-width="0.6"/>
<line x1="123.35" y1="552.45" x2="126.75" y2="552.45" stroke="#111" stroke-width="0.6"/>
<rect x="130.85" y="548.6" width="5.7" height="13.2" fill="#ee9a1c" stroke="#0c0c0c" stroke-width="0.7"/>
<rect x="130.85" y="545.85" width="5.7" height="2.75" fill="#512374" stroke="#0c0c0c" stroke-width="0.7"/>
<line x1="130.5" y1="545.85" x2="136.9" y2="545.85" stroke="#0c0c0c" stroke-width="1.1"/>
<line x1="133.7" y1="545.85" x2="133.7" y2="543.1" stroke="#111" stroke-width="0.6"/>
<line x1="132" y1="543.1" x2="135.4" y2="543.1" stroke="#111" stroke-width="0.6"/>
<line x1="133.7" y1="548.6" x2="133.7" y2="546.95" stroke="#111" stroke-width="0.6"/>
<line x1="132" y1="546.95" x2="135.4" y2="546.95" stroke="#111" stroke-width="0.6"/>
<rect x="139.5" y="550.25" width="5.7" height="11.55" fill="#ee9a1c" stroke="#0c0c0c" stroke-width="0.7"/>
<rect x="139.5" y="542.55" width="5.7" height="7.7" fill="#512374" stroke="#0c0c0c" stroke-width="0.7"/>
<line x1="139.15" y1="542.55" x2="145.55" y2="542.55" stroke="#0c0c0c" stroke-width="1.1"/>
<line x1="142.35" y1="542.55" x2="142.35" y2="537.05" stroke="#111" stroke-width="0.6"/>
<line x1="140.65" y1="537.05" x2="144.05" y2="537.05" stroke="#111" stroke-width="0.6"/>
<line x1="142.35" y1="550.25" x2="142.35" y2="547.5" stroke="#111" stroke-width="0.6"/>
<line x1="140.65" y1="547.5" x2="144.05" y2="547.5" stroke="#111" stroke-width="0.6"/>
<rect x="148.15" y="560.15" width="5.7" height="1.65" fill="#2c4f8c" stroke="#0c0c0c" stroke-width="0.7"/>
<rect x="148.15" y="557.95" width="5.7" height="2.2" fill="#6ab344" stroke="#0c0c0c" stroke-width="0.7"/>
<rect x="148.15" y="550.8" width="5.7" height="7.15" fill="#ee9a1c" stroke="#0c0c0c" stroke-width="0.7"/>
<rect x="148.15" y="548.6" width="5.7" height="2.2" fill="#512374" stroke="#0c0c0c" stroke-width="0.7"/>
<rect x="148.15" y="540.35" width="5.7" height="8.25" fill="#6cb5eb" stroke="#0c0c0c" stroke-width="0.7"/>
<line x1="147.8" y1="540.35" x2="154.2" y2="540.35" stroke="#0c0c0c" stroke-width="1.1"/>
<line x1="151" y1="540.35" x2="151" y2="537.05" stroke="#111" stroke-width="0.6"/>
<line x1="149.3" y1="537.05" x2="152.7" y2="537.05" stroke="#111" stroke-width="0.6"/>
<line x1="151" y1="550.8" x2="151" y2="548.05" stroke="#111" stroke-width="0.6"/>
<line x1="149.3" y1="548.05" x2="152.7" y2="548.05" stroke="#111" stroke-width="0.6"/>
<line x1="151" y1="557.95" x2="151" y2="555.2" stroke="#111" stroke-width="0.6"/>
<line x1="149.3" y1="555.2" x2="152.7" y2="555.2" stroke="#111" stroke-width="0.6"/>
<line x1="104.2" y1="561.8" x2="155" y2="561.8" stroke="#1a1a1a" stroke-width="1.7"/>
<line x1="107.75" y1="561.8" x2="107.75" y2="564.8" stroke="#000" stroke-width="0.9"/>
<text x="109.95" y="571.1" font-size="4.5" fill="#111" text-anchor="end" transform="rotate(-45 109.95 571.1)">HSC</text>
<line x1="116.4" y1="561.8" x2="116.4" y2="564.8" stroke="#000" stroke-width="0.9"/>
<text x="118.6" y="571.1" font-size="4.5" fill="#111" text-anchor="end" transform="rotate(-45 118.6 571.1)">MPP1</text>
<line x1="125.05" y1="561.8" x2="125.05" y2="564.8" stroke="#000" stroke-width="0.9"/>
<text x="127.25" y="571.1" font-size="4.5" fill="#111" text-anchor="end" transform="rotate(-45 127.25 571.1)">MPP2</text>
<line x1="133.7" y1="561.8" x2="133.7" y2="564.8" stroke="#000" stroke-width="0.9"/>
<text x="135.9" y="571.1" font-size="4.5" fill="#111" text-anchor="end" transform="rotate(-45 135.9 571.1)">MPP3</text>
<line x1="142.35" y1="561.8" x2="142.35" y2="564.8" stroke="#000" stroke-width="0.9"/>
<text x="144.55" y="571.1" font-size="4.5" fill="#111" text-anchor="end" transform="rotate(-45 144.55 571.1)">MPP4</text>
<line x1="151" y1="561.8" x2="151" y2="564.8" stroke="#000" stroke-width="0.9"/>
<text x="153.2" y="571.1" font-size="4.5" fill="#111" text-anchor="end" transform="rotate(-45 153.2 571.1)">MPP5</text>
<rect x="163.15" y="556.85" width="5.7" height="4.95" fill="#b00d2f" stroke="#0c0c0c" stroke-width="0.7"/>
<rect x="163.15" y="539.25" width="5.7" height="17.6" fill="#2c4f8c" stroke="#0c0c0c" stroke-width="0.7"/>
<line x1="162.8" y1="539.25" x2="169.2" y2="539.25" stroke="#0c0c0c" stroke-width="1.1"/>
<line x1="166" y1="539.25" x2="166" y2="532.65" stroke="#111" stroke-width="0.6"/>
<line x1="164.3" y1="532.65" x2="167.7" y2="532.65" stroke="#111" stroke-width="0.6"/>
<line x1="166" y1="556.85" x2="166" y2="551.9" stroke="#111" stroke-width="0.6"/>
<line x1="164.3" y1="551.9" x2="167.7" y2="551.9" stroke="#111" stroke-width="0.6"/>
<rect x="171.8" y="545.3" width="5.7" height="16.5" fill="#2c4f8c" stroke="#0c0c0c" stroke-width="0.7"/>
<rect x="171.8" y="542.55" width="5.7" height="2.75" fill="#6ab344" stroke="#0c0c0c" stroke-width="0.7"/>
<line x1="171.45" y1="542.55" x2="177.85" y2="542.55" stroke="#0c0c0c" stroke-width="1.1"/>
<line x1="174.65" y1="542.55" x2="174.65" y2="538.15" stroke="#111" stroke-width="0.6"/>
<line x1="172.95" y1="538.15" x2="176.35" y2="538.15" stroke="#111" stroke-width="0.6"/>
<line x1="174.65" y1="545.3" x2="174.65" y2="543.1" stroke="#111" stroke-width="0.6"/>
<line x1="172.95" y1="543.1" x2="176.35" y2="543.1" stroke="#111" stroke-width="0.6"/>
<rect x="180.45" y="549.7" width="5.7" height="12.1" fill="#6ab344" stroke="#0c0c0c" stroke-width="0.7"/>
<rect x="180.45" y="548.05" width="5.7" height="1.65" fill="#15233f" stroke="#0c0c0c" stroke-width="0.7"/>
<line x1="180.1" y1="548.05" x2="186.5" y2="548.05" stroke="#0c0c0c" stroke-width="1.1"/>
<line x1="183.3" y1="548.05" x2="183.3" y2="546.4" stroke="#111" stroke-width="0.6"/>
<line x1="181.6" y1="546.4" x2="185" y2="546.4" stroke="#111" stroke-width="0.6"/>
<rect x="189.1" y="560.15" width="5.7" height="1.65" fill="#6ab344" stroke="#0c0c0c" stroke-width="0.7"/>
<rect x="189.1" y="549.15" width="5.7" height="11" fill="#ee9a1c" stroke="#0c0c0c" stroke-width="0.7"/>
<rect x="189.1" y="541.45" width="5.7" height="7.7" fill="#512374" stroke="#0c0c0c" stroke-width="0.7"/>
<line x1="188.75" y1="541.45" x2="195.15" y2="541.45" stroke="#0c0c0c" stroke-width="1.1"/>
<line x1="191.95" y1="541.45" x2="191.95" y2="536.5" stroke="#111" stroke-width="0.6"/>
<line x1="190.25" y1="536.5" x2="193.65" y2="536.5" stroke="#111" stroke-width="0.6"/>
<line x1="191.95" y1="549.15" x2="191.95" y2="546.4" stroke="#111" stroke-width="0.6"/>
<line x1="190.25" y1="546.4" x2="193.65" y2="546.4" stroke="#111" stroke-width="0.6"/>
<line x1="191.95" y1="560.15" x2="191.95" y2="558.5" stroke="#111" stroke-width="0.6"/>
<line x1="190.25" y1="558.5" x2="193.65" y2="558.5" stroke="#111" stroke-width="0.6"/>
<rect x="197.75" y="554.65" width="5.7" height="7.15" fill="#ee9a1c" stroke="#0c0c0c" stroke-width="0.7"/>
<rect x="197.75" y="536.5" width="5.7" height="18.15" fill="#512374" stroke="#0c0c0c" stroke-width="0.7"/>
<line x1="197.4" y1="536.5" x2="203.8" y2="536.5" stroke="#0c0c0c" stroke-width="1.1"/>
<line x1="200.6" y1="536.5" x2="200.6" y2="528.8" stroke="#111" stroke-width="0.6"/>
<line x1="198.9" y1="528.8" x2="202.3" y2="528.8" stroke="#111" stroke-width="0.6"/>
<line x1="200.6" y1="554.65" x2="200.6" y2="550.8" stroke="#111" stroke-width="0.6"/>
<line x1="198.9" y1="550.8" x2="202.3" y2="550.8" stroke="#111" stroke-width="0.6"/>
<rect x="206.4" y="557.4" width="5.7" height="4.4" fill="#2c4f8c" stroke="#0c0c0c" stroke-width="0.7"/>
<rect x="206.4" y="555.75" width="5.7" height="1.65" fill="#6ab344" stroke="#0c0c0c" stroke-width="0.7"/>
<rect x="206.4" y="551.35" width="5.7" height="4.4" fill="#ee9a1c" stroke="#0c0c0c" stroke-width="0.7"/>
<rect x="206.4" y="548.6" width="5.7" height="2.75" fill="#512374" stroke="#0c0c0c" stroke-width="0.7"/>
<rect x="206.4" y="535.95" width="5.7" height="12.65" fill="#6cb5eb" stroke="#0c0c0c" stroke-width="0.7"/>
<line x1="206.05" y1="535.95" x2="212.45" y2="535.95" stroke="#0c0c0c" stroke-width="1.1"/>
<line x1="209.25" y1="535.95" x2="209.25" y2="530.45" stroke="#111" stroke-width="0.6"/>
<line x1="207.55" y1="530.45" x2="210.95" y2="530.45" stroke="#111" stroke-width="0.6"/>
<line x1="209.25" y1="551.35" x2="209.25" y2="547.5" stroke="#111" stroke-width="0.6"/>
<line x1="207.55" y1="547.5" x2="210.95" y2="547.5" stroke="#111" stroke-width="0.6"/>
<line x1="209.25" y1="555.75" x2="209.25" y2="553.55" stroke="#111" stroke-width="0.6"/>
<line x1="207.55" y1="553.55" x2="210.95" y2="553.55" stroke="#111" stroke-width="0.6"/>
<line x1="159.2" y1="561.8" x2="213.8" y2="561.8" stroke="#1a1a1a" stroke-width="1.7"/>
<line x1="166" y1="561.8" x2="166" y2="564.8" stroke="#000" stroke-width="0.9"/>
<text x="168.2" y="571.1" font-size="4.5" fill="#111" text-anchor="end" transform="rotate(-45 168.2 571.1)">HSC</text>
<line x1="174.65" y1="561.8" x2="174.65" y2="564.8" stroke="#000" stroke-width="0.9"/>
<text x="176.85" y="571.1" font-size="4.5" fill="#111" text-anchor="end" transform="rotate(-45 176.85 571.1)">MPP1</text>
<line x1="183.3" y1="561.8" x2="183.3" y2="564.8" stroke="#000" stroke-width="0.9"/>
<text x="185.5" y="571.1" font-size="4.5" fill="#111" text-anchor="end" transform="rotate(-45 185.5 571.1)">MPP2</text>
<line x1="191.95" y1="561.8" x2="191.95" y2="564.8" stroke="#000" stroke-width="0.9"/>
<text x="194.15" y="571.1" font-size="4.5" fill="#111" text-anchor="end" transform="rotate(-45 194.15 571.1)">MPP3</text>
<line x1="200.6" y1="561.8" x2="200.6" y2="564.8" stroke="#000" stroke-width="0.9"/>
<text x="202.8" y="571.1" font-size="4.5" fill="#111" text-anchor="end" transform="rotate(-45 202.8 571.1)">MPP4</text>
<line x1="209.25" y1="561.8" x2="209.25" y2="564.8" stroke="#000" stroke-width="0.9"/>
<text x="211.45" y="571.1" font-size="4.5" fill="#111" text-anchor="end" transform="rotate(-45 211.45 571.1)">MPP5</text>
<rect x="220.65" y="551.9" width="5.7" height="9.9" fill="#2c4f8c" stroke="#0c0c0c" stroke-width="0.7"/>
<rect x="220.65" y="551.07" width="5.7" height="0.83" fill="#15233f" stroke="#0c0c0c" stroke-width="0.7"/>
<line x1="220.3" y1="551.07" x2="226.7" y2="551.07" stroke="#0c0c0c" stroke-width="1.1"/>
<line x1="223.5" y1="551.35" x2="223.5" y2="544.2" stroke="#111" stroke-width="0.6"/>
<line x1="221.8" y1="544.2" x2="225.2" y2="544.2" stroke="#111" stroke-width="0.6"/>
<rect x="229.3" y="552.45" width="5.7" height="9.35" fill="#2c4f8c" stroke="#0c0c0c" stroke-width="0.7"/>
<rect x="229.3" y="545.3" width="5.7" height="7.15" fill="#6ab344" stroke="#0c0c0c" stroke-width="0.7"/>
<rect x="229.3" y="543.65" width="5.7" height="1.65" fill="#15233f" stroke="#0c0c0c" stroke-width="0.7"/>
<line x1="228.95" y1="543.65" x2="235.35" y2="543.65" stroke="#0c0c0c" stroke-width="1.1"/>
<line x1="232.15" y1="543.65" x2="232.15" y2="543.1" stroke="#111" stroke-width="0.6"/>
<line x1="230.45" y1="543.1" x2="233.85" y2="543.1" stroke="#111" stroke-width="0.6"/>
<rect x="237.95" y="554.1" width="5.7" height="7.7" fill="#6ab344" stroke="#0c0c0c" stroke-width="0.7"/>
<rect x="237.95" y="548.05" width="5.7" height="6.05" fill="#ee9a1c" stroke="#0c0c0c" stroke-width="0.7"/>
<rect x="237.95" y="544.2" width="5.7" height="3.85" fill="#512374" stroke="#0c0c0c" stroke-width="0.7"/>
<line x1="237.6" y1="544.2" x2="244" y2="544.2" stroke="#0c0c0c" stroke-width="1.1"/>
<line x1="240.8" y1="544.2" x2="240.8" y2="538.7" stroke="#111" stroke-width="0.6"/>
<line x1="239.1" y1="538.7" x2="242.5" y2="538.7" stroke="#111" stroke-width="0.6"/>
<line x1="240.8" y1="548.05" x2="240.8" y2="545.85" stroke="#111" stroke-width="0.6"/>
<line x1="239.1" y1="545.85" x2="242.5" y2="545.85" stroke="#111" stroke-width="0.6"/>
<line x1="240.8" y1="554.1" x2="240.8" y2="550.8" stroke="#111" stroke-width="0.6"/>
<line x1="239.1" y1="550.8" x2="242.5" y2="550.8" stroke="#111" stroke-width="0.6"/>
<rect x="246.6" y="556.85" width="5.7" height="4.95" fill="#6ab344" stroke="#0c0c0c" stroke-width="0.7"/>
<rect x="246.6" y="549.7" width="5.7" height="7.15" fill="#ee9a1c" stroke="#0c0c0c" stroke-width="0.7"/>
<rect x="246.6" y="545.3" width="5.7" height="4.4" fill="#512374" stroke="#0c0c0c" stroke-width="0.7"/>
<line x1="246.25" y1="545.3" x2="252.65" y2="545.3" stroke="#0c0c0c" stroke-width="1.1"/>
<line x1="249.45" y1="545.3" x2="249.45" y2="541.45" stroke="#111" stroke-width="0.6"/>
<line x1="247.75" y1="541.45" x2="251.15" y2="541.45" stroke="#111" stroke-width="0.6"/>
<line x1="249.45" y1="549.7" x2="249.45" y2="547.5" stroke="#111" stroke-width="0.6"/>
<line x1="247.75" y1="547.5" x2="251.15" y2="547.5" stroke="#111" stroke-width="0.6"/>
<line x1="249.45" y1="556.85" x2="249.45" y2="554.65" stroke="#111" stroke-width="0.6"/>
<line x1="247.75" y1="554.65" x2="251.15" y2="554.65" stroke="#111" stroke-width="0.6"/>
<rect x="255.25" y="560.15" width="5.7" height="1.65" fill="#6ab344" stroke="#0c0c0c" stroke-width="0.7"/>
<rect x="255.25" y="549.15" width="5.7" height="11" fill="#ee9a1c" stroke="#0c0c0c" stroke-width="0.7"/>
<rect x="255.25" y="539.25" width="5.7" height="9.9" fill="#512374" stroke="#0c0c0c" stroke-width="0.7"/>
<line x1="254.9" y1="539.25" x2="261.3" y2="539.25" stroke="#0c0c0c" stroke-width="1.1"/>
<line x1="258.1" y1="539.25" x2="258.1" y2="534.3" stroke="#111" stroke-width="0.6"/>
<line x1="256.4" y1="534.3" x2="259.8" y2="534.3" stroke="#111" stroke-width="0.6"/>
<line x1="258.1" y1="560.15" x2="258.1" y2="557.95" stroke="#111" stroke-width="0.6"/>
<line x1="256.4" y1="557.95" x2="259.8" y2="557.95" stroke="#111" stroke-width="0.6"/>
<rect x="263.9" y="557.95" width="5.7" height="3.85" fill="#6ab344" stroke="#0c0c0c" stroke-width="0.7"/>
<rect x="263.9" y="551.35" width="5.7" height="6.6" fill="#ee9a1c" stroke="#0c0c0c" stroke-width="0.7"/>
<rect x="263.9" y="539.8" width="5.7" height="11.55" fill="#512374" stroke="#0c0c0c" stroke-width="0.7"/>
<rect x="263.9" y="534.85" width="5.7" height="4.95" fill="#6cb5eb" stroke="#0c0c0c" stroke-width="0.7"/>
<line x1="263.55" y1="534.85" x2="269.95" y2="534.85" stroke="#0c0c0c" stroke-width="1.1"/>
<line x1="266.75" y1="534.85" x2="266.75" y2="531.55" stroke="#111" stroke-width="0.6"/>
<line x1="265.05" y1="531.55" x2="268.45" y2="531.55" stroke="#111" stroke-width="0.6"/>
<line x1="266.75" y1="539.8" x2="266.75" y2="537.05" stroke="#111" stroke-width="0.6"/>
<line x1="265.05" y1="537.05" x2="268.45" y2="537.05" stroke="#111" stroke-width="0.6"/>
<line x1="266.75" y1="557.95" x2="266.75" y2="555.75" stroke="#111" stroke-width="0.6"/>
<line x1="265.05" y1="555.75" x2="268.45" y2="555.75" stroke="#111" stroke-width="0.6"/>
<line x1="217.7" y1="561.8" x2="271.8" y2="561.8" stroke="#1a1a1a" stroke-width="1.7"/>
<line x1="223.5" y1="561.8" x2="223.5" y2="564.8" stroke="#000" stroke-width="0.9"/>
<text x="225.7" y="571.1" font-size="4.5" fill="#111" text-anchor="end" transform="rotate(-45 225.7 571.1)">HSC</text>
<line x1="232.15" y1="561.8" x2="232.15" y2="564.8" stroke="#000" stroke-width="0.9"/>
<text x="234.35" y="571.1" font-size="4.5" fill="#111" text-anchor="end" transform="rotate(-45 234.35 571.1)">MPP1</text>
<line x1="240.8" y1="561.8" x2="240.8" y2="564.8" stroke="#000" stroke-width="0.9"/>
<text x="243" y="571.1" font-size="4.5" fill="#111" text-anchor="end" transform="rotate(-45 243 571.1)">MPP2</text>
<line x1="249.45" y1="561.8" x2="249.45" y2="564.8" stroke="#000" stroke-width="0.9"/>
<text x="251.65" y="571.1" font-size="4.5" fill="#111" text-anchor="end" transform="rotate(-45 251.65 571.1)">MPP3</text>
<line x1="258.1" y1="561.8" x2="258.1" y2="564.8" stroke="#000" stroke-width="0.9"/>
<text x="260.3" y="571.1" font-size="4.5" fill="#111" text-anchor="end" transform="rotate(-45 260.3 571.1)">MPP4</text>
<line x1="266.75" y1="561.8" x2="266.75" y2="564.8" stroke="#000" stroke-width="0.9"/>
<text x="268.95" y="571.1" font-size="4.5" fill="#111" text-anchor="end" transform="rotate(-45 268.95 571.1)">MPP5</text>
<line x1="44.25" y1="503.8" x2="44.25" y2="562.5" stroke="#000" stroke-width="1.4"/>
<line x1="40.95" y1="561.8" x2="44.25" y2="561.8" stroke="#000" stroke-width="0.9"/>
<text x="37.95" y="563.35" font-size="4.5" fill="#111" text-anchor="end">0</text>
<line x1="40.95" y1="550.8" x2="44.25" y2="550.8" stroke="#000" stroke-width="0.9"/>
<text x="37.95" y="552.35" font-size="4.5" fill="#111" text-anchor="end">20</text>
<line x1="40.95" y1="539.8" x2="44.25" y2="539.8" stroke="#000" stroke-width="0.9"/>
<text x="37.95" y="541.35" font-size="4.5" fill="#111" text-anchor="end">40</text>
<line x1="40.95" y1="528.8" x2="44.25" y2="528.8" stroke="#000" stroke-width="0.9"/>
<text x="37.95" y="530.35" font-size="4.5" fill="#111" text-anchor="end">60</text>
<line x1="40.95" y1="517.8" x2="44.25" y2="517.8" stroke="#000" stroke-width="0.9"/>
<text x="37.95" y="519.35" font-size="4.5" fill="#111" text-anchor="end">80</text>
<line x1="40.95" y1="506.8" x2="44.25" y2="506.8" stroke="#000" stroke-width="0.9"/>
<text x="37.95" y="508.35" font-size="4.5" fill="#111" text-anchor="end">100</text>
<text x="67.05" y="501.2" font-size="4.5" fill="#111" text-anchor="middle">**</text>
<text x="93" y="506.6" font-size="4.5" fill="#6cb5eb" text-anchor="middle">***</text>
<text x="75.7" y="509.9" font-size="4.5" fill="#512374" text-anchor="middle">**</text>
<text x="84.35" y="509.9" font-size="4.5" fill="#512374" text-anchor="middle">***</text>
<text x="75.7" y="514.1" font-size="4.5" fill="#ee9a1c" text-anchor="middle">***</text>
<text x="84.35" y="514.1" font-size="4.5" fill="#ee9a1c" text-anchor="middle">***</text>
<text x="93" y="514.1" font-size="4.5" fill="#ee9a1c" text-anchor="middle">**</text>
<text x="67.05" y="518.6" font-size="4.5" fill="#6ab344" text-anchor="middle">***</text>
<text x="58.4" y="522.7" font-size="4.5" fill="#2c4f8c" text-anchor="middle">***</text>
<text x="67.05" y="522.7" font-size="4.5" fill="#2c4f8c" text-anchor="middle">***</text>
<text x="75.7" y="522.7" font-size="4.5" fill="#2c4f8c" text-anchor="middle">***</text>
<text x="84.35" y="522.7" font-size="4.5" fill="#2c4f8c" text-anchor="middle">***</text>
<text x="93" y="522.7" font-size="4.5" fill="#2c4f8c" text-anchor="middle">***</text>
<text x="58.4" y="527.1" font-size="4.5" fill="#b00d2f" text-anchor="middle">*</text>
<text x="67.05" y="527.1" font-size="4.5" fill="#b00d2f" text-anchor="middle">*</text>
<text x="75.7" y="527.1" font-size="4.5" fill="#b00d2f" text-anchor="middle">*</text>
<text x="84.35" y="527.1" font-size="4.5" fill="#b00d2f" text-anchor="middle">*</text>
<text x="93" y="527.1" font-size="4.5" fill="#b00d2f" text-anchor="middle">*</text>
<text x="125.05" y="501.2" font-size="4.5" fill="#111" text-anchor="middle">**</text>
<text x="151" y="506.6" font-size="4.5" fill="#6cb5eb" text-anchor="middle">***</text>
<text x="142.35" y="509.9" font-size="4.5" fill="#512374" text-anchor="middle">***</text>
<text x="133.7" y="514.1" font-size="4.5" fill="#ee9a1c" text-anchor="middle">***</text>
<text x="142.35" y="514.1" font-size="4.5" fill="#ee9a1c" text-anchor="middle">***</text>
<text x="151" y="514.1" font-size="4.5" fill="#ee9a1c" text-anchor="middle">***</text>
<text x="125.05" y="518.6" font-size="4.5" fill="#6ab344" text-anchor="middle">***</text>
<text x="125.05" y="522.7" font-size="4.5" fill="#2c4f8c" text-anchor="middle">***</text>
<text x="133.7" y="522.7" font-size="4.5" fill="#2c4f8c" text-anchor="middle">***</text>
<text x="142.35" y="522.7" font-size="4.5" fill="#2c4f8c" text-anchor="middle">***</text>
<text x="151" y="522.7" font-size="4.5" fill="#2c4f8c" text-anchor="middle">***</text>
<text x="116.4" y="527.1" font-size="4.5" fill="#b00d2f" text-anchor="middle">*</text>
<text x="125.05" y="527.1" font-size="4.5" fill="#b00d2f" text-anchor="middle">***</text>
<text x="133.7" y="527.1" font-size="4.5" fill="#b00d2f" text-anchor="middle">***</text>
<text x="142.35" y="527.1" font-size="4.5" fill="#b00d2f" text-anchor="middle">***</text>
<text x="151" y="527.1" font-size="4.5" fill="#b00d2f" text-anchor="middle">***</text>
<text x="183.3" y="501.2" font-size="4.5" fill="#111" text-anchor="middle">**</text>
<text x="209.25" y="506.6" font-size="4.5" fill="#6cb5eb" text-anchor="middle">***</text>
<text x="191.95" y="509.9" font-size="4.5" fill="#512374" text-anchor="middle">***</text>
<text x="200.6" y="509.9" font-size="4.5" fill="#512374" text-anchor="middle">***</text>
<text x="191.95" y="514.1" font-size="4.5" fill="#ee9a1c" text-anchor="middle">***</text>
<text x="200.6" y="514.1" font-size="4.5" fill="#ee9a1c" text-anchor="middle">***</text>
<text x="209.25" y="514.1" font-size="4.5" fill="#ee9a1c" text-anchor="middle">***</text>
<text x="183.3" y="518.6" font-size="4.5" fill="#6ab344" text-anchor="middle">***</text>
<text x="183.3" y="522.7" font-size="4.5" fill="#2c4f8c" text-anchor="middle">***</text>
<text x="191.95" y="522.7" font-size="4.5" fill="#2c4f8c" text-anchor="middle">***</text>
<text x="200.6" y="522.7" font-size="4.5" fill="#2c4f8c" text-anchor="middle">***</text>
<text x="209.25" y="522.7" font-size="4.5" fill="#2c4f8c" text-anchor="middle">***</text>
<text x="174.65" y="527.1" font-size="4.5" fill="#b00d2f" text-anchor="middle">***</text>
<text x="183.3" y="527.1" font-size="4.5" fill="#b00d2f" text-anchor="middle">***</text>
<text x="191.95" y="527.1" font-size="4.5" fill="#b00d2f" text-anchor="middle">***</text>
<text x="200.6" y="527.1" font-size="4.5" fill="#b00d2f" text-anchor="middle">***</text>
<text x="209.25" y="527.1" font-size="4.5" fill="#b00d2f" text-anchor="middle">***</text>
<text x="258.1" y="501.2" font-size="4.5" fill="#111" text-anchor="middle">*</text>
<text x="266.75" y="501.2" font-size="4.5" fill="#111" text-anchor="middle">**</text>
<text x="258.1" y="509.9" font-size="4.5" fill="#512374" text-anchor="middle">***</text>
<text x="266.75" y="509.9" font-size="4.5" fill="#512374" text-anchor="middle">***</text>
<text x="240.8" y="514.1" font-size="4.5" fill="#ee9a1c" text-anchor="middle">*</text>
<text x="249.45" y="514.1" font-size="4.5" fill="#ee9a1c" text-anchor="middle">**</text>
<text x="258.1" y="514.1" font-size="4.5" fill="#ee9a1c" text-anchor="middle">***</text>
<text x="266.75" y="514.1" font-size="4.5" fill="#ee9a1c" text-anchor="middle">**</text>
<text x="232.15" y="518.6" font-size="4.5" fill="#6ab344" text-anchor="middle">*</text>
<text x="240.8" y="518.6" font-size="4.5" fill="#6ab344" text-anchor="middle">**</text>
<text x="240.8" y="522.7" font-size="4.5" fill="#2c4f8c" text-anchor="middle">**</text>
<text x="249.45" y="522.7" font-size="4.5" fill="#2c4f8c" text-anchor="middle">**</text>
<text x="258.1" y="522.7" font-size="4.5" fill="#2c4f8c" text-anchor="middle">***</text>
<text x="266.75" y="522.7" font-size="4.5" fill="#2c4f8c" text-anchor="middle">**</text>
<text x="285.6" y="457.2" font-size="12.6" fill="#000" font-weight="bold">F</text>
<g transform="translate(296.3 436.4) scale(0.72)">
<path d="M5.4,18.1C5.6,17.52 6.68,17.6 7.7,17.3C8.72,17 9.97,17.07 11.5,16.3C13.03,15.53 15.03,13.95 16.9,12.7C18.77,11.45 21.67,9.83 22.7,8.8C23.73,7.77 22.8,7.1 23.1,6.5C23.4,5.9 23.93,5.32 24.5,5.2C25.07,5.08 26.03,5.38 26.5,5.8C26.97,6.22 26.92,7.28 27.3,7.7C27.68,8.12 28.22,8.15 28.8,8.3C29.38,8.45 30.15,8.07 30.8,8.6C31.45,9.13 32.52,10.65 32.7,11.5C32.88,12.35 32.42,13.43 31.9,13.7C31.38,13.97 30.23,13.47 29.6,13.1C28.97,12.73 28.62,11.5 28.1,11.5C27.58,11.5 27.08,12.97 26.5,13.1C25.92,13.23 25.82,11.85 24.6,12.3C23.38,12.75 20.8,14.72 19.2,15.8C17.6,16.88 16.02,17.72 15,18.8C13.98,19.88 13.55,21.07 13.1,22.3C12.65,23.53 12.62,25.43 12.3,26.2C11.98,26.97 11.78,27.17 11.2,26.9C10.62,26.63 9.58,25.62 8.8,24.6C8.02,23.58 7.07,21.88 6.5,20.8C5.93,19.72 5.2,18.68 5.4,18.1Z" fill="#fff" stroke="#111" stroke-width="1.18" stroke-linejoin="round"/>
</g>
<g transform="translate(302.8 444) scale(0.73)">
<path d="M15,12.3C14.42,12.1 12.97,11.15 11.5,11.1C10.03,11.05 7.52,11.2 6.2,12C4.88,12.8 4.03,14.53 3.6,15.9C3.17,17.27 3.2,18.75 3.6,20.2C4,21.65 4.83,23.63 6,24.6C7.17,25.57 9.2,25.67 10.6,26C12,26.33 13.23,26.13 14.4,26.6C15.57,27.07 16.95,28.07 17.6,28.8C18.25,29.53 18.18,30.63 18.3,31" fill="none" stroke="#111" stroke-width="1.78" stroke-linecap="round"/>
<path d="M13.5,20.1C13.3,19.72 14.02,19.33 14.2,18.5C14.38,17.67 14.33,16.43 14.6,15.1C14.87,13.77 15.22,11.85 15.8,10.5C16.38,9.15 17.15,7.88 18.1,7C19.05,6.12 20.28,5.5 21.5,5.2C22.72,4.9 24.18,4.97 25.4,5.2C26.62,5.43 27.83,6.05 28.8,6.6C29.77,7.15 30.48,7.98 31.2,8.5C31.92,9.02 32.47,9.5 33.1,9.7C33.73,9.9 34.55,10.02 35,9.7C35.45,9.38 35.42,8.42 35.8,7.8C36.18,7.18 36.75,6.22 37.3,6C37.85,5.78 38.72,6.02 39.1,6.5C39.48,6.98 39.6,8.12 39.6,8.9C39.6,9.68 38.9,10.3 39.1,11.2C39.3,12.1 40.2,13.33 40.8,14.3C41.4,15.27 42.2,16.3 42.7,17C43.2,17.7 43.8,17.98 43.8,18.5C43.8,19.02 43.2,19.58 42.7,20.1C42.2,20.62 41.5,21.25 40.8,21.6C40.1,21.95 39.22,22.2 38.5,22.2C37.78,22.2 37.15,21.83 36.5,21.6C35.85,21.37 35.05,20.8 34.6,20.8C34.15,20.8 34.05,21.2 33.8,21.6C33.55,22 33.15,22.68 33.1,23.2C33.05,23.72 33.77,24.37 33.5,24.7C33.23,25.03 32.33,25.13 31.5,25.2C30.67,25.27 29.33,25.1 28.5,25.1C27.67,25.1 27.28,25.33 26.5,25.2C25.72,25.07 24.75,24.97 23.8,24.3C22.85,23.63 21.82,21.83 20.8,21.2C19.78,20.57 18.6,20.57 17.7,20.5C16.8,20.43 16.1,20.87 15.4,20.8C14.7,20.73 13.7,20.48 13.5,20.1Z" fill="#fff" stroke="#111" stroke-width="1.3" stroke-linejoin="round"/>
<path d="M21.5,10.8C21.12,11.25 19.65,12.4 19.2,13.5C18.75,14.6 18.53,16.18 18.8,17.4C19.07,18.62 19.97,19.65 20.8,20.8C21.63,21.95 23.3,23.72 23.8,24.3" fill="none" stroke="#111" stroke-width="1.3"/>
<path d="M28.8,20.4C29.03,20.8 29.68,22.1 30.2,22.8C30.72,23.5 31.62,24.3 31.9,24.6" fill="none" stroke="#111" stroke-width="1.3"/>
<path d="M25.8,12.8C25.92,13.25 26.05,14.6 26.5,15.5C26.95,16.4 27.72,17.43 28.5,18.2C29.28,18.97 30.18,19.62 31.2,20.1C32.22,20.58 34.03,20.93 34.6,21.1" fill="none" stroke="#111" stroke-width="1.3"/>
<ellipse cx="27.3" cy="10.1" rx="3.2" ry="3.5" transform="rotate(-20 27.3 10.1)" fill="#fff" stroke="#111" stroke-width="1.3"/>
<path d="M26.5,12.6C26.45,12.23 25.93,11.02 26.2,10.4C26.47,9.78 27.53,9.02 28.1,8.9C28.67,8.78 29.35,9.57 29.6,9.7" fill="none" stroke="#111" stroke-width="1.17"/>
<ellipse cx="36.2" cy="16" rx="1.1" ry="0.72" fill="#000"/>
<ellipse cx="36.9" cy="20.6" rx="2.4" ry="0.85" fill="#333"/>
<line x1="43.3" y1="17.9" x2="45.8" y2="15.1" stroke="#111" stroke-width="1.11"/>
<line x1="43.5" y1="18" x2="46.5" y2="17" stroke="#111" stroke-width="1.11"/>
<line x1="43.5" y1="18.3" x2="46.8" y2="18.7" stroke="#111" stroke-width="1.11"/>
<line x1="43.2" y1="17.8" x2="44.6" y2="14.7" stroke="#111" stroke-width="1.11"/>
<ellipse cx="43.5" cy="18.2" rx="0.8" ry="0.7" fill="#000"/>
<ellipse cx="26.4" cy="25.3" rx="1.8" ry="0.85" fill="#111"/>
<ellipse cx="32.3" cy="25.3" rx="1.8" ry="0.85" fill="#111"/>
<ellipse cx="14.4" cy="20.5" rx="1.6" ry="0.85" fill="#111"/>
</g>
<line x1="336.5" y1="453.3" x2="347.2" y2="453.3" stroke="#000" stroke-width="1"/>
<polygon points="351.5,453.3 346.7,451.1 346.7,455.5" fill="#000"/>
<path d="M363.1,445.4 L363.1,456.08 L365.55,462.67 Q366.5,463.73 367.45,462.67 L369.9,456.08 L369.9,445.4 Z" fill="#fff" stroke="#2a2a2a" stroke-width="0.6" stroke-linejoin="round"/>
<g transform="translate(369.3 445.6) rotate(-50)"><rect x="0" y="-1.1" width="6.2" height="2.2" rx="0.5" fill="#fff" stroke="#2a2a2a" stroke-width="0.6"/></g>
<circle cx="366.5" cy="455.1" r="1.85" fill="#fff" stroke="#1f2f6b" stroke-width="1.1"/>
<path d="M373.2,445.4 L373.2,456.08 L375.65,462.67 Q376.6,463.73 377.55,462.67 L380,456.08 L380,445.4 Z" fill="#fff" stroke="#2a2a2a" stroke-width="0.6" stroke-linejoin="round"/>
<g transform="translate(379.4 445.6) rotate(-50)"><rect x="0" y="-1.1" width="6.2" height="2.2" rx="0.5" fill="#fff" stroke="#2a2a2a" stroke-width="0.6"/></g>
<circle cx="376.6" cy="455.1" r="1.85" fill="#fff" stroke="#24387a" stroke-width="1.1"/>
<path d="M383.1,445.4 L383.1,456.08 L385.55,462.67 Q386.5,463.73 387.45,462.67 L389.9,456.08 L389.9,445.4 Z" fill="#fff" stroke="#2a2a2a" stroke-width="0.6" stroke-linejoin="round"/>
<g transform="translate(389.3 445.6) rotate(-50)"><rect x="0" y="-1.1" width="6.2" height="2.2" rx="0.5" fill="#fff" stroke="#2a2a2a" stroke-width="0.6"/></g>
<circle cx="386.5" cy="455.1" r="1.85" fill="#fff" stroke="#3a4a78" stroke-width="1.1"/>
<path d="M393.8,445.4 L393.8,456.08 L396.25,462.67 Q397.2,463.73 398.15,462.67 L400.6,456.08 L400.6,445.4 Z" fill="#fff" stroke="#2a2a2a" stroke-width="0.6" stroke-linejoin="round"/>
<g transform="translate(400 445.6) rotate(-50)"><rect x="0" y="-1.1" width="6.2" height="2.2" rx="0.5" fill="#fff" stroke="#2a2a2a" stroke-width="0.6"/></g>
<circle cx="397.2" cy="455.1" r="1.85" fill="#fff" stroke="#6b7f2a" stroke-width="1.1"/>
<line x1="405.5" y1="453.3" x2="414.6" y2="453.3" stroke="#000" stroke-width="1"/>
<polygon points="418.9,453.3 414.1,451.1 414.1,455.5" fill="#000"/>
<circle cx="427.5" cy="453.3" r="2.5" fill="#fff" stroke="#8e1026" stroke-width="1.8"/>
<circle cx="427.5" cy="453.3" r="1.15" fill="none" stroke="#c4c4c4" stroke-width="0.4"/>
<circle cx="431" cy="453.3" r="2.5" fill="#fff" stroke="#1f3c7c" stroke-width="1.8"/>
<circle cx="431" cy="453.3" r="1.15" fill="none" stroke="#c4c4c4" stroke-width="0.4"/>
<circle cx="434.5" cy="453.3" r="2.5" fill="#fff" stroke="#4f9a2e" stroke-width="1.8"/>
<circle cx="434.5" cy="453.3" r="1.15" fill="none" stroke="#c4c4c4" stroke-width="0.4"/>
<circle cx="438" cy="453.3" r="2.5" fill="#fff" stroke="#e28e16" stroke-width="1.8"/>
<circle cx="438" cy="453.3" r="1.15" fill="none" stroke="#c4c4c4" stroke-width="0.4"/>
<circle cx="441.5" cy="453.3" r="2.5" fill="#fff" stroke="#4a1f6e" stroke-width="1.8"/>
<circle cx="441.5" cy="453.3" r="1.15" fill="none" stroke="#c4c4c4" stroke-width="0.4"/>
<circle cx="445" cy="453.3" r="2.5" fill="#fff" stroke="#4f9ad6" stroke-width="1.8"/>
<circle cx="445" cy="453.3" r="1.15" fill="none" stroke="#c4c4c4" stroke-width="0.4"/>
<line x1="453" y1="453.3" x2="462.9" y2="453.3" stroke="#000" stroke-width="1"/>
<polygon points="467.2,453.3 462.4,451.1 462.4,455.5" fill="#000"/>
<text x="343" y="469.32" font-size="4.5" fill="#111">CTV</text>
<text x="355" y="469.32" font-size="4.5" fill="#111">M</text>
<text x="369.3" y="469.32" font-size="4.5" fill="#111" text-anchor="middle">2.5</text>
<text x="378.3" y="469.32" font-size="4.5" fill="#111" text-anchor="middle">2.5</text>
<text x="388.4" y="469.32" font-size="4.5" fill="#111" text-anchor="middle">1.25</text>
<text x="397.6" y="469.32" font-size="4.5" fill="#111" text-anchor="middle">0</text>
<text x="343" y="475.72" font-size="4.5" fill="#111">CFSE</text>
<text x="358.2" y="475.72" font-size="4.5" fill="#111">M</text>
<text x="368.2" y="475.72" font-size="4.5" fill="#111" text-anchor="middle">0</text>
<text x="377" y="475.72" font-size="4.5" fill="#111" text-anchor="middle">1.25</text>
<text x="388.6" y="475.72" font-size="4.5" fill="#111" text-anchor="middle">2.5</text>
<text x="397.5" y="475.72" font-size="4.5" fill="#111" text-anchor="middle">2.5</text>
<text x="349.5" y="483.24" font-size="4.56" fill="#111">Cell Trace Staining</text>
<text x="427" y="469.92" font-size="4.5" fill="#111" textLength="19.3" lengthAdjust="spacing">Index Sort</text>
<text x="424.5" y="475.42" font-size="4.51" fill="#111">4 Cells/Well</text>
<text x="419.3" y="481.2" font-size="4.72" fill="#111">(4 different dyes)</text>
<text x="491.3" y="450.92" font-size="4.5" fill="#111" text-anchor="middle">24h</text>
<text x="471.3" y="457.17" font-size="4.64" fill="#111">Phenotypic Analysis</text>
<rect x="328.1" y="506.26" width="5.4" height="35.84" fill="#d0d0d5" stroke="#4a4a4a" stroke-width="0.85"/>
<rect x="336.8" y="509.4" width="5.4" height="32.7" fill="#d0d0d5" stroke="#4a4a4a" stroke-width="0.85"/>
<rect x="345.6" y="511.41" width="5.4" height="30.69" fill="#d0d0d5" stroke="#4a4a4a" stroke-width="0.85"/>
<rect x="354.5" y="516.12" width="5.4" height="25.98" fill="#d0d0d5" stroke="#4a4a4a" stroke-width="0.85"/>
<rect x="363.3" y="525.52" width="5.4" height="16.58" fill="#d0d0d5" stroke="#4a4a4a" stroke-width="0.85"/>
<rect x="372.1" y="503.57" width="5.4" height="38.53" fill="#d0d0d5" stroke="#4a4a4a" stroke-width="0.85"/>
<line x1="324.4" y1="494.6" x2="324.4" y2="542.7" stroke="#000" stroke-width="1.4"/>
<line x1="324.4" y1="542.1" x2="380.4" y2="542.1" stroke="#000" stroke-width="1.4"/>
<line x1="321.2" y1="542.1" x2="324.4" y2="542.1" stroke="#000" stroke-width="0.8"/>
<text x="318.6" y="543.6" font-size="4.5" fill="#111" text-anchor="end">0</text>
<line x1="321.2" y1="537.62" x2="324.4" y2="537.62" stroke="#000" stroke-width="0.8"/>
<text x="318.6" y="539.12" font-size="4.5" fill="#111" text-anchor="end">20</text>
<line x1="321.2" y1="533.14" x2="324.4" y2="533.14" stroke="#000" stroke-width="0.8"/>
<text x="318.6" y="534.64" font-size="4.5" fill="#111" text-anchor="end">40</text>
<line x1="321.2" y1="528.66" x2="324.4" y2="528.66" stroke="#000" stroke-width="0.8"/>
<text x="318.6" y="530.16" font-size="4.5" fill="#111" text-anchor="end">60</text>
<line x1="321.2" y1="524.18" x2="324.4" y2="524.18" stroke="#000" stroke-width="0.8"/>
<text x="318.6" y="525.68" font-size="4.5" fill="#111" text-anchor="end">80</text>
<line x1="321.2" y1="519.7" x2="324.4" y2="519.7" stroke="#000" stroke-width="0.8"/>
<text x="318.6" y="521.2" font-size="4.5" fill="#111" text-anchor="end">100</text>
<line x1="321.2" y1="515.22" x2="324.4" y2="515.22" stroke="#000" stroke-width="0.8"/>
<text x="318.6" y="516.72" font-size="4.5" fill="#111" text-anchor="end">120</text>
<line x1="321.2" y1="510.74" x2="324.4" y2="510.74" stroke="#000" stroke-width="0.8"/>
<text x="318.6" y="512.24" font-size="4.5" fill="#111" text-anchor="end">140</text>
<line x1="321.2" y1="506.26" x2="324.4" y2="506.26" stroke="#000" stroke-width="0.8"/>
<text x="318.6" y="507.76" font-size="4.5" fill="#111" text-anchor="end">160</text>
<line x1="321.2" y1="501.78" x2="324.4" y2="501.78" stroke="#000" stroke-width="0.8"/>
<text x="318.6" y="503.28" font-size="4.5" fill="#111" text-anchor="end">180</text>
<line x1="321.2" y1="497.3" x2="324.4" y2="497.3" stroke="#000" stroke-width="0.8"/>
<text x="318.6" y="498.8" font-size="4.5" fill="#111" text-anchor="end">200</text>
<line x1="330.8" y1="542.1" x2="330.8" y2="545.1" stroke="#000" stroke-width="0.9"/>
<text x="333.1" y="551.4" font-size="4.5" fill="#111" text-anchor="end" transform="rotate(-45 333.1 551.4)">HSC</text>
<line x1="339.5" y1="542.1" x2="339.5" y2="545.1" stroke="#000" stroke-width="0.9"/>
<text x="341.8" y="551.4" font-size="4.5" fill="#111" text-anchor="end" transform="rotate(-45 341.8 551.4)">MPP1</text>
<line x1="348.3" y1="542.1" x2="348.3" y2="545.1" stroke="#000" stroke-width="0.9"/>
<text x="350.6" y="551.4" font-size="4.5" fill="#111" text-anchor="end" transform="rotate(-45 350.6 551.4)">MPP2</text>
<line x1="357.2" y1="542.1" x2="357.2" y2="545.1" stroke="#000" stroke-width="0.9"/>
<text x="359.5" y="551.4" font-size="4.5" fill="#111" text-anchor="end" transform="rotate(-45 359.5 551.4)">MPP3</text>
<line x1="366" y1="542.1" x2="366" y2="545.1" stroke="#000" stroke-width="0.9"/>
<text x="368.3" y="551.4" font-size="4.5" fill="#111" text-anchor="end" transform="rotate(-45 368.3 551.4)">MPP4</text>
<line x1="374.8" y1="542.1" x2="374.8" y2="545.1" stroke="#000" stroke-width="0.9"/>
<text x="377.1" y="551.4" font-size="4.5" fill="#111" text-anchor="end" transform="rotate(-45 377.1 551.4)">MPP5</text>
<rect x="420.25" y="526.19" width="5.5" height="15.11" fill="#b00d2f" stroke="#0c0c0c" stroke-width="0.5"/>
<rect x="420.25" y="513.3" width="5.5" height="12.89" fill="#2c4f8c" stroke="#0c0c0c" stroke-width="0.5"/>
<rect x="420.25" y="511.96" width="5.5" height="1.33" fill="#15233f" stroke="#0c0c0c" stroke-width="0.5"/>
<rect x="429.15" y="532.85" width="5.5" height="8.45" fill="#b00d2f" stroke="#0c0c0c" stroke-width="0.5"/>
<rect x="429.15" y="515.07" width="5.5" height="17.78" fill="#2c4f8c" stroke="#0c0c0c" stroke-width="0.5"/>
<rect x="429.15" y="507.07" width="5.5" height="8" fill="#6ab344" stroke="#0c0c0c" stroke-width="0.5"/>
<rect x="429.15" y="504.85" width="5.5" height="2.22" fill="#2c4f8c" stroke="#0c0c0c" stroke-width="0.5"/>
<rect x="438.05" y="540.41" width="5.5" height="0.89" fill="#15233f" stroke="#0c0c0c" stroke-width="0.5"/>
<rect x="438.05" y="528.41" width="5.5" height="12" fill="#6ab344" stroke="#0c0c0c" stroke-width="0.5"/>
<rect x="438.05" y="527.52" width="5.5" height="0.89" fill="#15233f" stroke="#0c0c0c" stroke-width="0.5"/>
<rect x="446.85" y="538.19" width="5.5" height="3.11" fill="#6ab344" stroke="#0c0c0c" stroke-width="0.5"/>
<rect x="446.85" y="527.96" width="5.5" height="10.22" fill="#ee9a1c" stroke="#0c0c0c" stroke-width="0.5"/>
<rect x="446.85" y="527.08" width="5.5" height="0.89" fill="#15233f" stroke="#0c0c0c" stroke-width="0.5"/>
<rect x="455.55" y="535.52" width="5.5" height="5.78" fill="#ee9a1c" stroke="#0c0c0c" stroke-width="0.5"/>
<rect x="455.55" y="518.19" width="5.5" height="17.34" fill="#512374" stroke="#0c0c0c" stroke-width="0.5"/>
<rect x="464.25" y="537.3" width="5.5" height="4" fill="#2c4f8c" stroke="#0c0c0c" stroke-width="0.5"/>
<rect x="464.25" y="528.85" width="5.5" height="8.45" fill="#6ab344" stroke="#0c0c0c" stroke-width="0.5"/>
<rect x="464.25" y="517.3" width="5.5" height="11.56" fill="#ee9a1c" stroke="#0c0c0c" stroke-width="0.5"/>
<rect x="464.25" y="498.63" width="5.5" height="18.67" fill="#6cb5eb" stroke="#0c0c0c" stroke-width="0.5"/>
<line x1="417.4" y1="494.1" x2="417.4" y2="541.9" stroke="#000" stroke-width="1.4"/>
<line x1="417.4" y1="541.3" x2="473.1" y2="541.3" stroke="#000" stroke-width="1.4"/>
<line x1="414.2" y1="541.3" x2="417.4" y2="541.3" stroke="#000" stroke-width="0.8"/>
<text x="411.6" y="542.8" font-size="4.5" fill="#111" text-anchor="end">0</text>
<line x1="414.2" y1="532.41" x2="417.4" y2="532.41" stroke="#000" stroke-width="0.8"/>
<text x="411.6" y="533.91" font-size="4.5" fill="#111" text-anchor="end">20</text>
<line x1="414.2" y1="523.52" x2="417.4" y2="523.52" stroke="#000" stroke-width="0.8"/>
<text x="411.6" y="525.02" font-size="4.5" fill="#111" text-anchor="end">40</text>
<line x1="414.2" y1="514.63" x2="417.4" y2="514.63" stroke="#000" stroke-width="0.8"/>
<text x="411.6" y="516.13" font-size="4.5" fill="#111" text-anchor="end">60</text>
<line x1="414.2" y1="505.74" x2="417.4" y2="505.74" stroke="#000" stroke-width="0.8"/>
<text x="411.6" y="507.24" font-size="4.5" fill="#111" text-anchor="end">80</text>
<line x1="414.2" y1="496.85" x2="417.4" y2="496.85" stroke="#000" stroke-width="0.8"/>
<text x="411.6" y="498.35" font-size="4.5" fill="#111" text-anchor="end">100</text>
<line x1="423" y1="541.3" x2="423" y2="544.3" stroke="#000" stroke-width="0.9"/>
<text x="425.3" y="550.6" font-size="4.5" fill="#111" text-anchor="end" transform="rotate(-45 425.3 550.6)">HSC</text>
<line x1="431.9" y1="541.3" x2="431.9" y2="544.3" stroke="#000" stroke-width="0.9"/>
<text x="434.2" y="550.6" font-size="4.5" fill="#111" text-anchor="end" transform="rotate(-45 434.2 550.6)">MPP1</text>
<line x1="440.8" y1="541.3" x2="440.8" y2="544.3" stroke="#000" stroke-width="0.9"/>
<text x="443.1" y="550.6" font-size="4.5" fill="#111" text-anchor="end" transform="rotate(-45 443.1 550.6)">MPP2</text>
<line x1="449.6" y1="541.3" x2="449.6" y2="544.3" stroke="#000" stroke-width="0.9"/>
<text x="451.9" y="550.6" font-size="4.5" fill="#111" text-anchor="end" transform="rotate(-45 451.9 550.6)">MPP3</text>
<line x1="458.3" y1="541.3" x2="458.3" y2="544.3" stroke="#000" stroke-width="0.9"/>
<text x="460.6" y="550.6" font-size="4.5" fill="#111" text-anchor="end" transform="rotate(-45 460.6 550.6)">MPP4</text>
<line x1="467" y1="541.3" x2="467" y2="544.3" stroke="#000" stroke-width="0.9"/>
<text x="469.3" y="550.6" font-size="4.5" fill="#111" text-anchor="end" transform="rotate(-45 469.3 550.6)">MPP5</text>
<rect x="483" y="504.3" width="5.3" height="3.8" fill="#6cb5eb" stroke="#222" stroke-width="0.55"/>
<text x="491.2" y="507.8" font-size="4.5" fill="#111">MPP5</text>
<rect x="483" y="510.5" width="5.3" height="3.8" fill="#512374" stroke="#222" stroke-width="0.55"/>
<text x="491.2" y="514" font-size="4.5" fill="#111">MPP4</text>
<rect x="483" y="516.7" width="5.3" height="3.8" fill="#ee9a1c" stroke="#222" stroke-width="0.55"/>
<text x="491.2" y="520.2" font-size="4.5" fill="#111">MPP3</text>
<rect x="483" y="522.9" width="5.3" height="3.8" fill="#6ab344" stroke="#222" stroke-width="0.55"/>
<text x="491.2" y="526.4" font-size="4.5" fill="#111">MPP2</text>
<rect x="483" y="529.1" width="5.3" height="3.8" fill="#2c4f8c" stroke="#222" stroke-width="0.55"/>
<text x="491.2" y="532.6" font-size="4.5" fill="#111">MPP1</text>
<rect x="483" y="535.3" width="5.3" height="3.8" fill="#b00d2f" stroke="#222" stroke-width="0.55"/>
<text x="491.2" y="538.8" font-size="4.5" fill="#111">HSC</text>
<text x="7.6" y="607.4" font-size="12.6" fill="#000" font-weight="bold">G</text>
<g transform="translate(25.1 586.8) scale(0.72)">
<path d="M5.4,18.1C5.6,17.52 6.68,17.6 7.7,17.3C8.72,17 9.97,17.07 11.5,16.3C13.03,15.53 15.03,13.95 16.9,12.7C18.77,11.45 21.67,9.83 22.7,8.8C23.73,7.77 22.8,7.1 23.1,6.5C23.4,5.9 23.93,5.32 24.5,5.2C25.07,5.08 26.03,5.38 26.5,5.8C26.97,6.22 26.92,7.28 27.3,7.7C27.68,8.12 28.22,8.15 28.8,8.3C29.38,8.45 30.15,8.07 30.8,8.6C31.45,9.13 32.52,10.65 32.7,11.5C32.88,12.35 32.42,13.43 31.9,13.7C31.38,13.97 30.23,13.47 29.6,13.1C28.97,12.73 28.62,11.5 28.1,11.5C27.58,11.5 27.08,12.97 26.5,13.1C25.92,13.23 25.82,11.85 24.6,12.3C23.38,12.75 20.8,14.72 19.2,15.8C17.6,16.88 16.02,17.72 15,18.8C13.98,19.88 13.55,21.07 13.1,22.3C12.65,23.53 12.62,25.43 12.3,26.2C11.98,26.97 11.78,27.17 11.2,26.9C10.62,26.63 9.58,25.62 8.8,24.6C8.02,23.58 7.07,21.88 6.5,20.8C5.93,19.72 5.2,18.68 5.4,18.1Z" fill="#fff" stroke="#111" stroke-width="1.18" stroke-linejoin="round"/>
</g>
<g transform="translate(31.6 594.4) scale(0.73)">
<path d="M15,12.3C14.42,12.1 12.97,11.15 11.5,11.1C10.03,11.05 7.52,11.2 6.2,12C4.88,12.8 4.03,14.53 3.6,15.9C3.17,17.27 3.2,18.75 3.6,20.2C4,21.65 4.83,23.63 6,24.6C7.17,25.57 9.2,25.67 10.6,26C12,26.33 13.23,26.13 14.4,26.6C15.57,27.07 16.95,28.07 17.6,28.8C18.25,29.53 18.18,30.63 18.3,31" fill="none" stroke="#111" stroke-width="1.78" stroke-linecap="round"/>
<path d="M13.5,20.1C13.3,19.72 14.02,19.33 14.2,18.5C14.38,17.67 14.33,16.43 14.6,15.1C14.87,13.77 15.22,11.85 15.8,10.5C16.38,9.15 17.15,7.88 18.1,7C19.05,6.12 20.28,5.5 21.5,5.2C22.72,4.9 24.18,4.97 25.4,5.2C26.62,5.43 27.83,6.05 28.8,6.6C29.77,7.15 30.48,7.98 31.2,8.5C31.92,9.02 32.47,9.5 33.1,9.7C33.73,9.9 34.55,10.02 35,9.7C35.45,9.38 35.42,8.42 35.8,7.8C36.18,7.18 36.75,6.22 37.3,6C37.85,5.78 38.72,6.02 39.1,6.5C39.48,6.98 39.6,8.12 39.6,8.9C39.6,9.68 38.9,10.3 39.1,11.2C39.3,12.1 40.2,13.33 40.8,14.3C41.4,15.27 42.2,16.3 42.7,17C43.2,17.7 43.8,17.98 43.8,18.5C43.8,19.02 43.2,19.58 42.7,20.1C42.2,20.62 41.5,21.25 40.8,21.6C40.1,21.95 39.22,22.2 38.5,22.2C37.78,22.2 37.15,21.83 36.5,21.6C35.85,21.37 35.05,20.8 34.6,20.8C34.15,20.8 34.05,21.2 33.8,21.6C33.55,22 33.15,22.68 33.1,23.2C33.05,23.72 33.77,24.37 33.5,24.7C33.23,25.03 32.33,25.13 31.5,25.2C30.67,25.27 29.33,25.1 28.5,25.1C27.67,25.1 27.28,25.33 26.5,25.2C25.72,25.07 24.75,24.97 23.8,24.3C22.85,23.63 21.82,21.83 20.8,21.2C19.78,20.57 18.6,20.57 17.7,20.5C16.8,20.43 16.1,20.87 15.4,20.8C14.7,20.73 13.7,20.48 13.5,20.1Z" fill="#fff" stroke="#111" stroke-width="1.3" stroke-linejoin="round"/>
<path d="M21.5,10.8C21.12,11.25 19.65,12.4 19.2,13.5C18.75,14.6 18.53,16.18 18.8,17.4C19.07,18.62 19.97,19.65 20.8,20.8C21.63,21.95 23.3,23.72 23.8,24.3" fill="none" stroke="#111" stroke-width="1.3"/>
<path d="M28.8,20.4C29.03,20.8 29.68,22.1 30.2,22.8C30.72,23.5 31.62,24.3 31.9,24.6" fill="none" stroke="#111" stroke-width="1.3"/>
<path d="M25.8,12.8C25.92,13.25 26.05,14.6 26.5,15.5C26.95,16.4 27.72,17.43 28.5,18.2C29.28,18.97 30.18,19.62 31.2,20.1C32.22,20.58 34.03,20.93 34.6,21.1" fill="none" stroke="#111" stroke-width="1.3"/>
<ellipse cx="27.3" cy="10.1" rx="3.2" ry="3.5" transform="rotate(-20 27.3 10.1)" fill="#fff" stroke="#111" stroke-width="1.3"/>
<path d="M26.5,12.6C26.45,12.23 25.93,11.02 26.2,10.4C26.47,9.78 27.53,9.02 28.1,8.9C28.67,8.78 29.35,9.57 29.6,9.7" fill="none" stroke="#111" stroke-width="1.17"/>
<ellipse cx="36.2" cy="16" rx="1.1" ry="0.72" fill="#000"/>
<ellipse cx="36.9" cy="20.6" rx="2.4" ry="0.85" fill="#333"/>
<line x1="43.3" y1="17.9" x2="45.8" y2="15.1" stroke="#111" stroke-width="1.11"/>
<line x1="43.5" y1="18" x2="46.5" y2="17" stroke="#111" stroke-width="1.11"/>
<line x1="43.5" y1="18.3" x2="46.8" y2="18.7" stroke="#111" stroke-width="1.11"/>
<line x1="43.2" y1="17.8" x2="44.6" y2="14.7" stroke="#111" stroke-width="1.11"/>
<ellipse cx="43.5" cy="18.2" rx="0.8" ry="0.7" fill="#000"/>
<ellipse cx="26.4" cy="25.3" rx="1.8" ry="0.85" fill="#111"/>
<ellipse cx="32.3" cy="25.3" rx="1.8" ry="0.85" fill="#111"/>
<ellipse cx="14.4" cy="20.5" rx="1.6" ry="0.85" fill="#111"/>
</g>
<line x1="67.7" y1="603.2" x2="79.7" y2="603.2" stroke="#000" stroke-width="1"/>
<polygon points="84,603.2 79.2,601 79.2,605.4" fill="#000"/>
<circle cx="96.2" cy="603.2" r="2.5" fill="#fff" stroke="#8e1026" stroke-width="1.8"/>
<circle cx="96.2" cy="603.2" r="1.15" fill="none" stroke="#c4c4c4" stroke-width="0.4"/>
<circle cx="99.8" cy="603.2" r="2.5" fill="#fff" stroke="#1f3c7c" stroke-width="1.8"/>
<circle cx="99.8" cy="603.2" r="1.15" fill="none" stroke="#c4c4c4" stroke-width="0.4"/>
<circle cx="103.4" cy="603.2" r="2.5" fill="#fff" stroke="#4f9a2e" stroke-width="1.8"/>
<circle cx="103.4" cy="603.2" r="1.15" fill="none" stroke="#c4c4c4" stroke-width="0.4"/>
<circle cx="107" cy="603.2" r="2.5" fill="#fff" stroke="#e28e16" stroke-width="1.8"/>
<circle cx="107" cy="603.2" r="1.15" fill="none" stroke="#c4c4c4" stroke-width="0.4"/>
<circle cx="110.6" cy="603.2" r="2.5" fill="#fff" stroke="#4a1f6e" stroke-width="1.8"/>
<circle cx="110.6" cy="603.2" r="1.15" fill="none" stroke="#c4c4c4" stroke-width="0.4"/>
<circle cx="114.2" cy="603.2" r="2.5" fill="#fff" stroke="#4f9ad6" stroke-width="1.8"/>
<circle cx="114.2" cy="603.2" r="1.15" fill="none" stroke="#c4c4c4" stroke-width="0.4"/>
<line x1="127.3" y1="603.2" x2="139.9" y2="603.2" stroke="#000" stroke-width="1"/>
<polygon points="144.2,603.2 139.4,601 139.4,605.4" fill="#000"/>
<g transform="translate(149.8 587.6) scale(0.73)">
<path d="M15,12.3C14.42,12.1 12.97,11.15 11.5,11.1C10.03,11.05 7.52,11.2 6.2,12C4.88,12.8 4.03,14.53 3.6,15.9C3.17,17.27 3.2,18.75 3.6,20.2C4,21.65 4.83,23.63 6,24.6C7.17,25.57 9.2,25.67 10.6,26C12,26.33 13.23,26.13 14.4,26.6C15.57,27.07 16.95,28.07 17.6,28.8C18.25,29.53 18.18,30.63 18.3,31" fill="none" stroke="#111" stroke-width="1.78" stroke-linecap="round"/>
<path d="M13.5,20.1C13.3,19.72 14.02,19.33 14.2,18.5C14.38,17.67 14.33,16.43 14.6,15.1C14.87,13.77 15.22,11.85 15.8,10.5C16.38,9.15 17.15,7.88 18.1,7C19.05,6.12 20.28,5.5 21.5,5.2C22.72,4.9 24.18,4.97 25.4,5.2C26.62,5.43 27.83,6.05 28.8,6.6C29.77,7.15 30.48,7.98 31.2,8.5C31.92,9.02 32.47,9.5 33.1,9.7C33.73,9.9 34.55,10.02 35,9.7C35.45,9.38 35.42,8.42 35.8,7.8C36.18,7.18 36.75,6.22 37.3,6C37.85,5.78 38.72,6.02 39.1,6.5C39.48,6.98 39.6,8.12 39.6,8.9C39.6,9.68 38.9,10.3 39.1,11.2C39.3,12.1 40.2,13.33 40.8,14.3C41.4,15.27 42.2,16.3 42.7,17C43.2,17.7 43.8,17.98 43.8,18.5C43.8,19.02 43.2,19.58 42.7,20.1C42.2,20.62 41.5,21.25 40.8,21.6C40.1,21.95 39.22,22.2 38.5,22.2C37.78,22.2 37.15,21.83 36.5,21.6C35.85,21.37 35.05,20.8 34.6,20.8C34.15,20.8 34.05,21.2 33.8,21.6C33.55,22 33.15,22.68 33.1,23.2C33.05,23.72 33.77,24.37 33.5,24.7C33.23,25.03 32.33,25.13 31.5,25.2C30.67,25.27 29.33,25.1 28.5,25.1C27.67,25.1 27.28,25.33 26.5,25.2C25.72,25.07 24.75,24.97 23.8,24.3C22.85,23.63 21.82,21.83 20.8,21.2C19.78,20.57 18.6,20.57 17.7,20.5C16.8,20.43 16.1,20.87 15.4,20.8C14.7,20.73 13.7,20.48 13.5,20.1Z" fill="#fff" stroke="#111" stroke-width="1.3" stroke-linejoin="round"/>
<path d="M21.5,10.8C21.12,11.25 19.65,12.4 19.2,13.5C18.75,14.6 18.53,16.18 18.8,17.4C19.07,18.62 19.97,19.65 20.8,20.8C21.63,21.95 23.3,23.72 23.8,24.3" fill="none" stroke="#111" stroke-width="1.3"/>
<path d="M28.8,20.4C29.03,20.8 29.68,22.1 30.2,22.8C30.72,23.5 31.62,24.3 31.9,24.6" fill="none" stroke="#111" stroke-width="1.3"/>
<path d="M25.8,12.8C25.92,13.25 26.05,14.6 26.5,15.5C26.95,16.4 27.72,17.43 28.5,18.2C29.28,18.97 30.18,19.62 31.2,20.1C32.22,20.58 34.03,20.93 34.6,21.1" fill="none" stroke="#111" stroke-width="1.3"/>
<ellipse cx="27.3" cy="10.1" rx="3.2" ry="3.5" transform="rotate(-20 27.3 10.1)" fill="#fff" stroke="#111" stroke-width="1.3"/>
<path d="M26.5,12.6C26.45,12.23 25.93,11.02 26.2,10.4C26.47,9.78 27.53,9.02 28.1,8.9C28.67,8.78 29.35,9.57 29.6,9.7" fill="none" stroke="#111" stroke-width="1.17"/>
<ellipse cx="36.2" cy="16" rx="1.1" ry="0.72" fill="#000"/>
<ellipse cx="36.9" cy="20.6" rx="2.4" ry="0.85" fill="#333"/>
<line x1="43.3" y1="17.9" x2="45.8" y2="15.1" stroke="#111" stroke-width="1.11"/>
<line x1="43.5" y1="18" x2="46.5" y2="17" stroke="#111" stroke-width="1.11"/>
<line x1="43.5" y1="18.3" x2="46.8" y2="18.7" stroke="#111" stroke-width="1.11"/>
<line x1="43.2" y1="17.8" x2="44.6" y2="14.7" stroke="#111" stroke-width="1.11"/>
<ellipse cx="43.5" cy="18.2" rx="0.8" ry="0.7" fill="#000"/>
<ellipse cx="26.4" cy="25.3" rx="1.8" ry="0.85" fill="#111"/>
<ellipse cx="32.3" cy="25.3" rx="1.8" ry="0.85" fill="#111"/>
<ellipse cx="14.4" cy="20.5" rx="1.6" ry="0.85" fill="#111"/>
</g>
<text x="83.5" y="615.11" font-size="4.74" fill="#111">4000 Cells/Population</text>
<text x="144.6" y="614.42" font-size="4.5" fill="#111" textLength="46.2" lengthAdjust="spacing">Transplantation HSPCs</text>
<text x="111.6" y="623.32" font-size="4.51" fill="#111">1 Week Analysis</text>
<line x1="55.9" y1="688" x2="204" y2="688" stroke="#ee9a1c" stroke-width="1.2" stroke-dasharray="1.2 2.1"/>
<line x1="55.3" y1="688" x2="204" y2="688" stroke="#512374" stroke-width="1.2" stroke-dasharray="1.2 2.1"/>
<line x1="55.3" y1="695" x2="204" y2="695" stroke="#6ab344" stroke-width="1.2" stroke-dasharray="1.2 2.1"/>
<line x1="55.3" y1="701.4" x2="204" y2="701.4" stroke="#6cb5eb" stroke-width="1.2" stroke-dasharray="1.2 2.1"/>
<line x1="55.3" y1="727.5" x2="204" y2="727.5" stroke="#2c4f8c" stroke-width="1.2" stroke-dasharray="1.2 2.1"/>
<line x1="55.3" y1="732.4" x2="204" y2="732.4" stroke="#b00d2f" stroke-width="1.2" stroke-dasharray="1.2 2.1"/>
<rect x="60.55" y="733" width="15.5" height="1.7" fill="#b00d2f" stroke="#0c0c0c" stroke-width="0.7"/>
<rect x="60.55" y="727.92" width="15.5" height="5.08" fill="#2c4f8c" stroke="#0c0c0c" stroke-width="0.7"/>
<rect x="60.55" y="706.7" width="15.5" height="21.22" fill="#6cb5eb" stroke="#0c0c0c" stroke-width="0.7"/>
<rect x="60.55" y="701.7" width="15.5" height="1.2" fill="#6cb5eb" stroke="#0c0c0c" stroke-width="0.7"/>
<rect x="60.55" y="695.71" width="15.5" height="5.99" fill="#6ab344" stroke="#0c0c0c" stroke-width="0.7"/>
<rect x="60.55" y="688.01" width="15.5" height="7.7" fill="#ee9a1c" stroke="#0c0c0c" stroke-width="0.7"/>
<rect x="84.45" y="729.05" width="15.5" height="5.65" fill="#2c4f8c" stroke="#0c0c0c" stroke-width="0.7"/>
<rect x="84.45" y="706.7" width="15.5" height="22.35" fill="#6cb5eb" stroke="#0c0c0c" stroke-width="0.7"/>
<rect x="84.45" y="699.47" width="15.5" height="3.43" fill="#6cb5eb" stroke="#0c0c0c" stroke-width="0.7"/>
<rect x="84.45" y="690.58" width="15.5" height="8.89" fill="#6ab344" stroke="#0c0c0c" stroke-width="0.7"/>
<rect x="84.45" y="678.1" width="15.5" height="12.48" fill="#ee9a1c" stroke="#0c0c0c" stroke-width="0.7"/>
<rect x="84.45" y="676.9" width="15.5" height="1.2" fill="#15233f" stroke="#0c0c0c" stroke-width="0.7"/>
<rect x="108.45" y="721.71" width="15.5" height="13" fill="#2c4f8c" stroke="#0c0c0c" stroke-width="0.7"/>
<rect x="108.45" y="706.7" width="15.5" height="15" fill="#6cb5eb" stroke="#0c0c0c" stroke-width="0.7"/>
<rect x="108.45" y="687.67" width="15.5" height="15.23" fill="#6cb5eb" stroke="#0c0c0c" stroke-width="0.7"/>
<rect x="108.45" y="678.1" width="15.5" height="9.58" fill="#6ab344" stroke="#0c0c0c" stroke-width="0.7"/>
<rect x="108.45" y="667.5" width="15.5" height="10.6" fill="#ee9a1c" stroke="#0c0c0c" stroke-width="0.7"/>
<rect x="108.45" y="665.78" width="15.5" height="1.71" fill="#512374" stroke="#0c0c0c" stroke-width="0.7"/>
<rect x="132.35" y="723.4" width="15.5" height="11.3" fill="#2c4f8c" stroke="#0c0c0c" stroke-width="0.7"/>
<rect x="132.35" y="706.7" width="15.5" height="16.7" fill="#6cb5eb" stroke="#0c0c0c" stroke-width="0.7"/>
<rect x="132.35" y="688.01" width="15.5" height="14.88" fill="#6cb5eb" stroke="#0c0c0c" stroke-width="0.7"/>
<rect x="132.35" y="676.9" width="15.5" height="11.12" fill="#6ab344" stroke="#0c0c0c" stroke-width="0.7"/>
<rect x="132.35" y="661.51" width="15.5" height="15.39" fill="#ee9a1c" stroke="#0c0c0c" stroke-width="0.7"/>
<rect x="132.35" y="660.31" width="15.5" height="1.2" fill="#15233f" stroke="#0c0c0c" stroke-width="0.7"/>
<rect x="156.25" y="707.58" width="15.5" height="27.12" fill="#2c4f8c" stroke="#0c0c0c" stroke-width="0.7"/>
<rect x="156.25" y="706.7" width="15.5" height="0.88" fill="#6cb5eb" stroke="#0c0c0c" stroke-width="0.7"/>
<rect x="156.25" y="679.81" width="15.5" height="23.09" fill="#6cb5eb" stroke="#0c0c0c" stroke-width="0.7"/>
<rect x="156.25" y="671.26" width="15.5" height="8.55" fill="#6ab344" stroke="#0c0c0c" stroke-width="0.7"/>
<rect x="156.25" y="661.51" width="15.5" height="9.75" fill="#ee9a1c" stroke="#0c0c0c" stroke-width="0.7"/>
<rect x="156.25" y="658.94" width="15.5" height="2.57" fill="#512374" stroke="#0c0c0c" stroke-width="0.7"/>
<rect x="180.35" y="724.53" width="15.5" height="10.17" fill="#2c4f8c" stroke="#0c0c0c" stroke-width="0.7"/>
<rect x="180.35" y="706.7" width="15.5" height="17.83" fill="#6cb5eb" stroke="#0c0c0c" stroke-width="0.7"/>
<rect x="180.35" y="691.43" width="15.5" height="11.47" fill="#6cb5eb" stroke="#0c0c0c" stroke-width="0.7"/>
<rect x="180.35" y="676.9" width="15.5" height="14.53" fill="#6ab344" stroke="#0c0c0c" stroke-width="0.7"/>
<rect x="180.35" y="654.67" width="15.5" height="22.23" fill="#ee9a1c" stroke="#0c0c0c" stroke-width="0.7"/>
<rect x="180.35" y="651.25" width="15.5" height="3.42" fill="#512374" stroke="#0c0c0c" stroke-width="0.7"/>
<rect x="53" y="703" width="152" height="3.6" fill="#fff"/>
<line x1="68.3" y1="688.01" x2="68.3" y2="681.35" stroke="#111" stroke-width="0.6"/>
<line x1="65" y1="681.35" x2="71.6" y2="681.35" stroke="#111" stroke-width="0.6"/>
<line x1="68.3" y1="701.7" x2="68.3" y2="689.73" stroke="#111" stroke-width="0.6"/>
<line x1="65.9" y1="689.73" x2="70.7" y2="689.73" stroke="#111" stroke-width="0.6"/>
<line x1="68.3" y1="701.7" x2="68.3" y2="694" stroke="#111" stroke-width="0.6"/>
<line x1="65" y1="694" x2="71.6" y2="694" stroke="#111" stroke-width="0.6"/>
<line x1="68.3" y1="727.92" x2="68.3" y2="723.97" stroke="#111" stroke-width="0.6"/>
<line x1="65" y1="723.97" x2="71.6" y2="723.97" stroke="#111" stroke-width="0.6"/>
<line x1="68.3" y1="733" x2="68.3" y2="727.92" stroke="#111" stroke-width="0.6"/>
<line x1="65" y1="727.92" x2="71.6" y2="727.92" stroke="#111" stroke-width="0.6"/>
<line x1="92.2" y1="676.9" x2="92.2" y2="674.34" stroke="#111" stroke-width="0.6"/>
<line x1="88.9" y1="674.34" x2="95.5" y2="674.34" stroke="#111" stroke-width="0.6"/>
<line x1="92.2" y1="676.9" x2="92.2" y2="675.7" stroke="#111" stroke-width="0.6"/>
<line x1="89.8" y1="675.7" x2="94.6" y2="675.7" stroke="#111" stroke-width="0.6"/>
<line x1="92.2" y1="699.47" x2="92.2" y2="682.37" stroke="#111" stroke-width="0.6"/>
<line x1="88.9" y1="682.37" x2="95.5" y2="682.37" stroke="#111" stroke-width="0.6"/>
<line x1="92.2" y1="729.05" x2="92.2" y2="723.97" stroke="#111" stroke-width="0.6"/>
<line x1="88.9" y1="723.97" x2="95.5" y2="723.97" stroke="#111" stroke-width="0.6"/>
<line x1="116.2" y1="665.78" x2="116.2" y2="660.65" stroke="#111" stroke-width="0.6"/>
<line x1="112.9" y1="660.65" x2="119.5" y2="660.65" stroke="#111" stroke-width="0.6"/>
<line x1="116.2" y1="665.78" x2="116.2" y2="663.22" stroke="#111" stroke-width="0.6"/>
<line x1="113.8" y1="663.22" x2="118.6" y2="663.22" stroke="#111" stroke-width="0.6"/>
<line x1="116.2" y1="687.67" x2="116.2" y2="669.38" stroke="#111" stroke-width="0.6"/>
<line x1="112.9" y1="669.38" x2="119.5" y2="669.38" stroke="#111" stroke-width="0.6"/>
<line x1="116.2" y1="721.71" x2="116.2" y2="712.1" stroke="#111" stroke-width="0.6"/>
<line x1="112.9" y1="712.1" x2="119.5" y2="712.1" stroke="#111" stroke-width="0.6"/>
<line x1="140.1" y1="660.31" x2="140.1" y2="655.18" stroke="#111" stroke-width="0.6"/>
<line x1="136.8" y1="655.18" x2="143.4" y2="655.18" stroke="#111" stroke-width="0.6"/>
<line x1="140.1" y1="660.31" x2="140.1" y2="658.09" stroke="#111" stroke-width="0.6"/>
<line x1="137.7" y1="658.09" x2="142.5" y2="658.09" stroke="#111" stroke-width="0.6"/>
<line x1="140.1" y1="688.01" x2="140.1" y2="664.08" stroke="#111" stroke-width="0.6"/>
<line x1="136.8" y1="664.08" x2="143.4" y2="664.08" stroke="#111" stroke-width="0.6"/>
<line x1="140.1" y1="723.4" x2="140.1" y2="708.71" stroke="#111" stroke-width="0.6"/>
<line x1="136.8" y1="708.71" x2="143.4" y2="708.71" stroke="#111" stroke-width="0.6"/>
<line x1="164" y1="658.94" x2="164" y2="652.96" stroke="#111" stroke-width="0.6"/>
<line x1="160.7" y1="652.96" x2="167.3" y2="652.96" stroke="#111" stroke-width="0.6"/>
<line x1="164" y1="658.94" x2="164" y2="655.18" stroke="#111" stroke-width="0.6"/>
<line x1="161.6" y1="655.18" x2="166.4" y2="655.18" stroke="#111" stroke-width="0.6"/>
<line x1="164" y1="679.81" x2="164" y2="665.78" stroke="#111" stroke-width="0.6"/>
<line x1="160.7" y1="665.78" x2="167.3" y2="665.78" stroke="#111" stroke-width="0.6"/>
<line x1="164" y1="701.7" x2="164" y2="694" stroke="#111" stroke-width="0.6"/>
<line x1="160.7" y1="694" x2="167.3" y2="694" stroke="#111" stroke-width="0.6"/>
<line x1="188.1" y1="651.25" x2="188.1" y2="643.21" stroke="#111" stroke-width="0.6"/>
<line x1="184.8" y1="643.21" x2="191.4" y2="643.21" stroke="#111" stroke-width="0.6"/>
<line x1="188.1" y1="651.25" x2="188.1" y2="646.12" stroke="#111" stroke-width="0.6"/>
<line x1="185.7" y1="646.12" x2="190.5" y2="646.12" stroke="#111" stroke-width="0.6"/>
<line x1="188.1" y1="676.9" x2="188.1" y2="666.64" stroke="#111" stroke-width="0.6"/>
<line x1="184.8" y1="666.64" x2="191.4" y2="666.64" stroke="#111" stroke-width="0.6"/>
<line x1="188.1" y1="691.43" x2="188.1" y2="680.32" stroke="#111" stroke-width="0.6"/>
<line x1="184.8" y1="680.32" x2="191.4" y2="680.32" stroke="#111" stroke-width="0.6"/>
<line x1="188.1" y1="724.53" x2="188.1" y2="712.1" stroke="#111" stroke-width="0.6"/>
<line x1="184.8" y1="712.1" x2="191.4" y2="712.1" stroke="#111" stroke-width="0.6"/>
<path d="M98.5,676 V639.7 H183.2 V651" fill="none" stroke="#3a3a3a" stroke-width="0.6"/>
<path d="M121.8,666 V643.6 H183.2" fill="none" stroke="#3a3a3a" stroke-width="0.6"/>
<path d="M169.7,669 V647.1 H184.4" fill="none" stroke="#3a3a3a" stroke-width="0.6"/>
<path d="M96.6,704.6 V706.8 M96.6,705.7 H159.7 M159.7,704.4 V707" fill="none" stroke="#3a3a3a" stroke-width="0.6"/>
<path d="M96.6,708.8 V711.2 M96.6,710 H112.4 M112.4,708.8 V711.2" fill="none" stroke="#3a3a3a" stroke-width="0.6"/>
<line x1="52.2" y1="634.8" x2="52.2" y2="702.9" stroke="#000" stroke-width="1.15"/>
<line x1="52.2" y1="706.7" x2="52.2" y2="735.3" stroke="#000" stroke-width="1.15"/>
<line x1="50.6" y1="702.9" x2="53.8" y2="702.9" stroke="#000" stroke-width="1"/>
<line x1="50.6" y1="706.7" x2="53.8" y2="706.7" stroke="#000" stroke-width="1"/>
<line x1="52.2" y1="734.7" x2="204.2" y2="734.7" stroke="#000" stroke-width="1.15"/>
<line x1="48.9" y1="694" x2="52.2" y2="694" stroke="#000" stroke-width="0.9"/>
<text x="45.9" y="695.6" font-size="4.65" fill="#111" text-anchor="end">0.001</text>
<line x1="48.9" y1="676.9" x2="52.2" y2="676.9" stroke="#000" stroke-width="0.9"/>
<text x="45.9" y="678.5" font-size="4.65" fill="#111" text-anchor="end">0.002</text>
<line x1="48.9" y1="659.8" x2="52.2" y2="659.8" stroke="#000" stroke-width="0.9"/>
<text x="45.9" y="661.4" font-size="4.65" fill="#111" text-anchor="end">0.003</text>
<line x1="48.9" y1="642.7" x2="52.2" y2="642.7" stroke="#000" stroke-width="0.9"/>
<text x="45.9" y="644.3" font-size="4.65" fill="#111" text-anchor="end">0.004</text>
<line x1="48.9" y1="734.7" x2="52.2" y2="734.7" stroke="#000" stroke-width="0.9"/>
<text x="45.9" y="736.3" font-size="4.65" fill="#111" text-anchor="end">0.0000</text>
<line x1="48.9" y1="729.05" x2="52.2" y2="729.05" stroke="#000" stroke-width="0.9"/>
<text x="45.9" y="730.65" font-size="4.65" fill="#111" text-anchor="end">0.0001</text>
<line x1="48.9" y1="723.4" x2="52.2" y2="723.4" stroke="#000" stroke-width="0.9"/>
<text x="45.9" y="725" font-size="4.65" fill="#111" text-anchor="end">0.0002</text>
<line x1="48.9" y1="717.75" x2="52.2" y2="717.75" stroke="#000" stroke-width="0.9"/>
<text x="45.9" y="719.35" font-size="4.65" fill="#111" text-anchor="end">0.0003</text>
<line x1="48.9" y1="712.1" x2="52.2" y2="712.1" stroke="#000" stroke-width="0.9"/>
<text x="45.9" y="713.7" font-size="4.65" fill="#111" text-anchor="end">0.0004</text>
<line x1="68.3" y1="734.7" x2="68.3" y2="737.3" stroke="#000" stroke-width="0.9"/>
<text x="68.3" y="744.92" font-size="4.5" fill="#111" text-anchor="middle">HSC</text>
<line x1="92.2" y1="734.7" x2="92.2" y2="737.3" stroke="#000" stroke-width="0.9"/>
<text x="92.2" y="744.92" font-size="4.5" fill="#111" text-anchor="middle">MPP1</text>
<line x1="116.2" y1="734.7" x2="116.2" y2="737.3" stroke="#000" stroke-width="0.9"/>
<text x="116.2" y="744.92" font-size="4.5" fill="#111" text-anchor="middle">MPP2</text>
<line x1="140.1" y1="734.7" x2="140.1" y2="737.3" stroke="#000" stroke-width="0.9"/>
<text x="140.1" y="744.92" font-size="4.5" fill="#111" text-anchor="middle">MPP3</text>
<line x1="164" y1="734.7" x2="164" y2="737.3" stroke="#000" stroke-width="0.9"/>
<text x="164" y="744.92" font-size="4.5" fill="#111" text-anchor="middle">MPP4</text>
<line x1="188.1" y1="734.7" x2="188.1" y2="737.3" stroke="#000" stroke-width="0.9"/>
<text x="188.1" y="744.92" font-size="4.5" fill="#111" text-anchor="middle">MPP5</text>
<text x="139.8" y="631.7" font-size="4.5" fill="#111" text-anchor="middle">*</text>
<text x="164.5" y="631.7" font-size="4.5" fill="#111" text-anchor="middle">*</text>
<text x="188.8" y="631.7" font-size="4.5" fill="#111" text-anchor="middle">**</text>
<text x="188.5" y="635.5" font-size="4.5" fill="#ee9a1c" text-anchor="middle">***</text>
<text x="115.9" y="638.1" font-size="4.5" fill="#6cb5eb" text-anchor="middle">*</text>
<text x="139.8" y="638.1" font-size="4.5" fill="#6cb5eb" text-anchor="middle">*</text>
<text x="164.1" y="638.1" font-size="4.5" fill="#6cb5eb" text-anchor="middle">**</text>
<text x="188.8" y="638.1" font-size="4.5" fill="#6cb5eb" text-anchor="middle">*</text>
<text x="140" y="642" font-size="4.5" fill="#ee9a1c" text-anchor="middle">**</text>
<text x="140" y="645.4" font-size="4.5" fill="#ee9a1c" text-anchor="middle">**</text>
<text x="175.4" y="648.2" font-size="4.5" fill="#ee9a1c" text-anchor="middle">**</text>
<text x="300" y="637.37" font-size="6.86" fill="#111">2 Week Analysis</text>
<line x1="252.7" y1="665.9" x2="400.5" y2="665.9" stroke="#512374" stroke-width="1.2" stroke-dasharray="1.2 2.1"/>
<line x1="252.7" y1="674.2" x2="400.5" y2="674.2" stroke="#ee9a1c" stroke-width="1.2" stroke-dasharray="1.2 2.1"/>
<line x1="252.7" y1="689.4" x2="400.5" y2="689.4" stroke="#6ab344" stroke-width="1.2" stroke-dasharray="1.2 2.1"/>
<line x1="252.7" y1="717.5" x2="400.5" y2="717.5" stroke="#6cb5eb" stroke-width="1.2" stroke-dasharray="1.2 2.1"/>
<line x1="252.7" y1="723" x2="400.5" y2="723" stroke="#2c4f8c" stroke-width="1.2" stroke-dasharray="1.2 2.1"/>
<line x1="252.7" y1="732.5" x2="400.5" y2="732.5" stroke="#b00d2f" stroke-width="1.2" stroke-dasharray="1.2 2.1"/>
<rect x="257.55" y="733.2" width="15.5" height="1.5" fill="#b00d2f" stroke="#0c0c0c" stroke-width="0.7"/>
<rect x="257.55" y="723.42" width="15.5" height="9.78" fill="#2c4f8c" stroke="#0c0c0c" stroke-width="0.7"/>
<rect x="257.55" y="717.4" width="15.5" height="6.02" fill="#6cb5eb" stroke="#0c0c0c" stroke-width="0.7"/>
<rect x="257.55" y="704.6" width="15.5" height="12.8" fill="#6ab344" stroke="#0c0c0c" stroke-width="0.7"/>
<rect x="257.55" y="689.4" width="15.5" height="11" fill="#6ab344" stroke="#0c0c0c" stroke-width="0.7"/>
<rect x="257.55" y="674.7" width="15.5" height="14.7" fill="#ee9a1c" stroke="#0c0c0c" stroke-width="0.7"/>
<rect x="257.55" y="665.88" width="15.5" height="8.82" fill="#512374" stroke="#0c0c0c" stroke-width="0.7"/>
<rect x="281.45" y="734.1" width="15.5" height="0.6" fill="#b00d2f" stroke="#0c0c0c" stroke-width="0.7"/>
<rect x="281.45" y="724.17" width="15.5" height="9.93" fill="#2c4f8c" stroke="#0c0c0c" stroke-width="0.7"/>
<rect x="281.45" y="714.4" width="15.5" height="9.78" fill="#6cb5eb" stroke="#0c0c0c" stroke-width="0.7"/>
<rect x="281.45" y="704.6" width="15.5" height="9.8" fill="#6ab344" stroke="#0c0c0c" stroke-width="0.7"/>
<rect x="281.45" y="695.28" width="15.5" height="5.12" fill="#6ab344" stroke="#0c0c0c" stroke-width="0.7"/>
<rect x="281.45" y="687.44" width="15.5" height="7.84" fill="#ee9a1c" stroke="#0c0c0c" stroke-width="0.7"/>
<rect x="281.45" y="682.54" width="15.5" height="4.9" fill="#512374" stroke="#0c0c0c" stroke-width="0.7"/>
<rect x="305.25" y="723.42" width="15.5" height="11.28" fill="#2c4f8c" stroke="#0c0c0c" stroke-width="0.7"/>
<rect x="305.25" y="715.9" width="15.5" height="7.52" fill="#6cb5eb" stroke="#0c0c0c" stroke-width="0.7"/>
<rect x="305.25" y="704.6" width="15.5" height="11.3" fill="#6ab344" stroke="#0c0c0c" stroke-width="0.7"/>
<rect x="305.25" y="699" width="15.5" height="1.4" fill="#6ab344" stroke="#0c0c0c" stroke-width="0.7"/>
<rect x="305.25" y="694.5" width="15.5" height="4.51" fill="#ee9a1c" stroke="#0c0c0c" stroke-width="0.7"/>
<rect x="305.25" y="693.03" width="15.5" height="1.47" fill="#512374" stroke="#0c0c0c" stroke-width="0.7"/>
<rect x="328.95" y="730.94" width="15.5" height="3.76" fill="#2c4f8c" stroke="#0c0c0c" stroke-width="0.7"/>
<rect x="328.95" y="725.68" width="15.5" height="5.26" fill="#6cb5eb" stroke="#0c0c0c" stroke-width="0.7"/>
<rect x="328.95" y="704.6" width="15.5" height="21.08" fill="#6ab344" stroke="#0c0c0c" stroke-width="0.7"/>
<rect x="328.95" y="698.71" width="15.5" height="1.69" fill="#6ab344" stroke="#0c0c0c" stroke-width="0.7"/>
<rect x="328.95" y="692.34" width="15.5" height="6.37" fill="#ee9a1c" stroke="#0c0c0c" stroke-width="0.7"/>
<rect x="328.95" y="690.87" width="15.5" height="1.47" fill="#512374" stroke="#0c0c0c" stroke-width="0.7"/>
<rect x="352.85" y="732.44" width="15.5" height="2.26" fill="#2c4f8c" stroke="#0c0c0c" stroke-width="0.7"/>
<rect x="352.85" y="725.68" width="15.5" height="6.77" fill="#6cb5eb" stroke="#0c0c0c" stroke-width="0.7"/>
<rect x="352.85" y="707.63" width="15.5" height="18.05" fill="#6ab344" stroke="#0c0c0c" stroke-width="0.7"/>
<rect x="352.85" y="704.6" width="15.5" height="3.03" fill="#ee9a1c" stroke="#0c0c0c" stroke-width="0.7"/>
<rect x="352.85" y="697.24" width="15.5" height="3.16" fill="#ee9a1c" stroke="#0c0c0c" stroke-width="0.7"/>
<rect x="352.85" y="696.26" width="15.5" height="0.98" fill="#512374" stroke="#0c0c0c" stroke-width="0.7"/>
<rect x="376.75" y="728.68" width="15.5" height="6.02" fill="#2c4f8c" stroke="#0c0c0c" stroke-width="0.7"/>
<rect x="376.75" y="718.16" width="15.5" height="10.53" fill="#6cb5eb" stroke="#0c0c0c" stroke-width="0.7"/>
<rect x="376.75" y="704.6" width="15.5" height="13.56" fill="#6ab344" stroke="#0c0c0c" stroke-width="0.7"/>
<rect x="376.75" y="699.2" width="15.5" height="1.2" fill="#6ab344" stroke="#0c0c0c" stroke-width="0.7"/>
<rect x="376.75" y="694.3" width="15.5" height="4.9" fill="#ee9a1c" stroke="#0c0c0c" stroke-width="0.7"/>
<rect x="376.75" y="693.71" width="15.5" height="0.59" fill="#6cb5eb" stroke="#0c0c0c" stroke-width="0.7"/>
<rect x="250.6" y="700.5" width="150" height="4" fill="#fff"/>
<line x1="265.3" y1="665.88" x2="265.3" y2="654.12" stroke="#111" stroke-width="0.6"/>
<line x1="262" y1="654.12" x2="268.6" y2="654.12" stroke="#111" stroke-width="0.6"/>
<line x1="265.3" y1="665.88" x2="265.3" y2="656.08" stroke="#111" stroke-width="0.6"/>
<line x1="262.9" y1="656.08" x2="267.7" y2="656.08" stroke="#111" stroke-width="0.6"/>
<line x1="265.3" y1="689.4" x2="265.3" y2="676.17" stroke="#111" stroke-width="0.6"/>
<line x1="262" y1="676.17" x2="268.6" y2="676.17" stroke="#111" stroke-width="0.6"/>
<line x1="265.3" y1="717.4" x2="265.3" y2="712.14" stroke="#111" stroke-width="0.6"/>
<line x1="262" y1="712.14" x2="268.6" y2="712.14" stroke="#111" stroke-width="0.6"/>
<line x1="265.3" y1="733.2" x2="265.3" y2="730.94" stroke="#111" stroke-width="0.6"/>
<line x1="262" y1="730.94" x2="268.6" y2="730.94" stroke="#111" stroke-width="0.6"/>
<line x1="289.2" y1="682.54" x2="289.2" y2="677.64" stroke="#111" stroke-width="0.6"/>
<line x1="285.9" y1="677.64" x2="292.5" y2="677.64" stroke="#111" stroke-width="0.6"/>
<line x1="289.2" y1="682.54" x2="289.2" y2="679.11" stroke="#111" stroke-width="0.6"/>
<line x1="286.8" y1="679.11" x2="291.6" y2="679.11" stroke="#111" stroke-width="0.6"/>
<line x1="289.2" y1="695.28" x2="289.2" y2="687.93" stroke="#111" stroke-width="0.6"/>
<line x1="285.9" y1="687.93" x2="292.5" y2="687.93" stroke="#111" stroke-width="0.6"/>
<line x1="289.2" y1="714.4" x2="289.2" y2="709.88" stroke="#111" stroke-width="0.6"/>
<line x1="285.9" y1="709.88" x2="292.5" y2="709.88" stroke="#111" stroke-width="0.6"/>
<line x1="289.2" y1="724.17" x2="289.2" y2="715.9" stroke="#111" stroke-width="0.6"/>
<line x1="285.9" y1="715.9" x2="292.5" y2="715.9" stroke="#111" stroke-width="0.6"/>
<line x1="289.2" y1="734.1" x2="289.2" y2="732.44" stroke="#111" stroke-width="0.6"/>
<line x1="285.9" y1="732.44" x2="292.5" y2="732.44" stroke="#111" stroke-width="0.6"/>
<line x1="313" y1="693.03" x2="313" y2="689.6" stroke="#111" stroke-width="0.6"/>
<line x1="309.7" y1="689.6" x2="316.3" y2="689.6" stroke="#111" stroke-width="0.6"/>
<line x1="313" y1="693.03" x2="313" y2="691.36" stroke="#111" stroke-width="0.6"/>
<line x1="310.6" y1="691.36" x2="315.4" y2="691.36" stroke="#111" stroke-width="0.6"/>
<line x1="313" y1="699" x2="313" y2="695.77" stroke="#111" stroke-width="0.6"/>
<line x1="309.7" y1="695.77" x2="316.3" y2="695.77" stroke="#111" stroke-width="0.6"/>
<line x1="313" y1="715.9" x2="313" y2="705.37" stroke="#111" stroke-width="0.6"/>
<line x1="309.7" y1="705.37" x2="316.3" y2="705.37" stroke="#111" stroke-width="0.6"/>
<line x1="313" y1="715.9" x2="313" y2="709.88" stroke="#111" stroke-width="0.6"/>
<line x1="309.7" y1="709.88" x2="316.3" y2="709.88" stroke="#111" stroke-width="0.6"/>
<line x1="313" y1="734.7" x2="313" y2="733.2" stroke="#111" stroke-width="0.6"/>
<line x1="309.7" y1="733.2" x2="316.3" y2="733.2" stroke="#111" stroke-width="0.6"/>
<line x1="336.7" y1="690.87" x2="336.7" y2="684.7" stroke="#111" stroke-width="0.6"/>
<line x1="333.4" y1="684.7" x2="340" y2="684.7" stroke="#111" stroke-width="0.6"/>
<line x1="336.7" y1="690.87" x2="336.7" y2="688.22" stroke="#111" stroke-width="0.6"/>
<line x1="334.3" y1="688.22" x2="339.1" y2="688.22" stroke="#111" stroke-width="0.6"/>
<line x1="336.7" y1="698.71" x2="336.7" y2="693.81" stroke="#111" stroke-width="0.6"/>
<line x1="333.4" y1="693.81" x2="340" y2="693.81" stroke="#111" stroke-width="0.6"/>
<line x1="336.7" y1="725.68" x2="336.7" y2="720.41" stroke="#111" stroke-width="0.6"/>
<line x1="333.4" y1="720.41" x2="340" y2="720.41" stroke="#111" stroke-width="0.6"/>
<line x1="360.6" y1="696.26" x2="360.6" y2="694.1" stroke="#111" stroke-width="0.6"/>
<line x1="357.3" y1="694.1" x2="363.9" y2="694.1" stroke="#111" stroke-width="0.6"/>
<line x1="360.6" y1="707.63" x2="360.6" y2="704.6" stroke="#111" stroke-width="0.6"/>
<line x1="358.2" y1="704.6" x2="363" y2="704.6" stroke="#111" stroke-width="0.6"/>
<line x1="360.6" y1="725.68" x2="360.6" y2="719.66" stroke="#111" stroke-width="0.6"/>
<line x1="357.3" y1="719.66" x2="363.9" y2="719.66" stroke="#111" stroke-width="0.6"/>
<line x1="360.6" y1="732.44" x2="360.6" y2="727.93" stroke="#111" stroke-width="0.6"/>
<line x1="357.3" y1="727.93" x2="363.9" y2="727.93" stroke="#111" stroke-width="0.6"/>
<line x1="384.5" y1="693.71" x2="384.5" y2="691.56" stroke="#111" stroke-width="0.6"/>
<line x1="381.2" y1="691.56" x2="387.8" y2="691.56" stroke="#111" stroke-width="0.6"/>
<line x1="384.5" y1="693.71" x2="384.5" y2="692.54" stroke="#111" stroke-width="0.6"/>
<line x1="382.1" y1="692.54" x2="386.9" y2="692.54" stroke="#111" stroke-width="0.6"/>
<line x1="384.5" y1="699.2" x2="384.5" y2="695.77" stroke="#111" stroke-width="0.6"/>
<line x1="381.2" y1="695.77" x2="387.8" y2="695.77" stroke="#111" stroke-width="0.6"/>
<line x1="384.5" y1="718.16" x2="384.5" y2="711.39" stroke="#111" stroke-width="0.6"/>
<line x1="381.2" y1="711.39" x2="387.8" y2="711.39" stroke="#111" stroke-width="0.6"/>
<line x1="384.5" y1="728.68" x2="384.5" y2="724.17" stroke="#111" stroke-width="0.6"/>
<line x1="381.2" y1="724.17" x2="387.8" y2="724.17" stroke="#111" stroke-width="0.6"/>
<line x1="249.6" y1="642.2" x2="249.6" y2="700.4" stroke="#000" stroke-width="1.15"/>
<line x1="249.6" y1="704.6" x2="249.6" y2="735.3" stroke="#000" stroke-width="1.15"/>
<line x1="248" y1="700.4" x2="251.2" y2="700.4" stroke="#000" stroke-width="1"/>
<line x1="248" y1="704.6" x2="251.2" y2="704.6" stroke="#000" stroke-width="1"/>
<line x1="249.6" y1="734.7" x2="400.6" y2="734.7" stroke="#000" stroke-width="1.15"/>
<line x1="246.3" y1="694.3" x2="249.6" y2="694.3" stroke="#000" stroke-width="0.9"/>
<text x="242.7" y="695.9" font-size="4.65" fill="#111" text-anchor="end">0.01</text>
<line x1="246.3" y1="684.5" x2="249.6" y2="684.5" stroke="#000" stroke-width="0.9"/>
<text x="242.7" y="686.1" font-size="4.65" fill="#111" text-anchor="end">0.02</text>
<line x1="246.3" y1="674.7" x2="249.6" y2="674.7" stroke="#000" stroke-width="0.9"/>
<text x="242.7" y="676.3" font-size="4.65" fill="#111" text-anchor="end">0.03</text>
<line x1="246.3" y1="664.9" x2="249.6" y2="664.9" stroke="#000" stroke-width="0.9"/>
<text x="242.7" y="666.5" font-size="4.65" fill="#111" text-anchor="end">0.04</text>
<line x1="246.3" y1="655.1" x2="249.6" y2="655.1" stroke="#000" stroke-width="0.9"/>
<text x="242.7" y="656.7" font-size="4.65" fill="#111" text-anchor="end">0.05</text>
<line x1="246.3" y1="645.3" x2="249.6" y2="645.3" stroke="#000" stroke-width="0.9"/>
<text x="242.7" y="646.9" font-size="4.65" fill="#111" text-anchor="end">0.06</text>
<line x1="246.3" y1="734.7" x2="249.6" y2="734.7" stroke="#000" stroke-width="0.9"/>
<text x="242.7" y="736.3" font-size="4.65" fill="#111" text-anchor="end">0.000</text>
<line x1="246.3" y1="727.18" x2="249.6" y2="727.18" stroke="#000" stroke-width="0.9"/>
<text x="242.7" y="728.78" font-size="4.65" fill="#111" text-anchor="end">0.001</text>
<line x1="246.3" y1="719.66" x2="249.6" y2="719.66" stroke="#000" stroke-width="0.9"/>
<text x="242.7" y="721.26" font-size="4.65" fill="#111" text-anchor="end">0.002</text>
<line x1="246.3" y1="712.14" x2="249.6" y2="712.14" stroke="#000" stroke-width="0.9"/>
<text x="242.7" y="713.74" font-size="4.65" fill="#111" text-anchor="end">0.003</text>
<line x1="246.3" y1="704.62" x2="249.6" y2="704.62" stroke="#000" stroke-width="0.9"/>
<text x="242.7" y="706.22" font-size="4.65" fill="#111" text-anchor="end">0.004</text>
<line x1="265.3" y1="734.7" x2="265.3" y2="737.3" stroke="#000" stroke-width="0.9"/>
<text x="265.3" y="744.92" font-size="4.5" fill="#111" text-anchor="middle">HSC</text>
<line x1="289.2" y1="734.7" x2="289.2" y2="737.3" stroke="#000" stroke-width="0.9"/>
<text x="289.2" y="744.92" font-size="4.5" fill="#111" text-anchor="middle">MPP1</text>
<line x1="313" y1="734.7" x2="313" y2="737.3" stroke="#000" stroke-width="0.9"/>
<text x="313" y="744.92" font-size="4.5" fill="#111" text-anchor="middle">MPP2</text>
<line x1="336.7" y1="734.7" x2="336.7" y2="737.3" stroke="#000" stroke-width="0.9"/>
<text x="336.7" y="744.92" font-size="4.5" fill="#111" text-anchor="middle">MPP3</text>
<line x1="360.6" y1="734.7" x2="360.6" y2="737.3" stroke="#000" stroke-width="0.9"/>
<text x="360.6" y="744.92" font-size="4.5" fill="#111" text-anchor="middle">MPP4</text>
<line x1="384.5" y1="734.7" x2="384.5" y2="737.3" stroke="#000" stroke-width="0.9"/>
<text x="384.5" y="744.92" font-size="4.5" fill="#111" text-anchor="middle">MPP5</text>
<text x="289.2" y="653.3" font-size="4.5" fill="#111" text-anchor="middle">*</text>
<text x="313" y="653.3" font-size="4.5" fill="#111" text-anchor="middle">***</text>
<text x="336.7" y="653.3" font-size="4.5" fill="#111" text-anchor="middle">**</text>
<text x="360.6" y="653.3" font-size="4.5" fill="#111" text-anchor="middle">***</text>
<text x="384.5" y="653.3" font-size="4.5" fill="#111" text-anchor="middle">***</text>
<text x="313" y="661.7" font-size="4.5" fill="#512374" text-anchor="middle">*</text>
<text x="336.7" y="661.7" font-size="4.5" fill="#512374" text-anchor="middle">*</text>
<text x="360.6" y="661.7" font-size="4.5" fill="#512374" text-anchor="middle">*</text>
<text x="384.5" y="661.7" font-size="4.5" fill="#512374" text-anchor="middle">*</text>
<text x="289.2" y="672.3" font-size="4.5" fill="#ee9a1c" text-anchor="middle">*</text>
<text x="313" y="672.3" font-size="4.5" fill="#ee9a1c" text-anchor="middle">***</text>
<text x="336.7" y="672.3" font-size="4.5" fill="#ee9a1c" text-anchor="middle">**</text>
<text x="360.6" y="672.3" font-size="4.5" fill="#ee9a1c" text-anchor="middle">***</text>
<text x="384.5" y="672.3" font-size="4.5" fill="#ee9a1c" text-anchor="middle">***</text>
<text x="313" y="680.8" font-size="4.5" fill="#6ab344" text-anchor="middle">**</text>
<text x="336.7" y="680.8" font-size="4.5" fill="#6ab344" text-anchor="middle">*</text>
<text x="360.6" y="680.8" font-size="4.5" fill="#6ab344" text-anchor="middle">**</text>
<text x="384.5" y="680.8" font-size="4.5" fill="#6ab344" text-anchor="middle">**</text>
<rect x="409.3" y="648.1" width="5.6" height="3.8" fill="#b00d2f" stroke="#222" stroke-width="0.55"/>
<text x="418" y="651.62" font-size="4.5" fill="#111">HSC</text>
<rect x="409.3" y="655.1" width="5.6" height="3.8" fill="#2c4f8c" stroke="#222" stroke-width="0.55"/>
<text x="418" y="658.62" font-size="4.5" fill="#111">MPP1</text>
<rect x="409.3" y="663.1" width="5.6" height="3.8" fill="#6ab344" stroke="#222" stroke-width="0.55"/>
<text x="418" y="666.62" font-size="4.5" fill="#111">MPP2</text>
<rect x="409.3" y="670.1" width="5.6" height="3.8" fill="#ee9a1c" stroke="#222" stroke-width="0.55"/>
<text x="418" y="673.62" font-size="4.5" fill="#111">MPP3</text>
<rect x="409.3" y="678.1" width="5.6" height="3.8" fill="#512374" stroke="#222" stroke-width="0.55"/>
<text x="418" y="681.62" font-size="4.5" fill="#111">MPP4</text>
<rect x="409.3" y="686.1" width="5.6" height="3.8" fill="#6cb5eb" stroke="#222" stroke-width="0.55"/>
<text x="418" y="689.62" font-size="4.5" fill="#111">MPP5</text>
</svg>
</body></html>
